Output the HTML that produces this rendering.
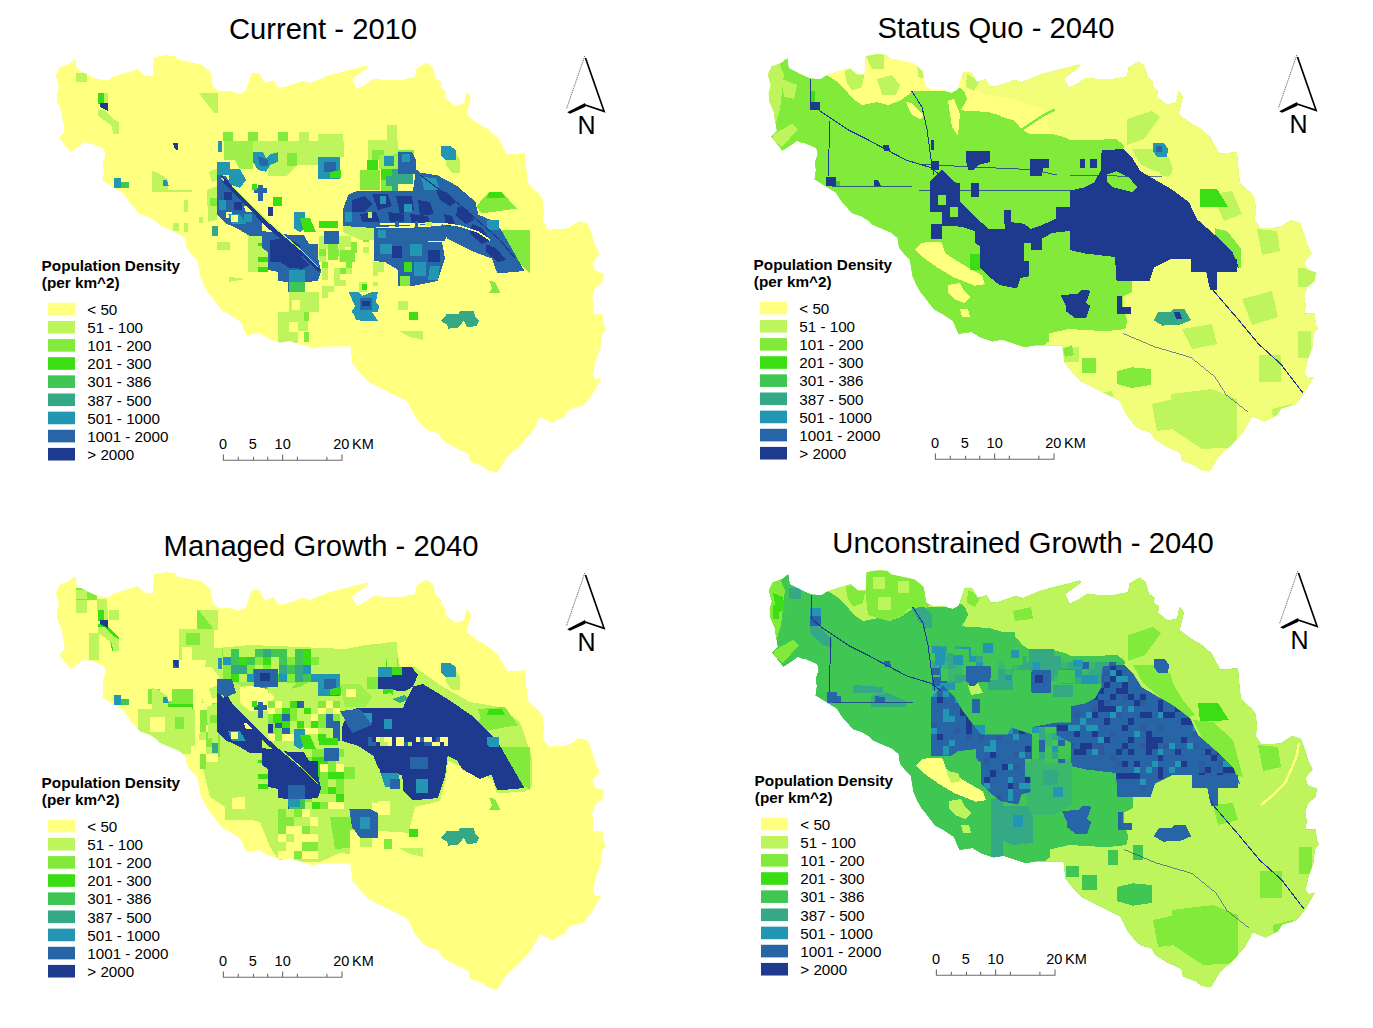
<!DOCTYPE html>
<html><head><meta charset="utf-8"><style>
html,body{margin:0;padding:0;background:#fff;}
body{width:1373px;height:1028px;overflow:hidden;}
svg{display:block;}
text{font-family:"Liberation Sans",sans-serif;fill:#000;}
.ti{font-size:29.2px;}
.lt{font-size:15.3px;font-weight:bold;}
.ll{font-size:15.2px;}
.sb{font-size:14.5px;}
.na{font-size:25px;}
</style></head><body>
<svg width="1373" height="1028" viewBox="0 0 1373 1028">
<defs>
<path id="outline" d="M55.8,75.5 L59.5,67.5 L69,63.9 L75.5,58.8 L77,69 L88,74.8 L98.1,79.2 L108.4,79.9 L114.2,76.3 L137.5,69 L144.8,75.5 L152.8,75.5 L153.6,57.3 L165.2,55.1 L174,55.8 L178.4,59.5 L201.7,64.6 L210.5,71.9 L213.4,87.9 L221.4,91.6 L229.4,90.8 L239.6,93.8 L245.8,90.2 L251.7,72.7 L259,72.7 L264.8,82.9 L273.6,80 L277.9,87.3 L283.8,87.3 L302.7,80.7 L310,82.9 L327.5,75.6 L349.4,69.8 L366.9,65.4 L368.4,67.6 L352.3,79.3 L356.7,88.8 L365.5,84.4 L374.2,78.6 L385.9,80 L400.5,80 L415,77.1 L416.5,68.3 L426.7,62.5 L432.6,66.9 L436,78.6 L441.9,82.9 L440.4,87.3 L446.3,91.7 L444.8,97.5 L455,105.5 L463.8,103.4 L466.7,91.7 L471,97.5 L466.7,115 L478.4,123.8 L488.6,129.6 L498.8,138.4 L503.2,147.1 L507.5,154.4 L525,153 L526.5,169 L528,183.6 L533.8,189.4 L538.4,193.1 L542.8,199 L544.2,212.1 L542.8,220.9 L548.6,229.6 L567.6,228.2 L579.3,220.9 L588,223.8 L592.4,235.5 L595.3,245.7 L599.7,254.5 L592.4,263.2 L595.3,270.5 L604.1,273.4 L602.6,282.2 L595.3,288 L592.4,296.8 L593.9,307 L592.4,314.3 L602.6,314.3 L604.1,325 L606,329.3 L602.1,334 L600.5,348 L595.9,360.5 L592.8,374.5 L595.9,379.1 L602.1,377.6 L591.2,396.3 L583.4,405.6 L569.4,409.5 L564.7,416.5 L552.3,422.7 L539.8,417.3 L532.1,432.1 L519.6,446.1 L507.2,457 L497.8,472.5 L488.5,471 L482.3,466.3 L469.8,461.6 L468.2,453.9 L454.2,447.6 L441.8,439.8 L438.7,433.6 L427.8,430.5 L422.4,426.1 L414.8,416.6 L407.2,401.5 L388.3,392 L369.4,382.5 L359.9,373.1 L352.3,363.6 L350.4,346.6 L323.9,346.6 L312.5,348.5 L289.8,340.9 L280.4,342.8 L269,339 L259.5,333.3 L246.3,335.2 L240.6,322 L229.2,314.4 L221.7,310.6 L210.3,295.4 L208.5,293.5 L204.4,286.6 L200.3,277.1 L198.9,269 L197.6,260.8 L192.1,255.3 L186.7,248.5 L185.3,239 L178.5,233.5 L171.7,230.8 L159.5,225.4 L155.4,221.3 L148.6,217.2 L140.4,214.5 L136.3,210.4 L128.1,200.9 L124,194 L113.2,187.2 L102.3,180.4 L103.6,170.9 L102.5,163.8 L105.4,155 L104,149.2 L93.8,144.8 L87.9,143.4 L85,141.9 L79.2,146.3 L70.4,152.1 L58.8,137.5 L64.6,131.7 L63.1,122.9 L61.7,112.7 L57.3,102.5 L56.6,93.8 L58.8,86.5 Z"/>
<clipPath id="clipO"><use href="#outline"/></clipPath>
</defs>
<g transform="translate(0,0)">
<g clip-path="url(#clipO)" shape-rendering="crispEdges">
<use href="#outline" fill="#FFFF80"/>
<polygon points="75.5,72.6 86.5,72.6 86.5,82.1 75.5,82.1" fill="#BEF55C"/>
<polygon points="98,93 104,93 104,104 98,104" fill="#3ADE12"/>
<polygon points="104,93 108.4,93 108.4,106 104,106" fill="#BEF55C"/>
<polygon points="100,103 108.4,103 108.4,111 100,107" fill="#1E3A8E"/>
<polygon points="98,110 104,110 112,118 118.6,122 118.6,134 113,134 112,126 104,120 98,116" fill="#BEF55C"/>
<polygon points="198.8,93 217.8,93 217.8,112.7 214,112.7" fill="#BEF55C"/>
<polygon points="173,143 178,142.6 178,150.7 175,149" fill="#1E3A8E"/>
<polygon points="114,178.4 121,178.4 121,182 124,182 124,187.9 114,187.9" fill="#2296B2"/>
<polygon points="121,182 128.8,182 128.8,187.9 121,187.9" fill="#40C652"/>
<polygon points="152,171 156,172 168,179 168,190 192,190 192,192 152,192 152,184" fill="#BEF55C"/>
<polygon points="163,180 167,180 169,186 163,186" fill="#2296B2"/>
<polygon points="222.8,132 232.9,132 232.9,141.4 222.8,141.4" fill="#82EA3A"/>
<polygon points="248,132 257.6,132 257.6,141.4 248,141.4" fill="#82EA3A"/>
<polygon points="278.4,132 287.9,132 287.9,141.4 278.4,141.4" fill="#82EA3A"/>
<polygon points="298.7,132 308.8,132 308.8,141.4 298.7,141.4" fill="#BEF55C"/>
<polygon points="318,134 343,134 343,141.4 318,141.4" fill="#BEF55C"/>
<polygon points="224,141.4 253,141.4 253,169.3 240,169.3 235,160 224,160" fill="#9FF04B"/>
<polygon points="253,141.4 344.2,141.4 344.2,156.6 318,156.6 318,165 297,165 287.3,175.6 268.3,175.6 268.3,156.6 253,156.6" fill="#BEF55C"/>
<polygon points="287.3,152.8 297.4,152.8 297.4,165.5 287.3,165.5" fill="#82EA3A"/>
<polygon points="386.6,125 396.7,125 396.7,151.6 386.6,151.6" fill="#BEF55C"/>
<polygon points="367.6,141.4 386,141.4 386,150 377.7,155 377.7,171.8 367.6,171.8" fill="#BEF55C"/>
<polygon points="382.8,150.3 414.4,150.3 414.4,166.7 382.8,166.7" fill="#82EA3A"/>
<polygon points="446,152.8 456,152.8 460,160 460,173 452,173 446,165" fill="#BEF55C"/>
<polygon points="441,145.9 450,145.9 456,150 456,160.4 446,160.4 441,155" fill="#2296B2"/>
<polygon points="209,172 218,168 218,180 212,182" fill="#BEF55C"/>
<polygon points="217,242 230,242 230,250 217,250" fill="#BEF55C"/>
<polygon points="184,200 188,200 188,212 184,212" fill="#BEF55C"/>
<polygon points="173,222.6 178.5,222.6 178.5,230.8 173,230.8" fill="#BEF55C"/>
<polygon points="184,222.6 188,222.6 188,232 184,232" fill="#BEF55C"/>
<polygon points="199,217 203,217 203,222.6 199,222.6" fill="#BEF55C"/>
<polygon points="248,236.3 268.3,236.3 268.3,271.7 248,271.7" fill="#BEF55C"/>
<polygon points="258.2,242.6 268.3,242.6 268.3,246.4 258.2,246.4" fill="#3ADE12"/>
<polygon points="258.2,256.6 268.3,256.6 268.3,261.6 258.2,261.6" fill="#3ADE12"/>
<polygon points="258.2,266.7 268.3,266.7 268.3,271.7 258.2,271.7" fill="#3ADE12"/>
<polygon points="288.5,292 319,292 319,312 308,312 308,331 298,331 298,342.6 278.4,342.6 278.4,312.2 288.5,312.2" fill="#BEF55C"/>
<polygon points="292,300 300,300 300,310 292,310" fill="#FFFF80"/>
<polygon points="288.5,322 298,322 298,332 288.5,332" fill="#FFFF80"/>
<polygon points="304,312 309,312 309,321 304,321" fill="#82EA3A"/>
<polygon points="304,332 309,332 309,342 304,342" fill="#82EA3A"/>
<rect x="319.0" y="236.0" width="6.8" height="6.8" fill="#BEF55C"/><rect x="325.5" y="236.0" width="6.8" height="6.8" fill="#FFFF80"/><rect x="332.0" y="236.0" width="6.8" height="6.8" fill="#FFFF80"/><rect x="338.5" y="236.0" width="6.8" height="6.8" fill="#BEF55C"/><rect x="319.0" y="242.5" width="6.8" height="6.8" fill="#BEF55C"/><rect x="325.5" y="242.5" width="6.8" height="6.8" fill="#BEF55C"/><rect x="332.0" y="242.5" width="6.8" height="6.8" fill="#FFFF80"/><rect x="338.5" y="242.5" width="6.8" height="6.8" fill="#BEF55C"/><rect x="319.0" y="249.0" width="6.8" height="6.8" fill="#82EA3A"/><rect x="325.5" y="249.0" width="6.8" height="6.8" fill="#FFFF80"/><rect x="332.0" y="249.0" width="6.8" height="6.8" fill="#82EA3A"/><rect x="338.5" y="249.0" width="6.8" height="6.8" fill="#BEF55C"/><rect x="319.0" y="255.5" width="6.8" height="6.8" fill="#BEF55C"/><rect x="325.5" y="255.5" width="6.8" height="6.8" fill="#FFFF80"/><rect x="332.0" y="255.5" width="6.8" height="6.8" fill="#FFFF80"/><rect x="338.5" y="255.5" width="6.8" height="6.8" fill="#BEF55C"/>
<rect x="345.0" y="236.0" width="6.3" height="5.8" fill="#BEF55C"/><rect x="351.0" y="236.0" width="6.3" height="5.8" fill="#FFFF80"/><rect x="357.0" y="236.0" width="6.3" height="5.8" fill="#FFFF80"/><rect x="363.0" y="236.0" width="6.3" height="5.8" fill="#82EA3A"/><rect x="345.0" y="241.5" width="6.3" height="5.8" fill="#BEF55C"/><rect x="351.0" y="241.5" width="6.3" height="5.8" fill="#82EA3A"/><rect x="357.0" y="241.5" width="6.3" height="5.8" fill="#FFFF80"/><rect x="363.0" y="241.5" width="6.3" height="5.8" fill="#FFFF80"/><rect x="345.0" y="247.0" width="6.3" height="5.8" fill="#FFFF80"/><rect x="351.0" y="247.0" width="6.3" height="5.8" fill="#82EA3A"/><rect x="357.0" y="247.0" width="6.3" height="5.8" fill="#FFFF80"/><rect x="363.0" y="247.0" width="6.3" height="5.8" fill="#BEF55C"/><rect x="345.0" y="252.5" width="6.3" height="5.8" fill="#82EA3A"/><rect x="351.0" y="252.5" width="6.3" height="5.8" fill="#FFFF80"/><rect x="357.0" y="252.5" width="6.3" height="5.8" fill="#FFFF80"/><rect x="363.0" y="252.5" width="6.3" height="5.8" fill="#FFFF80"/>
<rect x="322.0" y="262.0" width="6.3" height="6.3" fill="#82EA3A"/><rect x="328.0" y="262.0" width="6.3" height="6.3" fill="#FFFF80"/><rect x="334.0" y="262.0" width="6.3" height="6.3" fill="#FFFF80"/><rect x="340.0" y="262.0" width="6.3" height="6.3" fill="#FFFF80"/><rect x="346.0" y="262.0" width="6.3" height="6.3" fill="#82EA3A"/><rect x="322.0" y="268.0" width="6.3" height="6.3" fill="#BEF55C"/><rect x="328.0" y="268.0" width="6.3" height="6.3" fill="#FFFF80"/><rect x="334.0" y="268.0" width="6.3" height="6.3" fill="#BEF55C"/><rect x="340.0" y="268.0" width="6.3" height="6.3" fill="#82EA3A"/><rect x="346.0" y="268.0" width="6.3" height="6.3" fill="#BEF55C"/><rect x="322.0" y="274.0" width="6.3" height="6.3" fill="#BEF55C"/><rect x="328.0" y="274.0" width="6.3" height="6.3" fill="#FFFF80"/><rect x="334.0" y="274.0" width="6.3" height="6.3" fill="#BEF55C"/><rect x="340.0" y="274.0" width="6.3" height="6.3" fill="#FFFF80"/><rect x="346.0" y="274.0" width="6.3" height="6.3" fill="#FFFF80"/><rect x="322.0" y="280.0" width="6.3" height="6.3" fill="#FFFF80"/><rect x="328.0" y="280.0" width="6.3" height="6.3" fill="#FFFF80"/><rect x="334.0" y="280.0" width="6.3" height="6.3" fill="#BEF55C"/><rect x="340.0" y="280.0" width="6.3" height="6.3" fill="#BEF55C"/><rect x="346.0" y="280.0" width="6.3" height="6.3" fill="#FFFF80"/><rect x="322.0" y="286.0" width="6.3" height="6.3" fill="#BEF55C"/><rect x="328.0" y="286.0" width="6.3" height="6.3" fill="#BEF55C"/><rect x="334.0" y="286.0" width="6.3" height="6.3" fill="#FFFF80"/><rect x="340.0" y="286.0" width="6.3" height="6.3" fill="#FFFF80"/><rect x="346.0" y="286.0" width="6.3" height="6.3" fill="#FFFF80"/><rect x="322.0" y="292.0" width="6.3" height="6.3" fill="#BEF55C"/><rect x="328.0" y="292.0" width="6.3" height="6.3" fill="#FFFF80"/><rect x="334.0" y="292.0" width="6.3" height="6.3" fill="#FFFF80"/><rect x="340.0" y="292.0" width="6.3" height="6.3" fill="#FFFF80"/><rect x="346.0" y="292.0" width="6.3" height="6.3" fill="#FFFF80"/>
<polygon points="358.7,281.7 367.4,281.7 367.4,291.8 358.7,291.8" fill="#BEF55C"/>
<polygon points="362,284 367,284 367,290 362,290" fill="#3ADE12"/>
<polygon points="327.7,242.6 337.9,242.6 337.9,260.4 327.7,260.4" fill="#82EA3A"/>
<polygon points="340,250 355,250 355,262 340,262" fill="#82EA3A"/>
<polygon points="229,276.8 245.5,279 229,281.9" fill="#BEF55C"/>
<polygon points="398,300.8 408,300.8 408,309.7 398,309.7" fill="#BEF55C"/>
<polygon points="399.2,331.2 423.2,331.2 423.2,340 410,337" fill="#BEF55C"/>
<polygon points="489,280.6 495,282 500.4,293.2 489,293.2 492,288" fill="#82EA3A"/>
<polygon points="373,271 378,271 378,276 373,276" fill="#BEF55C"/>
<polygon points="373,282 378,282 378,286 373,286" fill="#BEF55C"/>
<polygon points="476.4,206 489,192 501.7,192 516.8,208.5 481.4,213.5" fill="#82EA3A"/>
<polygon points="489,192 501.7,192 505,198 487,198" fill="#3ADE12"/>
<polygon points="492.8,230 530,230 530,273 524.4,268 511.8,255.3 499.1,242.6" fill="#82EA3A"/>
<polygon points="207,190 217,186 217,220 208,222" fill="#BEF55C"/>
<polygon points="210,198 217,198 217,206 210,206" fill="#82EA3A"/>
<polygon points="212,226 218,226 218,236 212,236" fill="#35A985"/>
<polygon points="217,162 230,162 230,174.5 217,174.5" fill="#2296B2"/>
<polygon points="217,174.5 226,176 232,186 240,196 250,206 262,216 262,236 250,236 240,230 232,226 226,224 217,214" fill="#2865A6"/>
<polygon points="224,192 232,192 232,200 224,200" fill="#1E3A8E"/>
<polygon points="234,202 242,202 242,210 234,210" fill="#1E3A8E"/>
<polygon points="219,200 226,200 226,210 219,210" fill="#2296B2"/>
<polygon points="244,214 252,214 252,222 244,222" fill="#2296B2"/>
<polygon points="226,212 232,212 232,218 226,218" fill="#FFFF80"/>
<polygon points="229,169 240,169 246,180 240,188 229,184" fill="#2296B2"/>
<polygon points="228,214 240,214 246,224 232,224" fill="#2296B2"/>
<polygon points="231,215 238,215 238,222 231,222" fill="#FFFF80"/>
<polygon points="244,206 250,206 252,212 246,212" fill="#FFFF80"/>
<polygon points="262,231 276,233 290,235 304,235 309,244 318,244 318,258 321,271 318,281 305,282 305,292 288,292 288,282 278,281 278,272 268,270 268,252 262,248" fill="#2865A6"/>
<polygon points="270,240 288,238 300,245 302,268 290,268 280,262 270,262" fill="#1E3A8E"/>
<polygon points="286,252 300,256 310,265 300,270" fill="#1E3A8E"/>
<polygon points="288.5,270 305,270 305,281.9 288.5,281.9" fill="#2296B2"/>
<polygon points="288.5,281.9 305,281.9 305,292 288.5,292" fill="#40C652"/>
<polygon points="217.7,141.4 222.1,141.4 222.1,151.6 217.7,151.6" fill="#2296B2"/>
<polyline points="222,178 245,200 270,224 300,250 318,268" fill="none" stroke="#BEF55C" stroke-width="2.2"/>
<polyline points="224,181 248,205 272,228 300,252 320,271" fill="none" stroke="#1E3A8E" stroke-width="3"/>
<polygon points="253,152.2 263,152.2 266,158 271,154 277.8,152.2 277.8,162 270,165 266,171.8 258,170 253,162" fill="#2296B2"/>
<polygon points="258,156 268,160 268,166 260,166" fill="#2865A6"/>
<polygon points="318.3,156.6 340.4,156.6 340.4,179.4 318.3,179.4" fill="#2296B2"/>
<polygon points="324,162 336,162 336,172 324,172" fill="#2865A6"/>
<polygon points="330,172 341,170 341,178 330,178" fill="#3ADE12"/>
<polygon points="258,184.5 263,184.5 263,188 267,188 267,193 263,193 263,200.9 258,200.9 258,193 254,193 254,188 258,188" fill="#2865A6"/>
<polygon points="252,184 257,184 257,190 252,190" fill="#3ADE12"/>
<polygon points="273.4,197 282.2,197 282.2,206 273.4,206" fill="#3ADE12"/>
<polygon points="268.3,207.2 272.7,207.2 272.7,216 268.3,216" fill="#1E3A8E"/>
<polygon points="293.6,212.3 305,212.3 305,228 300,232.5 293.6,228" fill="#2296B2"/>
<polygon points="300,218 310,218 316,232 304,232" fill="#3ADE12"/>
<polygon points="318.9,221 337.9,221 337.9,227.5 318.9,227.5" fill="#3ADE12"/>
<polygon points="323.8,231.4 338.7,231.4 338.7,243.8 323.8,243.8" fill="#2865A6"/>
<polygon points="367.7,140 398.4,140 398.4,154 380,156 367.7,159" fill="#BEF55C"/>
<polygon points="372,150 384,150 384,160 372,160" fill="#82EA3A"/>
<polygon points="379.4,154.6 398.4,154.6 398.4,169.2 379.4,169.2" fill="#9FF04B"/>
<polygon points="384,156 394,156 394,166 384,166" fill="#2296B2"/>
<polygon points="380.8,169.2 392,169.2 392,180 380.8,180" fill="#3ADE12"/>
<polygon points="380.8,180 392,180 392,191 380.8,191" fill="#82EA3A"/>
<polygon points="392,169.2 398.4,169.2 398.4,191 392,191" fill="#35A985"/>
<polygon points="386,176 398,176 398,186 386,186" fill="#35A985"/>
<polygon points="398.4,151.7 412,151.7 416,160 416,173.6 398.4,173.6" fill="#2865A6"/>
<polygon points="402,154 410,154 410,162 402,162" fill="#2296B2"/>
<polygon points="398.4,173.6 413,173.6 413,183.8 398.4,183.8" fill="#35A985"/>
<polygon points="367,160 378,160 378,170 367,170" fill="#3ADE12"/>
<polygon points="360,170 380,170 380,190 360,190" fill="#82EA3A"/>
<polygon points="415.9,169.2 420,172.5 437.5,175.4 456.5,185.6 475.4,201.7 478.4,214.8 495.9,222 501.7,231 507.5,241 524.4,271 497.2,273.5 492.2,258.7 472.4,251.3 447.6,238.9 440,228 442,224 432,205 420,192 413,191" fill="#2865A6"/>
<polygon points="420,176 430,178 436,188 426,190" fill="#2296B2"/>
<polygon points="436,190 446,192 456,202 450,206 440,200" fill="#1E3A8E"/>
<polygon points="458,206 468,210 474,220 466,224 456,216" fill="#1E3A8E"/>
<polygon points="472,224 482,228 490,240 482,244 470,234" fill="#1E3A8E"/>
<polygon points="486,244 496,248 506,260 498,262 486,252" fill="#1E3A8E"/>
<polygon points="444,214 452,216 456,226 446,226" fill="#1E3A8E"/>
<polygon points="343,209 348.6,194.3 358.5,190.6 403,190.6 413,191 420,192 432,205 442,224 378,227 373.4,228 358.5,229 343,226" fill="#2865A6"/>
<polygon points="352,200 364,196 372,204 364,212 352,212" fill="#1E3A8E"/>
<polygon points="372,194 388,194 392,206 378,210" fill="#1E3A8E"/>
<polygon points="396,196 412,196 414,210 400,214" fill="#1E3A8E"/>
<polygon points="418,200 430,202 434,214 420,216" fill="#1E3A8E"/>
<polygon points="360,214 376,212 380,222 362,222" fill="#1E3A8E"/>
<polygon points="388,212 404,214 404,222 390,222" fill="#1E3A8E"/>
<polygon points="410,214 428,216 430,224 412,224" fill="#1E3A8E"/>
<polygon points="345,212 352,212 352,222 345,222" fill="#2296B2"/>
<polygon points="380,196 386,196 386,204 380,204" fill="#2296B2"/>
<polygon points="404,204 412,204 412,212 404,212" fill="#2296B2"/>
<polygon points="368,212 372,212 372,218 368,218" fill="#BEF55C"/>
<polygon points="380,222.5 400,223 420,223 442,222.5 444,224 420,224.5 400,225 380,225" fill="#FFFF80"/>
<polygon points="395,221 399,221 399,227 395,227" fill="#2865A6"/>
<polyline points="442,223.5 460,226 478,232 490,240" fill="none" stroke="#FFFF80" stroke-width="1.6"/>
<polygon points="422,178 436,178 440,190 424,190" fill="#2296B2"/>
<polygon points="415,221 418,221 418,227 415,227" fill="#2865A6"/>
<polygon points="425,222 432,222 432,226 425,226" fill="#BEF55C"/>
<polygon points="373.6,228 405.6,228 405.6,240.7 373.6,240.7" fill="#2865A6"/>
<polygon points="343,226 373.6,228 373.6,240 360,240 343,232" fill="#BEF55C"/>
<polygon points="378,230 386,230 386,238 378,238" fill="#2296B2"/>
<polygon points="405.6,228 440,226 448,232 445,240.7 405.6,240.7" fill="#2865A6"/>
<polygon points="373.6,240.7 405.6,240.7 442,242 445,258.7 437.7,281 413,286 398,286 398,270 385,262 373.6,261" fill="#2865A6"/>
<polygon points="380,244 392,244 392,254 380,254" fill="#2296B2"/>
<polygon points="392,246 402,246 402,258 392,258" fill="#1E3A8E"/>
<polygon points="410,244 422,244 422,256 410,256" fill="#2296B2"/>
<polygon points="404,262 412,262 412,272 404,272" fill="#3ADE12"/>
<polygon points="414,262 426,262 426,276 414,276" fill="#2296B2"/>
<polygon points="400,276 410,276 410,286 400,286" fill="#82EA3A"/>
<polygon points="428,250 440,250 440,262 428,262" fill="#1E3A8E"/>
<polygon points="430,266 440,266 438,280 428,280" fill="#2296B2"/>
<polygon points="373,262 384,262 384,272 373,272" fill="#BEF55C"/>
<polygon points="486.5,220 499,220 499,230 486.5,230" fill="#2296B2"/>
<polygon points="348.5,292 358,292 362,296 372,292 378,292 376,302 379,306 378,312 372,312 378,321 360,321 352,312 355,306" fill="#2296B2"/>
<polygon points="360,298 372,298 372,310 360,310" fill="#2865A6"/>
<polygon points="362,301 370,301 370,306 362,306" fill="#1E3A8E"/>
<polygon points="352,310 366,310 368,320 356,320" fill="#2296B2"/>
<polygon points="408.7,311.6 418.2,311.6 418.2,320.4 408.7,320.4" fill="#3ADE12"/>
<polygon points="441,321 447.3,313.5 458.7,313.5 460,311 473.8,311 475.1,316 478.9,321 476.4,326 467.5,327.4 463.7,321 458.7,327.4 448.5,328.7 447.3,324.9" fill="#35A985"/>
<polyline points="222,176 240,196 262,222 300,255" fill="none" stroke="#1E3A8E" stroke-width="1.5"/>
<polyline points="420,175 460,205 500,240 515,258" fill="none" stroke="#1E3A8E" stroke-width="1.2"/>
</g>
<text x="41.6" y="271.3" class="lt">Population Density</text>
<text x="41.8" y="287.8" class="lt">(per km^2)</text>
<rect x="48" y="302.80" width="27" height="12.6" fill="#FFFF80"/>
<text x="87.3" y="314.90" class="ll">< 50</text>
<rect x="48" y="320.94" width="27" height="12.6" fill="#BEF55C"/>
<text x="87.3" y="333.04" class="ll">51 - 100</text>
<rect x="48" y="339.08" width="27" height="12.6" fill="#82EA3A"/>
<text x="87.3" y="351.18" class="ll">101 - 200</text>
<rect x="48" y="357.22" width="27" height="12.6" fill="#3ADE12"/>
<text x="87.3" y="369.32" class="ll">201 - 300</text>
<rect x="48" y="375.36" width="27" height="12.6" fill="#40C652"/>
<text x="87.3" y="387.46" class="ll">301 - 386</text>
<rect x="48" y="393.50" width="27" height="12.6" fill="#35A985"/>
<text x="87.3" y="405.60" class="ll">387 - 500</text>
<rect x="48" y="411.64" width="27" height="12.6" fill="#2296B2"/>
<text x="87.3" y="423.74" class="ll">501 - 1000</text>
<rect x="48" y="429.78" width="27" height="12.6" fill="#2865A6"/>
<text x="87.3" y="441.88" class="ll">1001 - 2000</text>
<rect x="48" y="447.92" width="27" height="12.6" fill="#1E3A8E"/>
<text x="87.3" y="460.02" class="ll">> 2000</text>
<path d="M223.4 454.5 V460.2 H342 V454.5 M238.3 456.8 V460.2 M253.5 456.8 V460.2 M267.7 456.8 V460.2 M282.6 454.5 V460.2 M297.4 456.8 V460.2 M326.9 456.8 V460.2" fill="none" stroke="#6b6b6b" stroke-width="1.1"/>
<text x="219.0" y="449.4" class="sb">0</text>
<text x="248.7" y="449.4" class="sb">5</text>
<text x="274.6" y="449.4" class="sb">10</text>
<text x="333.3" y="449.4" class="sb">20</text>
<text x="352.0" y="449.4" class="sb">KM</text>
<path d="M584.8 56 L566.4 109.1" stroke="#444" stroke-width="0.8" stroke-dasharray="1.2 0.8" fill="none"/>
<path d="M585.5 58 L604.1 111.3 L584.4 104.8" stroke="#000" stroke-width="1.7" fill="none" stroke-linejoin="miter"/>
<path d="M569 112.3 L584.4 104.3 L584.6 106.2 L570 112.8 Z" fill="#000" stroke="#000" stroke-width="1.6"/>
<text x="577.6" y="133.5" class="na">N</text>
</g>
<text x="323" y="38.6" class="ti" text-anchor="middle">Current - 2010</text>
<g transform="translate(712,-1)">
<g clip-path="url(#clipO)" shape-rendering="crispEdges">
<use href="#outline" fill="#82EA3A"/>
<polygon points="55,70 66,62 72,75 68,110 62,130 56,120" fill="#BEF55C"/>
<polygon points="62,135 80,125 86,130 70,148 60,140" fill="#BEF55C"/>
<polygon points="70,80 85,86 82,100 72,98" fill="#BEF55C"/>
<polygon points="100,50 113.6,75.4 125.3,82.7 132.6,90 141.4,100.2 150.1,106 164.7,103.1 176.4,106 188,101.7 198.3,94.4 199.7,91.5 236.2,91.5 248,88.6 252,92 255.3,100 248.9,111.3 276.1,113 287.4,116.2 288,117.3 302.6,121.6 309.9,130.4 317,134.8 339,134.8 350.7,137.7 357.3,140.6 368,141.3 388,140.6 404.5,140.2 412.5,146.6 411,150 440,200 470,240 450.5,260 439.6,268.8 437.4,281.9 420,281.9 420,292.8 411.2,297.2 411.2,310.3 415.5,321.3 413.3,330 393.6,332.2 356.4,330 336.8,334.4 337.2,342 330,348 330,490 630,490 630,50" fill="#F2FD79"/>
<polygon points="113.6,75.4 125.3,82.7 132.6,90 141.4,100.2 150.1,106 164.7,103.1 176.4,106 188,101.7 198.3,94.4 199.7,91.5 236.2,91.5 248,88.6 252,92 255.3,100 248.9,111.3 276.1,113 287.4,116.2 288,117.3 302.6,121.6 309.9,130.4 317,134.8 339,134.8 335,120 330,110 300,100 270,95 250,80 240,60 110,60" fill="#FFFF80"/>
<polygon points="193.9,103.1 200,104 211.4,116 209,120.6 200,116" fill="#FFFF80"/>
<polygon points="236,101.7 242,100 248,115 246,136.7 240,128" fill="#FFFF80"/>
<polygon points="132.6,72 145,68 153,72 150,88 140,91.5 135,84" fill="#BEF55C"/>
<polygon points="153,55 172,55 172,69.6 160,70" fill="#BEF55C"/>
<polygon points="165,80 180,76 188,86 184,96 170,96" fill="#BEF55C"/>
<polygon points="205,62 215,66 214,80 206,78" fill="#BEF55C"/>
<polygon points="255,75 268,82 262,92 254,88" fill="#BEF55C"/>
<polygon points="415,120 440,112 448,118 432,140 415,146" fill="#BEF55C"/>
<polygon points="420,150 448,150 460,175 442,172 428,165" fill="#BEF55C"/>
<polygon points="350,347.5 367,347.5 367,363 350,363" fill="#BEF55C"/>
<polygon points="459,395 500,390 525,400 525,448 490,450 460,430" fill="#BEF55C"/>
<polygon points="547,356 569,356 569,382.5 547,382.5" fill="#BEF55C"/>
<polygon points="586,268.8 604,268.8 604,288.4 586,288.4" fill="#BEF55C"/>
<polygon points="586,332 599,332 599,358.5 586,358.5" fill="#BEF55C"/>
<polygon points="470,330 500,325 505,345 480,350" fill="#BEF55C"/>
<polygon points="530,300 560,292 566,318 540,326" fill="#BEF55C"/>
<polygon points="500,195 520,192 530,215 512,222" fill="#BEF55C"/>
<polygon points="545,230 565,232 568,252 550,256" fill="#BEF55C"/>
<polygon points="440,405 462,400 462,430 445,432" fill="#BEF55C"/>
<polygon points="380,395 400,392 405,412 385,415" fill="#BEF55C"/>
<polygon points="560,410 580,405 582,430 562,432" fill="#BEF55C"/>
<polyline points="309.9,130.4 320,124 332,116 342.7,110.7" fill="none" stroke="#82EA3A" stroke-width="2.5"/>
<polygon points="203,250.2 210.3,243.6 229.3,243 233.6,254.6 249.7,264.8 270.1,276.5 273,285.2 262.8,286.7 241,278 226.4,269.2 211.8,259" fill="#FFFF80"/>
<polygon points="236,286 248,284 252,292 258,298 252,304 242,300 236,294" fill="#FFFF80"/>
<polygon points="248,310 256,310 258,318 250,318" fill="#FFFF80"/>
<polygon points="258.4,254.6 268.7,254.6 268.7,270.6 258.4,270.6" fill="#3ADE12"/>
<polygon points="98.3,92.2 103.4,92.2 103.4,103.1 98.3,103.1" fill="#3ADE12"/>
<polygon points="487.7,190 505,190 516,207.5 487.7,207.5" fill="#3ADE12"/>
<polygon points="503,229.4 515,232 529.3,250 529.3,268.8 503,262" fill="#82EA3A"/>
<polygon points="119.5,182 128.2,182 128.2,187 119.5,187" fill="#40C652"/>
<polygon points="217.5,182.8 229.8,170.5 242,182.8 248,184.5 248,202 257.8,212.5 264.8,219.5 277,230 292.8,230 292.8,212.5 298,212.5 298,223 312,224.8 319,230 330,226 343.5,220 343.5,207.6 358,207.6 358,191.6 372.4,188.4 382,183.6 388.5,172.3 388.5,159.5 390,151.5 411,149.9 420.6,159.5 428.6,172.3 441.8,180 459.3,190 476.8,203 485.5,220.7 503,236 520.6,253.5 527,268.8 516.2,264.4 492,260 459.3,260 441.8,268.8 437.4,281.9 404.6,281.9 403,258 373.3,254.5 357.5,251 357.5,232 340,234 329.5,240 329.5,251 319,251 319,244 312,244 312,261.5 317.3,261.5 317.3,277.3 308.5,279 305,289.6 287.5,286 278.8,279 268.3,268.5 268.3,247.5 263,244 263,232 250,228 238.5,226.5 229.8,226.5 229.8,212.5 217.5,212.5" fill="#1E3A8E"/>
<polygon points="226,196 234,196 234,206 226,206" fill="#82EA3A"/>
<polygon points="238,208 246,208 246,218 238,218" fill="#82EA3A"/>
<polygon points="394.9,175.5 404.5,172.3 417.3,178.7 425.4,188.4 420.6,193.2 401.3,188.4 394.9,182" fill="#82EA3A"/>
<polygon points="218.7,161.6 227.4,161.6 227.4,170.5 218.7,170.5" fill="#1E3A8E"/>
<polygon points="218.7,141 221.6,141 221.6,151.3 218.7,151.3" fill="#1E3A8E"/>
<polygon points="218.7,225 229.6,225 229.6,240.4 218.7,240.4" fill="#1E3A8E"/>
<polygon points="253.7,151.5 277.7,151.5 277.7,163 266,166 262,170.7 256,170.7 253.7,160" fill="#1E3A8E"/>
<polygon points="317.9,159.5 337.1,159.5 337.1,169 331,169 330,177.1 317.9,177.1" fill="#1E3A8E"/>
<polygon points="367.6,159.5 373,159.5 373,169.1 367.6,169.1" fill="#1E3A8E"/>
<polygon points="378,160 385.3,160 385.3,169.1 378,169.1" fill="#1E3A8E"/>
<polygon points="258.5,183.6 267.3,183.6 267.3,198 258.5,198" fill="#1E3A8E"/>
<polygon points="292,210.8 298.6,210.8 298.6,225 292,225" fill="#1E3A8E"/>
<polygon points="113.6,177.5 123.9,177.5 123.9,187 113.6,187" fill="#1E3A8E"/>
<polygon points="98.3,103.1 107.8,103.1 107.8,111.2 98.3,111.2" fill="#1E3A8E"/>
<polygon points="348.8,296 365.2,295 369.6,290.6 378.3,291.7 374,303.8 378.3,307 374,319 363,319 354.3,312.5 354.3,308" fill="#1E3A8E"/>
<polygon points="404.6,297.2 410,297.2 410,308 418.8,308 418.8,314.7 404.6,314.7" fill="#1E3A8E"/>
<polygon points="494.3,273 505.2,273 505.2,290.6 498,290.6" fill="#1E3A8E"/>
<polygon points="171,146 177,146 178,152 172,152" fill="#1E3A8E"/>
<polygon points="161.8,180.5 166,180.5 169,187 161.8,187" fill="#1E3A8E"/>
<polygon points="479,260 525,260 525,273 479,273" fill="#1E3A8E"/>
<polygon points="441.8,321.3 446.2,312.5 459.3,312.5 461.5,310.3 472.4,310.3 479,321.3 468,325.6 457,325.6 450.5,326.7" fill="#35A985"/>
<polygon points="462,313 468,313 470,320 464,320" fill="#1E3A8E"/>
<polygon points="441,144 452,144 456,150 455,159 446,159 441,152" fill="#2296B2"/>
<polygon points="444,147 450,147 450,153 444,153" fill="#2865A6"/>
<polygon points="446,158 457,158 461,170 457,178 448,176" fill="#BEF55C"/>
<polygon points="369.6,358.5 383.8,358.5 383.8,373.8 369.6,373.8" fill="#82EA3A"/>
<polygon points="404.6,372 420,368.3 438.5,370 438.5,386 420,389 404.6,385" fill="#82EA3A"/>
<polygon points="351,350 360,346 362,356 353,358" fill="#82EA3A"/>
<polyline points="98.3,80 99,104 108,112 118,118.7 135.5,130.4 150.1,137.7 172,149.4 193.9,161 218,168.3 228,176" fill="none" stroke="#1E3A8E" stroke-width="1.1"/>
<polyline points="118,122 116,178" fill="none" stroke="#1E3A8E" stroke-width="1.0"/>
<polyline points="199.7,92 210,108 215,130 219,160 222,176" fill="none" stroke="#1E3A8E" stroke-width="1.0"/>
<polyline points="120,187 200,187" fill="none" stroke="#1E3A8E" stroke-width="0.8"/>
<polyline points="207,165 260,168 319,170.5 345,176" fill="none" stroke="#1E3A8E" stroke-width="0.8"/>
<polyline points="207,191.5 357.5,191.5" fill="none" stroke="#1E3A8E" stroke-width="0.8"/>
<polyline points="357.5,176 450,178" fill="none" stroke="#1E3A8E" stroke-width="0.7"/>
<polyline points="496,282 500,290 512,304 525,319 546.8,345.3 568.7,365 590.6,393.5" fill="none" stroke="#1E3A8E" stroke-width="1.1"/>
<polyline points="411,334.4 441.8,347.5 479,358.5 503,378 514,395.7 536,413" fill="none" stroke="#1E3A8E" stroke-width="0.6"/>
</g>
<text x="41.6" y="271.3" class="lt">Population Density</text>
<text x="41.8" y="287.8" class="lt">(per km^2)</text>
<rect x="48" y="302.80" width="27" height="12.6" fill="#FFFF80"/>
<text x="87.3" y="314.90" class="ll">< 50</text>
<rect x="48" y="320.94" width="27" height="12.6" fill="#BEF55C"/>
<text x="87.3" y="333.04" class="ll">51 - 100</text>
<rect x="48" y="339.08" width="27" height="12.6" fill="#82EA3A"/>
<text x="87.3" y="351.18" class="ll">101 - 200</text>
<rect x="48" y="357.22" width="27" height="12.6" fill="#3ADE12"/>
<text x="87.3" y="369.32" class="ll">201 - 300</text>
<rect x="48" y="375.36" width="27" height="12.6" fill="#40C652"/>
<text x="87.3" y="387.46" class="ll">301 - 386</text>
<rect x="48" y="393.50" width="27" height="12.6" fill="#35A985"/>
<text x="87.3" y="405.60" class="ll">387 - 500</text>
<rect x="48" y="411.64" width="27" height="12.6" fill="#2296B2"/>
<text x="87.3" y="423.74" class="ll">501 - 1000</text>
<rect x="48" y="429.78" width="27" height="12.6" fill="#2865A6"/>
<text x="87.3" y="441.88" class="ll">1001 - 2000</text>
<rect x="48" y="447.92" width="27" height="12.6" fill="#1E3A8E"/>
<text x="87.3" y="460.02" class="ll">> 2000</text>
<path d="M223.4 454.5 V460.2 H342 V454.5 M238.3 456.8 V460.2 M253.5 456.8 V460.2 M267.7 456.8 V460.2 M282.6 454.5 V460.2 M297.4 456.8 V460.2 M326.9 456.8 V460.2" fill="none" stroke="#6b6b6b" stroke-width="1.1"/>
<text x="219.0" y="449.4" class="sb">0</text>
<text x="248.7" y="449.4" class="sb">5</text>
<text x="274.6" y="449.4" class="sb">10</text>
<text x="333.3" y="449.4" class="sb">20</text>
<text x="352.0" y="449.4" class="sb">KM</text>
<path d="M584.8 56 L566.4 109.1" stroke="#444" stroke-width="0.8" stroke-dasharray="1.2 0.8" fill="none"/>
<path d="M585.5 58 L604.1 111.3 L584.4 104.8" stroke="#000" stroke-width="1.7" fill="none" stroke-linejoin="miter"/>
<path d="M569 112.3 L584.4 104.3 L584.6 106.2 L570 112.8 Z" fill="#000" stroke="#000" stroke-width="1.6"/>
<text x="577.6" y="133.5" class="na">N</text>
</g>
<text x="996" y="38.4" class="ti" text-anchor="middle">Status Quo - 2040</text>
<g transform="translate(0,517)">
<g clip-path="url(#clipO)" shape-rendering="crispEdges">
<use href="#outline" fill="#FFFF80"/>
<polygon points="75.7,71.4 97.2,71.4 97.2,82.6 75.7,82.6" fill="#82EA3A"/>
<polygon points="75.7,82.6 87,82.6 87,96 75.7,96" fill="#BEF55C"/>
<polygon points="97.2,81.6 107.4,81.6 107.4,93.8 97.2,93.8" fill="#BEF55C"/>
<polygon points="98.2,92.8 108.4,92.8 108.4,104 98.2,104" fill="#2296B2"/>
<polygon points="102,104 108.4,104 108.4,111.2 102,111.2" fill="#2865A6"/>
<polygon points="98.2,107 106,107 118.6,120 118.6,133.7 112,133.7 110,124 98.2,114" fill="#3ADE12"/>
<polygon points="89,116.3 99.2,116.3 99.2,143 89,143" fill="#BEF55C"/>
<polygon points="109.4,92.8 118.6,92.8 118.6,103 109.4,103" fill="#BEF55C"/>
<polygon points="197.3,92.8 217.7,92.8 217.7,112.2 197.3,112.2" fill="#82EA3A"/>
<polygon points="179,112.2 213.6,112.2 213.6,143 179,143" fill="#BEF55C"/>
<polygon points="186,116 200,116 200,128 186,128" fill="#82EA3A"/>
<polygon points="182,130 192,130 192,143 182,143" fill="#FFFF80"/>
<polygon points="148,171.5 193,171.5 193,186.8 148,186.8" fill="#82EA3A"/>
<polygon points="160,172 172,172 172,184 160,184" fill="#FFFF80"/>
<polygon points="158.5,186.8 193,186.8 193,191.9 158.5,191.9" fill="#3ADE12"/>
<polygon points="138,191.9 195,191.9 195,228.6 138,228.6" fill="#BEF55C"/>
<polygon points="150,200 165,200 165,215 150,215" fill="#FFFF80"/>
<polygon points="175,200 185,200 185,212 175,212" fill="#82EA3A"/>
<polygon points="160.5,222.5 191,222.5 191,236.8 160.5,236.8" fill="#BEF55C"/>
<polygon points="172.8,142.9 178.9,142.9 178.9,151 172.8,151" fill="#2865A6"/>
<polygon points="207,132 250,128 300,130 345,132 366,128 396,125 400,150 415,150 440,168 470,185 500,190 520,205 532,240 532,270 524,275 497,276 492,262 472,254 448,244 446,262 440,284 415,290 410,310 420,342 380,340 340,336 320,345 300,345 280,345 270,330 260,305 240,300 225,290 210,280 205,260 200,240 200,200" fill="#BEF55C"/>
<polygon points="222,132 260,132 260,141 340,141 340,160 318,160 300,170 268,176 250,170 224,162" fill="#82EA3A"/>
<polygon points="240,136 256,136 256,150 240,150" fill="#3ADE12"/>
<polygon points="268,132 282,132 282,140 268,140" fill="#3ADE12"/>
<polygon points="300,140 316,140 316,152 300,152" fill="#3ADE12"/>
<polygon points="200,200 220,200 220,240 205,240" fill="#82EA3A"/>
<polygon points="300,232 340,232 345,270 330,290 305,292 300,270" fill="#82EA3A"/>
<polygon points="318,245 330,245 330,262 318,262" fill="#3ADE12"/>
<polygon points="336,268 346,268 346,285 336,285" fill="#3ADE12"/>
<polygon points="330,300 360,300 362,330 335,332" fill="#82EA3A"/>
<polygon points="300,315 312,315 312,330 300,330" fill="#3ADE12"/>
<polygon points="368,141 398,141 398,170 368,170" fill="#82EA3A"/>
<polygon points="376,145 392,145 392,160 376,160" fill="#3ADE12"/>
<polygon points="478,192 505,190 518,208 485,214" fill="#82EA3A"/>
<polygon points="489,192 502,192 505,200 487,200" fill="#3ADE12"/>
<polygon points="492,230 530,230 530,273 505,255" fill="#82EA3A"/>
<polygon points="225,273 259,273 259,303 225,303" fill="#BEF55C"/>
<polygon points="232,280 245,280 245,292 232,292" fill="#FFFF80"/>
<polygon points="372,284 390,284 390,298 372,298" fill="#FFFF80"/>
<polygon points="240,170 262,168 274,180 270,194 250,194 240,186" fill="#FFFF80"/>
<polygon points="340,167 360,167 372,180 366,190 345,190" fill="#9FF04B"/>
<polygon points="346,172 356,172 356,180 346,180" fill="#FFFF80"/>
<polygon points="200,150 212,150 219,160 219,189 205,189 200,175" fill="#FFFF80"/>
<polygon points="350,313 400,315 440,320 440,350 350,350" fill="#FFFF80"/>
<polygon points="360,318 372,318 372,330 360,330" fill="#BEF55C"/>
<polygon points="384,322 392,322 392,332 384,332" fill="#82EA3A"/>
<polygon points="75.5,72.6 86.5,72.6 86.5,82.1 75.5,82.1" fill="#BEF55C"/>
<polygon points="98,93 104,93 104,104 98,104" fill="#3ADE12"/>
<polygon points="104,93 108.4,93 108.4,106 104,106" fill="#BEF55C"/>
<polygon points="100,103 108.4,103 108.4,111 100,107" fill="#1E3A8E"/>
<polygon points="98,110 104,110 112,118 118.6,122 118.6,134 113,134 112,126 104,120 98,116" fill="#BEF55C"/>
<polygon points="198.8,93 217.8,93 217.8,112.7 214,112.7" fill="#BEF55C"/>
<polygon points="173,143 178,142.6 178,150.7 175,149" fill="#1E3A8E"/>
<polygon points="114,178.4 121,178.4 121,182 124,182 124,187.9 114,187.9" fill="#2296B2"/>
<polygon points="121,182 128.8,182 128.8,187.9 121,187.9" fill="#40C652"/>
<polygon points="152,171 156,172 168,179 168,190 192,190 192,192 152,192 152,184" fill="#BEF55C"/>
<polygon points="163,180 167,180 169,186 163,186" fill="#2296B2"/>
<polygon points="222.8,132 232.9,132 232.9,141.4 222.8,141.4" fill="#82EA3A"/>
<polygon points="248,132 257.6,132 257.6,141.4 248,141.4" fill="#82EA3A"/>
<polygon points="278.4,132 287.9,132 287.9,141.4 278.4,141.4" fill="#82EA3A"/>
<polygon points="298.7,132 308.8,132 308.8,141.4 298.7,141.4" fill="#BEF55C"/>
<polygon points="318,134 343,134 343,141.4 318,141.4" fill="#BEF55C"/>
<polygon points="224,141.4 253,141.4 253,169.3 240,169.3 235,160 224,160" fill="#9FF04B"/>
<polygon points="253,141.4 344.2,141.4 344.2,156.6 318,156.6 318,165 297,165 287.3,175.6 268.3,175.6 268.3,156.6 253,156.6" fill="#BEF55C"/>
<polygon points="287.3,152.8 297.4,152.8 297.4,165.5 287.3,165.5" fill="#82EA3A"/>
<polygon points="386.6,125 396.7,125 396.7,151.6 386.6,151.6" fill="#BEF55C"/>
<polygon points="367.6,141.4 386,141.4 386,150 377.7,155 377.7,171.8 367.6,171.8" fill="#BEF55C"/>
<polygon points="382.8,150.3 414.4,150.3 414.4,166.7 382.8,166.7" fill="#82EA3A"/>
<polygon points="446,152.8 456,152.8 460,160 460,173 452,173 446,165" fill="#BEF55C"/>
<polygon points="441,145.9 450,145.9 456,150 456,160.4 446,160.4 441,155" fill="#2296B2"/>
<polygon points="209,172 218,168 218,180 212,182" fill="#BEF55C"/>
<polygon points="217,242 230,242 230,250 217,250" fill="#BEF55C"/>
<polygon points="184,200 188,200 188,212 184,212" fill="#BEF55C"/>
<polygon points="173,222.6 178.5,222.6 178.5,230.8 173,230.8" fill="#BEF55C"/>
<polygon points="184,222.6 188,222.6 188,232 184,232" fill="#BEF55C"/>
<polygon points="199,217 203,217 203,222.6 199,222.6" fill="#BEF55C"/>
<polygon points="248,236.3 268.3,236.3 268.3,271.7 248,271.7" fill="#BEF55C"/>
<polygon points="258.2,242.6 268.3,242.6 268.3,246.4 258.2,246.4" fill="#3ADE12"/>
<polygon points="258.2,256.6 268.3,256.6 268.3,261.6 258.2,261.6" fill="#3ADE12"/>
<polygon points="258.2,266.7 268.3,266.7 268.3,271.7 258.2,271.7" fill="#3ADE12"/>
<polygon points="288.5,292 319,292 319,312 308,312 308,331 298,331 298,342.6 278.4,342.6 278.4,312.2 288.5,312.2" fill="#BEF55C"/>
<polygon points="292,300 300,300 300,310 292,310" fill="#FFFF80"/>
<polygon points="288.5,322 298,322 298,332 288.5,332" fill="#FFFF80"/>
<polygon points="304,312 309,312 309,321 304,321" fill="#82EA3A"/>
<polygon points="304,332 309,332 309,342 304,342" fill="#82EA3A"/>
<polygon points="319,235 370,235 370,262 360,275 352,290 340,300 330,300 325,280 319,262" fill="#BEF55C"/>
<polygon points="327.7,242.6 337.9,242.6 337.9,260.4 327.7,260.4" fill="#82EA3A"/>
<polygon points="340,250 355,250 355,262 340,262" fill="#82EA3A"/>
<polygon points="229,276.8 245.5,279 229,281.9" fill="#BEF55C"/>
<polygon points="398,300.8 408,300.8 408,309.7 398,309.7" fill="#BEF55C"/>
<polygon points="399.2,331.2 423.2,331.2 423.2,340 410,337" fill="#BEF55C"/>
<polygon points="489,280.6 495,282 500.4,293.2 489,293.2 492,288" fill="#82EA3A"/>
<polygon points="373,271 378,271 378,276 373,276" fill="#BEF55C"/>
<polygon points="373,282 378,282 378,286 373,286" fill="#BEF55C"/>
<polygon points="476.4,206 489,192 501.7,192 516.8,208.5 481.4,213.5" fill="#82EA3A"/>
<polygon points="489,192 501.7,192 505,198 487,198" fill="#3ADE12"/>
<polygon points="492.8,230 530,230 530,273 524.4,268 511.8,255.3 499.1,242.6" fill="#82EA3A"/>
<rect x="222.8" y="131.9" width="8.3" height="8.6" fill="#BEF55C"/><rect x="230.8" y="131.9" width="8.3" height="8.6" fill="#40C652"/><rect x="238.8" y="131.9" width="8.3" height="8.6" fill="#BEF55C"/><rect x="246.8" y="131.9" width="8.3" height="8.6" fill="#BEF55C"/><rect x="254.8" y="131.9" width="8.3" height="8.6" fill="#40C652"/><rect x="262.8" y="131.9" width="8.3" height="8.6" fill="#35A985"/><rect x="270.8" y="131.9" width="8.3" height="8.6" fill="#40C652"/><rect x="278.8" y="131.9" width="8.3" height="8.6" fill="#40C652"/><rect x="286.8" y="131.9" width="8.3" height="8.6" fill="#BEF55C"/><rect x="294.8" y="131.9" width="8.3" height="8.6" fill="#40C652"/><rect x="302.8" y="131.9" width="8.3" height="8.6" fill="#3ADE12"/><rect x="310.8" y="131.9" width="8.3" height="8.6" fill="#BEF55C"/><rect x="222.8" y="140.2" width="8.3" height="8.6" fill="#2296B2"/><rect x="230.8" y="140.2" width="8.3" height="8.6" fill="#40C652"/><rect x="238.8" y="140.2" width="8.3" height="8.6" fill="#3ADE12"/><rect x="246.8" y="140.2" width="8.3" height="8.6" fill="#40C652"/><rect x="254.8" y="140.2" width="8.3" height="8.6" fill="#82EA3A"/><rect x="262.8" y="140.2" width="8.3" height="8.6" fill="#3ADE12"/><rect x="270.8" y="140.2" width="8.3" height="8.6" fill="#BEF55C"/><rect x="278.8" y="140.2" width="8.3" height="8.6" fill="#40C652"/><rect x="286.8" y="140.2" width="8.3" height="8.6" fill="#82EA3A"/><rect x="294.8" y="140.2" width="8.3" height="8.6" fill="#40C652"/><rect x="302.8" y="140.2" width="8.3" height="8.6" fill="#3ADE12"/><rect x="310.8" y="140.2" width="8.3" height="8.6" fill="#82EA3A"/><rect x="222.8" y="148.4" width="8.3" height="8.6" fill="#82EA3A"/><rect x="230.8" y="148.4" width="8.3" height="8.6" fill="#35A985"/><rect x="238.8" y="148.4" width="8.3" height="8.6" fill="#35A985"/><rect x="246.8" y="148.4" width="8.3" height="8.6" fill="#82EA3A"/><rect x="254.8" y="148.4" width="8.3" height="8.6" fill="#BEF55C"/><rect x="262.8" y="148.4" width="8.3" height="8.6" fill="#82EA3A"/><rect x="270.8" y="148.4" width="8.3" height="8.6" fill="#BEF55C"/><rect x="278.8" y="148.4" width="8.3" height="8.6" fill="#35A985"/><rect x="286.8" y="148.4" width="8.3" height="8.6" fill="#40C652"/><rect x="294.8" y="148.4" width="8.3" height="8.6" fill="#35A985"/><rect x="302.8" y="148.4" width="8.3" height="8.6" fill="#2296B2"/><rect x="310.8" y="148.4" width="8.3" height="8.6" fill="#BEF55C"/><rect x="222.8" y="156.7" width="8.3" height="8.6" fill="#82EA3A"/><rect x="230.8" y="156.7" width="8.3" height="8.6" fill="#3ADE12"/><rect x="238.8" y="156.7" width="8.3" height="8.6" fill="#BEF55C"/><rect x="246.8" y="156.7" width="8.3" height="8.6" fill="#2296B2"/><rect x="254.8" y="156.7" width="8.3" height="8.6" fill="#3ADE12"/><rect x="262.8" y="156.7" width="8.3" height="8.6" fill="#40C652"/><rect x="270.8" y="156.7" width="8.3" height="8.6" fill="#3ADE12"/><rect x="278.8" y="156.7" width="8.3" height="8.6" fill="#2296B2"/><rect x="286.8" y="156.7" width="8.3" height="8.6" fill="#82EA3A"/><rect x="294.8" y="156.7" width="8.3" height="8.6" fill="#35A985"/><rect x="302.8" y="156.7" width="8.3" height="8.6" fill="#40C652"/><rect x="310.8" y="156.7" width="8.3" height="8.6" fill="#2296B2"/>
<rect x="268.0" y="184.0" width="7.5" height="7.0" fill="#82EA3A"/><rect x="275.2" y="184.0" width="7.5" height="7.0" fill="#FFFF80"/><rect x="282.4" y="184.0" width="7.5" height="7.0" fill="#BEF55C"/><rect x="289.6" y="184.0" width="7.5" height="7.0" fill="#3ADE12"/><rect x="296.8" y="184.0" width="7.5" height="7.0" fill="#2865A6"/><rect x="304.0" y="184.0" width="7.5" height="7.0" fill="#BEF55C"/><rect x="311.2" y="184.0" width="7.5" height="7.0" fill="#BEF55C"/><rect x="318.4" y="184.0" width="7.5" height="7.0" fill="#82EA3A"/><rect x="325.6" y="184.0" width="7.5" height="7.0" fill="#FFFF80"/><rect x="332.8" y="184.0" width="7.5" height="7.0" fill="#82EA3A"/><rect x="268.0" y="190.7" width="7.5" height="7.0" fill="#FFFF80"/><rect x="275.2" y="190.7" width="7.5" height="7.0" fill="#BEF55C"/><rect x="282.4" y="190.7" width="7.5" height="7.0" fill="#3ADE12"/><rect x="289.6" y="190.7" width="7.5" height="7.0" fill="#82EA3A"/><rect x="296.8" y="190.7" width="7.5" height="7.0" fill="#BEF55C"/><rect x="304.0" y="190.7" width="7.5" height="7.0" fill="#3ADE12"/><rect x="311.2" y="190.7" width="7.5" height="7.0" fill="#BEF55C"/><rect x="318.4" y="190.7" width="7.5" height="7.0" fill="#FFFF80"/><rect x="325.6" y="190.7" width="7.5" height="7.0" fill="#BEF55C"/><rect x="332.8" y="190.7" width="7.5" height="7.0" fill="#FFFF80"/><rect x="268.0" y="197.3" width="7.5" height="7.0" fill="#82EA3A"/><rect x="275.2" y="197.3" width="7.5" height="7.0" fill="#BEF55C"/><rect x="282.4" y="197.3" width="7.5" height="7.0" fill="#2865A6"/><rect x="289.6" y="197.3" width="7.5" height="7.0" fill="#82EA3A"/><rect x="296.8" y="197.3" width="7.5" height="7.0" fill="#BEF55C"/><rect x="304.0" y="197.3" width="7.5" height="7.0" fill="#BEF55C"/><rect x="311.2" y="197.3" width="7.5" height="7.0" fill="#FFFF80"/><rect x="318.4" y="197.3" width="7.5" height="7.0" fill="#82EA3A"/><rect x="325.6" y="197.3" width="7.5" height="7.0" fill="#2865A6"/><rect x="332.8" y="197.3" width="7.5" height="7.0" fill="#82EA3A"/><rect x="268.0" y="204.0" width="7.5" height="7.0" fill="#82EA3A"/><rect x="275.2" y="204.0" width="7.5" height="7.0" fill="#2865A6"/><rect x="282.4" y="204.0" width="7.5" height="7.0" fill="#3ADE12"/><rect x="289.6" y="204.0" width="7.5" height="7.0" fill="#BEF55C"/><rect x="296.8" y="204.0" width="7.5" height="7.0" fill="#3ADE12"/><rect x="304.0" y="204.0" width="7.5" height="7.0" fill="#BEF55C"/><rect x="311.2" y="204.0" width="7.5" height="7.0" fill="#3ADE12"/><rect x="318.4" y="204.0" width="7.5" height="7.0" fill="#82EA3A"/><rect x="325.6" y="204.0" width="7.5" height="7.0" fill="#2865A6"/><rect x="332.8" y="204.0" width="7.5" height="7.0" fill="#2865A6"/><rect x="268.0" y="210.7" width="7.5" height="7.0" fill="#82EA3A"/><rect x="275.2" y="210.7" width="7.5" height="7.0" fill="#82EA3A"/><rect x="282.4" y="210.7" width="7.5" height="7.0" fill="#2865A6"/><rect x="289.6" y="210.7" width="7.5" height="7.0" fill="#BEF55C"/><rect x="296.8" y="210.7" width="7.5" height="7.0" fill="#82EA3A"/><rect x="304.0" y="210.7" width="7.5" height="7.0" fill="#FFFF80"/><rect x="311.2" y="210.7" width="7.5" height="7.0" fill="#FFFF80"/><rect x="318.4" y="210.7" width="7.5" height="7.0" fill="#BEF55C"/><rect x="325.6" y="210.7" width="7.5" height="7.0" fill="#BEF55C"/><rect x="332.8" y="210.7" width="7.5" height="7.0" fill="#2865A6"/><rect x="268.0" y="217.3" width="7.5" height="7.0" fill="#FFFF80"/><rect x="275.2" y="217.3" width="7.5" height="7.0" fill="#82EA3A"/><rect x="282.4" y="217.3" width="7.5" height="7.0" fill="#FFFF80"/><rect x="289.6" y="217.3" width="7.5" height="7.0" fill="#FFFF80"/><rect x="296.8" y="217.3" width="7.5" height="7.0" fill="#BEF55C"/><rect x="304.0" y="217.3" width="7.5" height="7.0" fill="#BEF55C"/><rect x="311.2" y="217.3" width="7.5" height="7.0" fill="#BEF55C"/><rect x="318.4" y="217.3" width="7.5" height="7.0" fill="#3ADE12"/><rect x="325.6" y="217.3" width="7.5" height="7.0" fill="#BEF55C"/><rect x="332.8" y="217.3" width="7.5" height="7.0" fill="#2865A6"/>
<rect x="200.0" y="186.0" width="6.3" height="7.6" fill="#FFFF80"/><rect x="206.0" y="186.0" width="6.3" height="7.6" fill="#FFFF80"/><rect x="212.0" y="186.0" width="6.3" height="7.6" fill="#82EA3A"/><rect x="200.0" y="193.3" width="6.3" height="7.6" fill="#82EA3A"/><rect x="206.0" y="193.3" width="6.3" height="7.6" fill="#82EA3A"/><rect x="212.0" y="193.3" width="6.3" height="7.6" fill="#82EA3A"/><rect x="200.0" y="200.7" width="6.3" height="7.6" fill="#82EA3A"/><rect x="206.0" y="200.7" width="6.3" height="7.6" fill="#82EA3A"/><rect x="212.0" y="200.7" width="6.3" height="7.6" fill="#BEF55C"/><rect x="200.0" y="208.0" width="6.3" height="7.6" fill="#82EA3A"/><rect x="206.0" y="208.0" width="6.3" height="7.6" fill="#FFFF80"/><rect x="212.0" y="208.0" width="6.3" height="7.6" fill="#BEF55C"/><rect x="200.0" y="215.3" width="6.3" height="7.6" fill="#BEF55C"/><rect x="206.0" y="215.3" width="6.3" height="7.6" fill="#82EA3A"/><rect x="212.0" y="215.3" width="6.3" height="7.6" fill="#BEF55C"/><rect x="200.0" y="222.7" width="6.3" height="7.6" fill="#FFFF80"/><rect x="206.0" y="222.7" width="6.3" height="7.6" fill="#82EA3A"/><rect x="212.0" y="222.7" width="6.3" height="7.6" fill="#BEF55C"/><rect x="200.0" y="230.0" width="6.3" height="7.6" fill="#FFFF80"/><rect x="206.0" y="230.0" width="6.3" height="7.6" fill="#BEF55C"/><rect x="212.0" y="230.0" width="6.3" height="7.6" fill="#BEF55C"/><rect x="200.0" y="237.3" width="6.3" height="7.6" fill="#82EA3A"/><rect x="206.0" y="237.3" width="6.3" height="7.6" fill="#FFFF80"/><rect x="212.0" y="237.3" width="6.3" height="7.6" fill="#FFFF80"/><rect x="200.0" y="244.7" width="6.3" height="7.6" fill="#82EA3A"/><rect x="206.0" y="244.7" width="6.3" height="7.6" fill="#BEF55C"/><rect x="212.0" y="244.7" width="6.3" height="7.6" fill="#BEF55C"/>
<rect x="296.0" y="232.0" width="8.3" height="7.8" fill="#BEF55C"/><rect x="304.0" y="232.0" width="8.3" height="7.8" fill="#BEF55C"/><rect x="312.0" y="232.0" width="8.3" height="7.8" fill="#82EA3A"/><rect x="320.0" y="232.0" width="8.3" height="7.8" fill="#82EA3A"/><rect x="328.0" y="232.0" width="8.3" height="7.8" fill="#BEF55C"/><rect x="336.0" y="232.0" width="8.3" height="7.8" fill="#82EA3A"/><rect x="296.0" y="239.5" width="8.3" height="7.8" fill="#3ADE12"/><rect x="304.0" y="239.5" width="8.3" height="7.8" fill="#82EA3A"/><rect x="312.0" y="239.5" width="8.3" height="7.8" fill="#3ADE12"/><rect x="320.0" y="239.5" width="8.3" height="7.8" fill="#3ADE12"/><rect x="328.0" y="239.5" width="8.3" height="7.8" fill="#82EA3A"/><rect x="336.0" y="239.5" width="8.3" height="7.8" fill="#BEF55C"/><rect x="296.0" y="247.0" width="8.3" height="7.8" fill="#82EA3A"/><rect x="304.0" y="247.0" width="8.3" height="7.8" fill="#FFFF80"/><rect x="312.0" y="247.0" width="8.3" height="7.8" fill="#3ADE12"/><rect x="320.0" y="247.0" width="8.3" height="7.8" fill="#FFFF80"/><rect x="328.0" y="247.0" width="8.3" height="7.8" fill="#82EA3A"/><rect x="336.0" y="247.0" width="8.3" height="7.8" fill="#FFFF80"/><rect x="296.0" y="254.5" width="8.3" height="7.8" fill="#FFFF80"/><rect x="304.0" y="254.5" width="8.3" height="7.8" fill="#BEF55C"/><rect x="312.0" y="254.5" width="8.3" height="7.8" fill="#3ADE12"/><rect x="320.0" y="254.5" width="8.3" height="7.8" fill="#82EA3A"/><rect x="328.0" y="254.5" width="8.3" height="7.8" fill="#3ADE12"/><rect x="336.0" y="254.5" width="8.3" height="7.8" fill="#3ADE12"/><rect x="296.0" y="262.0" width="8.3" height="7.8" fill="#3ADE12"/><rect x="304.0" y="262.0" width="8.3" height="7.8" fill="#3ADE12"/><rect x="312.0" y="262.0" width="8.3" height="7.8" fill="#82EA3A"/><rect x="320.0" y="262.0" width="8.3" height="7.8" fill="#82EA3A"/><rect x="328.0" y="262.0" width="8.3" height="7.8" fill="#BEF55C"/><rect x="336.0" y="262.0" width="8.3" height="7.8" fill="#82EA3A"/><rect x="296.0" y="269.5" width="8.3" height="7.8" fill="#82EA3A"/><rect x="304.0" y="269.5" width="8.3" height="7.8" fill="#BEF55C"/><rect x="312.0" y="269.5" width="8.3" height="7.8" fill="#82EA3A"/><rect x="320.0" y="269.5" width="8.3" height="7.8" fill="#82EA3A"/><rect x="328.0" y="269.5" width="8.3" height="7.8" fill="#3ADE12"/><rect x="336.0" y="269.5" width="8.3" height="7.8" fill="#82EA3A"/><rect x="296.0" y="277.0" width="8.3" height="7.8" fill="#BEF55C"/><rect x="304.0" y="277.0" width="8.3" height="7.8" fill="#82EA3A"/><rect x="312.0" y="277.0" width="8.3" height="7.8" fill="#BEF55C"/><rect x="320.0" y="277.0" width="8.3" height="7.8" fill="#BEF55C"/><rect x="328.0" y="277.0" width="8.3" height="7.8" fill="#BEF55C"/><rect x="336.0" y="277.0" width="8.3" height="7.8" fill="#3ADE12"/><rect x="296.0" y="284.5" width="8.3" height="7.8" fill="#BEF55C"/><rect x="304.0" y="284.5" width="8.3" height="7.8" fill="#BEF55C"/><rect x="312.0" y="284.5" width="8.3" height="7.8" fill="#3ADE12"/><rect x="320.0" y="284.5" width="8.3" height="7.8" fill="#82EA3A"/><rect x="328.0" y="284.5" width="8.3" height="7.8" fill="#FFFF80"/><rect x="336.0" y="284.5" width="8.3" height="7.8" fill="#FFFF80"/>
<rect x="278.0" y="292.0" width="8.3" height="8.6" fill="#82EA3A"/><rect x="286.0" y="292.0" width="8.3" height="8.6" fill="#BEF55C"/><rect x="294.0" y="292.0" width="8.3" height="8.6" fill="#82EA3A"/><rect x="302.0" y="292.0" width="8.3" height="8.6" fill="#FFFF80"/><rect x="310.0" y="292.0" width="8.3" height="8.6" fill="#BEF55C"/><rect x="278.0" y="300.3" width="8.3" height="8.6" fill="#82EA3A"/><rect x="286.0" y="300.3" width="8.3" height="8.6" fill="#82EA3A"/><rect x="294.0" y="300.3" width="8.3" height="8.6" fill="#BEF55C"/><rect x="302.0" y="300.3" width="8.3" height="8.6" fill="#BEF55C"/><rect x="310.0" y="300.3" width="8.3" height="8.6" fill="#FFFF80"/><rect x="278.0" y="308.7" width="8.3" height="8.6" fill="#82EA3A"/><rect x="286.0" y="308.7" width="8.3" height="8.6" fill="#FFFF80"/><rect x="294.0" y="308.7" width="8.3" height="8.6" fill="#FFFF80"/><rect x="302.0" y="308.7" width="8.3" height="8.6" fill="#82EA3A"/><rect x="310.0" y="308.7" width="8.3" height="8.6" fill="#BEF55C"/><rect x="278.0" y="317.0" width="8.3" height="8.6" fill="#FFFF80"/><rect x="286.0" y="317.0" width="8.3" height="8.6" fill="#BEF55C"/><rect x="294.0" y="317.0" width="8.3" height="8.6" fill="#FFFF80"/><rect x="302.0" y="317.0" width="8.3" height="8.6" fill="#FFFF80"/><rect x="310.0" y="317.0" width="8.3" height="8.6" fill="#FFFF80"/><rect x="278.0" y="325.3" width="8.3" height="8.6" fill="#BEF55C"/><rect x="286.0" y="325.3" width="8.3" height="8.6" fill="#FFFF80"/><rect x="294.0" y="325.3" width="8.3" height="8.6" fill="#FFFF80"/><rect x="302.0" y="325.3" width="8.3" height="8.6" fill="#82EA3A"/><rect x="310.0" y="325.3" width="8.3" height="8.6" fill="#82EA3A"/><rect x="278.0" y="333.7" width="8.3" height="8.6" fill="#FFFF80"/><rect x="286.0" y="333.7" width="8.3" height="8.6" fill="#FFFF80"/><rect x="294.0" y="333.7" width="8.3" height="8.6" fill="#82EA3A"/><rect x="302.0" y="333.7" width="8.3" height="8.6" fill="#FFFF80"/><rect x="310.0" y="333.7" width="8.3" height="8.6" fill="#FFFF80"/>
<polygon points="207,190 217,186 217,220 208,222" fill="#BEF55C"/>
<polygon points="210,198 217,198 217,206 210,206" fill="#82EA3A"/>
<polygon points="212,226 218,226 218,236 212,236" fill="#35A985"/>
<polygon points="217,162 230,162 230,174.5 217,174.5" fill="#2296B2"/>
<polygon points="217,174.5 226,176 232,186 240,196 250,206 262,216 262,236 250,236 240,230 232,226 226,224 217,214" fill="#1E3A8E"/>
<polygon points="222,190 236,190 244,200 248,214 236,214 226,206" fill="#1E3A8E"/>
<polygon points="228,214 240,214 246,224 232,224" fill="#2296B2"/>
<polygon points="231,215 238,215 238,222 231,222" fill="#FFFF80"/>
<polygon points="244,206 250,206 252,212 246,212" fill="#FFFF80"/>
<polygon points="262,231 276,233 290,235 304,235 309,244 318,244 318,258 321,271 318,281 305,282 305,292 288,292 288,282 278,281 278,272 268,270 268,252 262,248" fill="#1E3A8E"/>
<polygon points="270,240 288,238 300,245 302,268 290,268 280,262 270,262" fill="#1E3A8E"/>
<polygon points="286,252 300,256 310,265 300,270" fill="#1E3A8E"/>
<polygon points="288.5,270 305,270 305,281.9 288.5,281.9" fill="#2296B2"/>
<polygon points="288.5,281.9 305,281.9 305,292 288.5,292" fill="#40C652"/>
<polygon points="217.7,141.4 222.1,141.4 222.1,151.6 217.7,151.6" fill="#2296B2"/>
<polyline points="222,178 245,200 270,224 300,250 318,268" fill="none" stroke="#BEF55C" stroke-width="2.2"/>
<polyline points="224,181 248,205 272,228 300,252 320,271" fill="none" stroke="#1E3A8E" stroke-width="3"/>
<polygon points="253,152.2 263,152.2 266,158 271,154 277.8,152.2 277.8,162 270,165 266,171.8 258,170 253,162" fill="#2296B2"/>
<polygon points="258,156 268,160 268,166 260,166" fill="#2865A6"/>
<polygon points="318.3,156.6 340.4,156.6 340.4,179.4 318.3,179.4" fill="#2296B2"/>
<polygon points="324,162 336,162 336,172 324,172" fill="#2865A6"/>
<polygon points="330,172 341,170 341,178 330,178" fill="#3ADE12"/>
<polygon points="258,184.5 263,184.5 263,188 267,188 267,193 263,193 263,200.9 258,200.9 258,193 254,193 254,188 258,188" fill="#2865A6"/>
<polygon points="252,184 257,184 257,190 252,190" fill="#3ADE12"/>
<polygon points="273.4,197 282.2,197 282.2,206 273.4,206" fill="#3ADE12"/>
<polygon points="268.3,207.2 272.7,207.2 272.7,216 268.3,216" fill="#1E3A8E"/>
<polygon points="293.6,212.3 305,212.3 305,228 300,232.5 293.6,228" fill="#2296B2"/>
<polygon points="300,218 310,218 316,232 304,232" fill="#3ADE12"/>
<polygon points="318.9,221 337.9,221 337.9,227.5 318.9,227.5" fill="#3ADE12"/>
<polygon points="323.8,231.4 338.7,231.4 338.7,243.8 323.8,243.8" fill="#2865A6"/>
<polygon points="377.7,150.3 398,150.3 412,150.3 418,158 413,169.5 405,174.3 377.7,172" fill="#1E3A8E"/>
<polygon points="377.7,150.3 392,150.3 392,160 377.7,160" fill="#2296B2"/>
<polygon points="392,150 402,150 402,158 392,158" fill="#3ADE12"/>
<polygon points="367,160 378,160 378,172 367,172" fill="#82EA3A"/>
<polygon points="383,172 393,172 393,180 383,180" fill="#3ADE12"/>
<polygon points="381,178 390,176 398,183 392,186" fill="#BEF55C"/>
<polygon points="392,182 404,178 410,182 400,186" fill="#35A985"/>
<polygon points="342.4,209 348.6,194.3 358.5,190.6 403,190.6 413,169.5 423,167 447.6,182 472.4,199 497.2,224 524.4,271 497.2,273.5 492.2,258.7 472.4,251.3 447.6,238.9 445.2,258.7 437.7,281 413,283.4 403,273.5 403,258.7 378.3,251.3 373.4,238.9 358.5,229 342.4,224" fill="#1E3A8E"/>
<polygon points="352,198 370,194 400,194 420,200 440,205 446,222 420,222 400,220 380,222 360,220 350,214" fill="#1E3A8E"/>
<polygon points="420,172 440,184 458,196 472,210 486,226 496,242 508,258 500,262 486,250 470,240 456,232 440,220 432,206 424,192" fill="#1E3A8E"/>
<polygon points="455,240 475,246 490,258 480,262 462,252" fill="#1E3A8E"/>
<polygon points="362,196 372,196 372,206 362,206" fill="#2296B2"/>
<polygon points="384,202 392,202 392,212 384,212" fill="#2296B2"/>
<polygon points="408,240 430,238 440,250 430,262 410,258" fill="#2296B2"/>
<polygon points="380,254 398,254 400,270 385,270" fill="#2296B2"/>
<polygon points="404,262 412,262 412,272 404,272" fill="#3ADE12"/>
<polygon points="420,262 434,262 434,279 420,279" fill="#2296B2"/>
<polyline points="373,226.5 447.6,224.5" fill="none" stroke="#BEF55C" stroke-width="2.5"/>
<polygon points="486.5,220 499,220 499,230 486.5,230" fill="#2296B2"/>
<polygon points="349.3,292 370,292 377.7,296 377.7,321 360,321 352,310" fill="#2865A6"/>
<polygon points="360,300 370,300 370,312 360,312" fill="#2296B2"/>
<polygon points="408.7,311.6 418.2,311.6 418.2,320.4 408.7,320.4" fill="#3ADE12"/>
<polygon points="441,321 447.3,313.5 458.7,313.5 460,311 473.8,311 475.1,316 478.9,321 476.4,326 467.5,327.4 463.7,321 458.7,327.4 448.5,328.7 447.3,324.9" fill="#35A985"/>
<polyline points="222,176 240,196 262,222 300,255" fill="none" stroke="#1E3A8E" stroke-width="1.5"/>
<polyline points="420,175 460,205 500,240 515,258" fill="none" stroke="#1E3A8E" stroke-width="1.2"/>
<polygon points="217,162 232,162 236,176 226,180 217,176" fill="#2865A6"/>
<polygon points="254,152 278,152 278,170 254,170" fill="#2865A6"/>
<polygon points="260,156 270,156 270,164 260,164" fill="#1E3A8E"/>
<polygon points="340,194 360,192 372,208 352,216" fill="#2865A6"/>
<polygon points="376,232 440,232 446,240 444,262 438,280 414,282 404,272 402,258 380,250" fill="#1E3A8E"/>
<polygon points="410,240 428,240 428,252 410,252" fill="#2865A6"/>
<polygon points="416,262 428,262 428,276 416,276" fill="#2296B2"/>
<polygon points="390,262 400,262 400,272 390,272" fill="#2865A6"/>
<rect x="364.0" y="220.0" width="4.3" height="4.8" fill="#1E3A8E"/><rect x="368.0" y="220.0" width="4.3" height="4.8" fill="#2865A6"/><rect x="372.0" y="220.0" width="4.3" height="4.8" fill="#1E3A8E"/><rect x="376.0" y="220.0" width="4.3" height="4.8" fill="#FFFF80"/><rect x="380.0" y="220.0" width="4.3" height="4.8" fill="#BEF55C"/><rect x="384.0" y="220.0" width="4.3" height="4.8" fill="#FFFF80"/><rect x="388.0" y="220.0" width="4.3" height="4.8" fill="#FFFF80"/><rect x="392.0" y="220.0" width="4.3" height="4.8" fill="#1E3A8E"/><rect x="396.0" y="220.0" width="4.3" height="4.8" fill="#FFFF80"/><rect x="400.0" y="220.0" width="4.3" height="4.8" fill="#FFFF80"/><rect x="404.0" y="220.0" width="4.3" height="4.8" fill="#1E3A8E"/><rect x="408.0" y="220.0" width="4.3" height="4.8" fill="#1E3A8E"/><rect x="412.0" y="220.0" width="4.3" height="4.8" fill="#1E3A8E"/><rect x="416.0" y="220.0" width="4.3" height="4.8" fill="#FFFF80"/><rect x="420.0" y="220.0" width="4.3" height="4.8" fill="#2865A6"/><rect x="424.0" y="220.0" width="4.3" height="4.8" fill="#FFFF80"/><rect x="428.0" y="220.0" width="4.3" height="4.8" fill="#FFFF80"/><rect x="432.0" y="220.0" width="4.3" height="4.8" fill="#1E3A8E"/><rect x="436.0" y="220.0" width="4.3" height="4.8" fill="#2865A6"/><rect x="440.0" y="220.0" width="4.3" height="4.8" fill="#FFFF80"/><rect x="444.0" y="220.0" width="4.3" height="4.8" fill="#FFFF80"/><rect x="364.0" y="224.5" width="4.3" height="4.8" fill="#1E3A8E"/><rect x="368.0" y="224.5" width="4.3" height="4.8" fill="#2865A6"/><rect x="372.0" y="224.5" width="4.3" height="4.8" fill="#2865A6"/><rect x="376.0" y="224.5" width="4.3" height="4.8" fill="#1E3A8E"/><rect x="380.0" y="224.5" width="4.3" height="4.8" fill="#BEF55C"/><rect x="384.0" y="224.5" width="4.3" height="4.8" fill="#BEF55C"/><rect x="388.0" y="224.5" width="4.3" height="4.8" fill="#FFFF80"/><rect x="392.0" y="224.5" width="4.3" height="4.8" fill="#1E3A8E"/><rect x="396.0" y="224.5" width="4.3" height="4.8" fill="#FFFF80"/><rect x="400.0" y="224.5" width="4.3" height="4.8" fill="#FFFF80"/><rect x="404.0" y="224.5" width="4.3" height="4.8" fill="#2865A6"/><rect x="408.0" y="224.5" width="4.3" height="4.8" fill="#BEF55C"/><rect x="412.0" y="224.5" width="4.3" height="4.8" fill="#1E3A8E"/><rect x="416.0" y="224.5" width="4.3" height="4.8" fill="#1E3A8E"/><rect x="420.0" y="224.5" width="4.3" height="4.8" fill="#1E3A8E"/><rect x="424.0" y="224.5" width="4.3" height="4.8" fill="#2865A6"/><rect x="428.0" y="224.5" width="4.3" height="4.8" fill="#2865A6"/><rect x="432.0" y="224.5" width="4.3" height="4.8" fill="#FFFF80"/><rect x="436.0" y="224.5" width="4.3" height="4.8" fill="#FFFF80"/><rect x="440.0" y="224.5" width="4.3" height="4.8" fill="#1E3A8E"/><rect x="444.0" y="224.5" width="4.3" height="4.8" fill="#FFFF80"/>
<polygon points="380,240 400,240 400,256 380,256" fill="#1E3A8E"/>
<polygon points="288,268 305,268 305,282 288,282" fill="#2865A6"/>
<polygon points="288,282 300,282 300,290 288,290" fill="#2296B2"/>
</g>
<text x="41.6" y="271.3" class="lt">Population Density</text>
<text x="41.8" y="287.8" class="lt">(per km^2)</text>
<rect x="48" y="302.80" width="27" height="12.6" fill="#FFFF80"/>
<text x="87.3" y="314.90" class="ll">< 50</text>
<rect x="48" y="320.94" width="27" height="12.6" fill="#BEF55C"/>
<text x="87.3" y="333.04" class="ll">51 - 100</text>
<rect x="48" y="339.08" width="27" height="12.6" fill="#82EA3A"/>
<text x="87.3" y="351.18" class="ll">101 - 200</text>
<rect x="48" y="357.22" width="27" height="12.6" fill="#3ADE12"/>
<text x="87.3" y="369.32" class="ll">201 - 300</text>
<rect x="48" y="375.36" width="27" height="12.6" fill="#40C652"/>
<text x="87.3" y="387.46" class="ll">301 - 386</text>
<rect x="48" y="393.50" width="27" height="12.6" fill="#35A985"/>
<text x="87.3" y="405.60" class="ll">387 - 500</text>
<rect x="48" y="411.64" width="27" height="12.6" fill="#2296B2"/>
<text x="87.3" y="423.74" class="ll">501 - 1000</text>
<rect x="48" y="429.78" width="27" height="12.6" fill="#2865A6"/>
<text x="87.3" y="441.88" class="ll">1001 - 2000</text>
<rect x="48" y="447.92" width="27" height="12.6" fill="#1E3A8E"/>
<text x="87.3" y="460.02" class="ll">> 2000</text>
<path d="M223.4 454.5 V460.2 H342 V454.5 M238.3 456.8 V460.2 M253.5 456.8 V460.2 M267.7 456.8 V460.2 M282.6 454.5 V460.2 M297.4 456.8 V460.2 M326.9 456.8 V460.2" fill="none" stroke="#6b6b6b" stroke-width="1.1"/>
<text x="219.0" y="449.4" class="sb">0</text>
<text x="248.7" y="449.4" class="sb">5</text>
<text x="274.6" y="449.4" class="sb">10</text>
<text x="333.3" y="449.4" class="sb">20</text>
<text x="352.0" y="449.4" class="sb">KM</text>
<path d="M584.8 56 L566.4 109.1" stroke="#444" stroke-width="0.8" stroke-dasharray="1.2 0.8" fill="none"/>
<path d="M585.5 58 L604.1 111.3 L584.4 104.8" stroke="#000" stroke-width="1.7" fill="none" stroke-linejoin="miter"/>
<path d="M569 112.3 L584.4 104.3 L584.6 106.2 L570 112.8 Z" fill="#000" stroke="#000" stroke-width="1.6"/>
<text x="577.6" y="133.5" class="na">N</text>
</g>
<text x="321" y="556" class="ti" text-anchor="middle">Managed Growth - 2040</text>
<g transform="translate(713,515)">
<g clip-path="url(#clipO)" shape-rendering="crispEdges">
<use href="#outline" fill="#40C652"/>
<polygon points="55,70 66,62 72,75 68,110 62,130 56,120" fill="#82EA3A"/>
<polygon points="60,90 66,88 66,104 60,104" fill="#3ADE12"/>
<polygon points="62,135 80,125 86,130 70,148 60,140" fill="#82EA3A"/>
<polygon points="100,50 113.6,75.4 125.3,82.7 132.6,90 141.4,100.2 150.1,106 164.7,103.1 176.4,106 188,101.7 198.3,94.4 199.7,91.5 236.2,91.5 248,88.6 252,92 255.3,100 248.9,111.3 276.1,113 287.4,116.2 288,117.3 302.6,121.6 309.9,130.4 317,134.8 339,134.8 350.7,137.7 357.3,140.6 368,141.3 388,140.6 404.5,140.2 412.5,146.6 411,150 440,200 470,240 450.5,260 439.6,268.8 437.4,281.9 420,281.9 420,292.8 411.2,297.2 411.2,310.3 415.5,321.3 413.3,330 393.6,332.2 356.4,330 336.8,334.4 337.2,342 330,348 330,490 630,490 630,50" fill="#BEF55C"/>
<polygon points="132.6,72 145,68 153,72 150,88 140,91.5 135,84" fill="#82EA3A"/>
<polygon points="153,58 172,58 172,69.6 160,70" fill="#82EA3A"/>
<polygon points="160,76 180,72 190,86 184,96 170,98" fill="#82EA3A"/>
<polygon points="205,62 215,66 214,80 206,78" fill="#82EA3A"/>
<polygon points="255,75 268,82 262,92 254,88" fill="#82EA3A"/>
<polygon points="300,96 318,92 320,104 302,106" fill="#82EA3A"/>
<polygon points="415,120 440,112 448,118 432,140 415,146" fill="#82EA3A"/>
<polygon points="420,150 448,150 470,185 482,200 470,205 450,185 430,168" fill="#82EA3A"/>
<polygon points="485,188 505,188 516,205 487,207" fill="#3ADE12"/>
<polygon points="480,205 500,207 520,225 530,262 515,258 495,235" fill="#82EA3A"/>
<polygon points="459,395 500,390 525,400 525,448 490,450 460,430" fill="#82EA3A"/>
<polygon points="480,410 505,405 520,440 500,446" fill="#82EA3A"/>
<polygon points="547,356 569,356 569,382.5 547,382.5" fill="#82EA3A"/>
<polygon points="586,332 599,332 599,358.5 586,358.5" fill="#82EA3A"/>
<polygon points="440,405 462,400 462,430 445,432" fill="#82EA3A"/>
<polygon points="560,410 580,405 582,430 562,432" fill="#82EA3A"/>
<polygon points="500,290 520,288 525,305 505,310" fill="#82EA3A"/>
<polygon points="545,230 565,232 568,252 550,256" fill="#82EA3A"/>
<polygon points="150,55 214,58 216,90 210,98 196,94 188,101 176,106 164,103 155,100" fill="#82EA3A"/>
<polygon points="160,62 172,62 172,74 160,74" fill="#BEF55C"/>
<polygon points="185,66 196,66 196,78 185,78" fill="#BEF55C"/>
<polygon points="165,82 178,82 178,95 165,95" fill="#BEF55C"/>
<polygon points="198.7,93 212,92 219,100 219,113 212,113 204,104" fill="#35A985"/>
<polygon points="76,72.5 88,72.5 88,84 76,84" fill="#35A985"/>
<polygon points="60,78 70,82 72,95 64,98" fill="#3ADE12"/>
<polygon points="158,180 175,178 193,186 193,192 158,192" fill="#35A985"/>
<polygon points="166,182 172,182 172,188 166,188" fill="#2865A6"/>
<rect x="219.0" y="131.0" width="7.8" height="7.6" fill="#2296B2"/><rect x="226.5" y="131.0" width="7.8" height="7.6" fill="#35A985"/><rect x="234.0" y="131.0" width="7.8" height="7.6" fill="#40C652"/><rect x="241.5" y="131.0" width="7.8" height="7.6" fill="#35A985"/><rect x="219.0" y="138.3" width="7.8" height="7.6" fill="#40C652"/><rect x="226.5" y="138.3" width="7.8" height="7.6" fill="#40C652"/><rect x="234.0" y="138.3" width="7.8" height="7.6" fill="#35A985"/><rect x="241.5" y="138.3" width="7.8" height="7.6" fill="#2296B2"/><rect x="219.0" y="145.7" width="7.8" height="7.6" fill="#35A985"/><rect x="226.5" y="145.7" width="7.8" height="7.6" fill="#2865A6"/><rect x="234.0" y="145.7" width="7.8" height="7.6" fill="#2296B2"/><rect x="241.5" y="145.7" width="7.8" height="7.6" fill="#2865A6"/><rect x="219.0" y="153.0" width="7.8" height="7.6" fill="#2865A6"/><rect x="226.5" y="153.0" width="7.8" height="7.6" fill="#2296B2"/><rect x="234.0" y="153.0" width="7.8" height="7.6" fill="#35A985"/><rect x="241.5" y="153.0" width="7.8" height="7.6" fill="#35A985"/><rect x="219.0" y="160.3" width="7.8" height="7.6" fill="#40C652"/><rect x="226.5" y="160.3" width="7.8" height="7.6" fill="#2865A6"/><rect x="234.0" y="160.3" width="7.8" height="7.6" fill="#35A985"/><rect x="241.5" y="160.3" width="7.8" height="7.6" fill="#35A985"/><rect x="219.0" y="167.7" width="7.8" height="7.6" fill="#2296B2"/><rect x="226.5" y="167.7" width="7.8" height="7.6" fill="#2296B2"/><rect x="234.0" y="167.7" width="7.8" height="7.6" fill="#2296B2"/><rect x="241.5" y="167.7" width="7.8" height="7.6" fill="#40C652"/>
<rect x="228.0" y="141.0" width="7.4" height="6.5" fill="#35A985"/><rect x="235.1" y="141.0" width="7.4" height="6.5" fill="#35A985"/><rect x="242.1" y="141.0" width="7.4" height="6.5" fill="#40C652"/><rect x="249.2" y="141.0" width="7.4" height="6.5" fill="#3AB86C"/><rect x="256.2" y="141.0" width="7.4" height="6.5" fill="#2296B2"/><rect x="263.3" y="141.0" width="7.4" height="6.5" fill="#35A985"/><rect x="270.4" y="141.0" width="7.4" height="6.5" fill="#40C652"/><rect x="277.4" y="141.0" width="7.4" height="6.5" fill="#40C652"/><rect x="284.5" y="141.0" width="7.4" height="6.5" fill="#40C652"/><rect x="291.5" y="141.0" width="7.4" height="6.5" fill="#40C652"/><rect x="298.6" y="141.0" width="7.4" height="6.5" fill="#35A985"/><rect x="305.6" y="141.0" width="7.4" height="6.5" fill="#35A985"/><rect x="312.7" y="141.0" width="7.4" height="6.5" fill="#40C652"/><rect x="319.8" y="141.0" width="7.4" height="6.5" fill="#35A985"/><rect x="326.8" y="141.0" width="7.4" height="6.5" fill="#35A985"/><rect x="333.9" y="141.0" width="7.4" height="6.5" fill="#40C652"/><rect x="340.9" y="141.0" width="7.4" height="6.5" fill="#35A985"/><rect x="228.0" y="147.2" width="7.4" height="6.5" fill="#3AB86C"/><rect x="235.1" y="147.2" width="7.4" height="6.5" fill="#35A985"/><rect x="242.1" y="147.2" width="7.4" height="6.5" fill="#3AB86C"/><rect x="249.2" y="147.2" width="7.4" height="6.5" fill="#40C652"/><rect x="256.2" y="147.2" width="7.4" height="6.5" fill="#40C652"/><rect x="263.3" y="147.2" width="7.4" height="6.5" fill="#2296B2"/><rect x="270.4" y="147.2" width="7.4" height="6.5" fill="#40C652"/><rect x="277.4" y="147.2" width="7.4" height="6.5" fill="#40C652"/><rect x="284.5" y="147.2" width="7.4" height="6.5" fill="#3AB86C"/><rect x="291.5" y="147.2" width="7.4" height="6.5" fill="#40C652"/><rect x="298.6" y="147.2" width="7.4" height="6.5" fill="#3AB86C"/><rect x="305.6" y="147.2" width="7.4" height="6.5" fill="#35A985"/><rect x="312.7" y="147.2" width="7.4" height="6.5" fill="#35A985"/><rect x="319.8" y="147.2" width="7.4" height="6.5" fill="#2296B2"/><rect x="326.8" y="147.2" width="7.4" height="6.5" fill="#35A985"/><rect x="333.9" y="147.2" width="7.4" height="6.5" fill="#35A985"/><rect x="340.9" y="147.2" width="7.4" height="6.5" fill="#35A985"/><rect x="228.0" y="153.5" width="7.4" height="6.5" fill="#40C652"/><rect x="235.1" y="153.5" width="7.4" height="6.5" fill="#3AB86C"/><rect x="242.1" y="153.5" width="7.4" height="6.5" fill="#3AB86C"/><rect x="249.2" y="153.5" width="7.4" height="6.5" fill="#40C652"/><rect x="256.2" y="153.5" width="7.4" height="6.5" fill="#35A985"/><rect x="263.3" y="153.5" width="7.4" height="6.5" fill="#3AB86C"/><rect x="270.4" y="153.5" width="7.4" height="6.5" fill="#40C652"/><rect x="277.4" y="153.5" width="7.4" height="6.5" fill="#40C652"/><rect x="284.5" y="153.5" width="7.4" height="6.5" fill="#35A985"/><rect x="291.5" y="153.5" width="7.4" height="6.5" fill="#3AB86C"/><rect x="298.6" y="153.5" width="7.4" height="6.5" fill="#35A985"/><rect x="305.6" y="153.5" width="7.4" height="6.5" fill="#35A985"/><rect x="312.7" y="153.5" width="7.4" height="6.5" fill="#35A985"/><rect x="319.8" y="153.5" width="7.4" height="6.5" fill="#2296B2"/><rect x="326.8" y="153.5" width="7.4" height="6.5" fill="#35A985"/><rect x="333.9" y="153.5" width="7.4" height="6.5" fill="#35A985"/><rect x="340.9" y="153.5" width="7.4" height="6.5" fill="#35A985"/><rect x="228.0" y="159.8" width="7.4" height="6.5" fill="#40C652"/><rect x="235.1" y="159.8" width="7.4" height="6.5" fill="#3AB86C"/><rect x="242.1" y="159.8" width="7.4" height="6.5" fill="#35A985"/><rect x="249.2" y="159.8" width="7.4" height="6.5" fill="#35A985"/><rect x="256.2" y="159.8" width="7.4" height="6.5" fill="#35A985"/><rect x="263.3" y="159.8" width="7.4" height="6.5" fill="#35A985"/><rect x="270.4" y="159.8" width="7.4" height="6.5" fill="#40C652"/><rect x="277.4" y="159.8" width="7.4" height="6.5" fill="#40C652"/><rect x="284.5" y="159.8" width="7.4" height="6.5" fill="#35A985"/><rect x="291.5" y="159.8" width="7.4" height="6.5" fill="#2296B2"/><rect x="298.6" y="159.8" width="7.4" height="6.5" fill="#40C652"/><rect x="305.6" y="159.8" width="7.4" height="6.5" fill="#35A985"/><rect x="312.7" y="159.8" width="7.4" height="6.5" fill="#3AB86C"/><rect x="319.8" y="159.8" width="7.4" height="6.5" fill="#40C652"/><rect x="326.8" y="159.8" width="7.4" height="6.5" fill="#2296B2"/><rect x="333.9" y="159.8" width="7.4" height="6.5" fill="#35A985"/><rect x="340.9" y="159.8" width="7.4" height="6.5" fill="#3AB86C"/>
<rect x="348.0" y="147.0" width="7.2" height="7.6" fill="#3AB86C"/><rect x="354.9" y="147.0" width="7.2" height="7.6" fill="#35A985"/><rect x="361.8" y="147.0" width="7.2" height="7.6" fill="#35A985"/><rect x="368.7" y="147.0" width="7.2" height="7.6" fill="#2865A6"/><rect x="375.6" y="147.0" width="7.2" height="7.6" fill="#3AB86C"/><rect x="382.4" y="147.0" width="7.2" height="7.6" fill="#35A985"/><rect x="389.3" y="147.0" width="7.2" height="7.6" fill="#35A985"/><rect x="396.2" y="147.0" width="7.2" height="7.6" fill="#2865A6"/><rect x="403.1" y="147.0" width="7.2" height="7.6" fill="#3AB86C"/><rect x="348.0" y="154.3" width="7.2" height="7.6" fill="#2296B2"/><rect x="354.9" y="154.3" width="7.2" height="7.6" fill="#2296B2"/><rect x="361.8" y="154.3" width="7.2" height="7.6" fill="#2296B2"/><rect x="368.7" y="154.3" width="7.2" height="7.6" fill="#3AB86C"/><rect x="375.6" y="154.3" width="7.2" height="7.6" fill="#35A985"/><rect x="382.4" y="154.3" width="7.2" height="7.6" fill="#35A985"/><rect x="389.3" y="154.3" width="7.2" height="7.6" fill="#2296B2"/><rect x="396.2" y="154.3" width="7.2" height="7.6" fill="#2865A6"/><rect x="403.1" y="154.3" width="7.2" height="7.6" fill="#35A985"/><rect x="348.0" y="161.7" width="7.2" height="7.6" fill="#35A985"/><rect x="354.9" y="161.7" width="7.2" height="7.6" fill="#35A985"/><rect x="361.8" y="161.7" width="7.2" height="7.6" fill="#35A985"/><rect x="368.7" y="161.7" width="7.2" height="7.6" fill="#2296B2"/><rect x="375.6" y="161.7" width="7.2" height="7.6" fill="#35A985"/><rect x="382.4" y="161.7" width="7.2" height="7.6" fill="#35A985"/><rect x="389.3" y="161.7" width="7.2" height="7.6" fill="#35A985"/><rect x="396.2" y="161.7" width="7.2" height="7.6" fill="#2865A6"/><rect x="403.1" y="161.7" width="7.2" height="7.6" fill="#2296B2"/>
<polygon points="224,132 233,132 233,141 224,141" fill="#2296B2"/>
<polygon points="248,132 258,132 258,141 248,141" fill="#2296B2"/>
<polygon points="316,134 341,134 341,147 316,147" fill="#35A985"/>
<polygon points="287,117 301.5,117 301.5,129.6 287,129.6" fill="#40C652"/>
<polygon points="275,165 300,165 300,175 275,175" fill="#35A985"/>
<polygon points="340,170 360,170 360,182 340,182" fill="#35A985"/>
<polygon points="240,134 256,134 256,146 240,146" fill="#40C652"/>
<polygon points="290,140 310,140 310,150 290,150" fill="#40C652"/>
<polygon points="345,155 362,155 362,168 345,168" fill="#40C652"/>
<polygon points="300,155 318,155 318,166 300,166" fill="#40C652"/>
<polygon points="255,170 265,168 270,178 258,180" fill="#BEF55C"/>
<polygon points="97,109 106,112 119,125 119,133 110,130 97,118" fill="#35A985"/>
<polygon points="140,170 170,172 170,178 140,178" fill="#35A985"/>
<polygon points="441,144 452,144 456,150 455,159 446,159 441,152" fill="#2865A6"/>
<polygon points="446,158 457,158 461,170 457,178 448,176" fill="#82EA3A"/>
<polygon points="203,250.2 210.3,243.6 229.3,243 233.6,254.6 249.7,264.8 270.1,276.5 273,285.2 262.8,286.7 241,278 226.4,269.2 211.8,259" fill="#FFFF80"/>
<polygon points="233,256 245,258 248,266 238,268" fill="#BEF55C"/>
<polygon points="236,286 248,284 252,292 258,298 252,304 242,300 236,294" fill="#BEF55C"/>
<polygon points="248,310 256,310 258,318 250,318" fill="#BEF55C"/>
<polygon points="278,284 290,284 290,342 278,342" fill="#35A985"/>
<polygon points="288,291 320,291 320,328 300,330 288,325" fill="#35A985"/>
<polygon points="318,240 345,240 345,270 330,275 318,265" fill="#35A985"/>
<polygon points="300,300 310,300 310,312 300,312" fill="#2296B2"/>
<polygon points="258,210 272,210 272,225 258,225" fill="#2296B2"/>
<polygon points="217.5,182.8 229.8,170.5 242,182.8 249,195 258,207 268,219.5 294.5,219.5 298,212.5 319,219.5 319,212 343.5,207.6 358,207.6 358,191.6 372.4,188.4 382,183.6 388.5,172.3 388.5,159.5 390,151.5 411,149.9 420.6,159.5 428.6,172.3 441.8,180 459.3,190 476.8,203 485.5,220.7 503,236 520.6,253.5 527,268.8 516.2,264.4 492,260 459.3,260 441.8,268.8 437.4,281.9 404.6,281.9 403,258 373.3,254.5 357.5,251 357.5,240 357.5,212 319,212 319,244 312,244 312,261.5 317.3,261.5 317.3,277.3 308.5,279 305,289.6 287.5,286 278.8,279 268.3,268.5 268.3,247.5 263,244 263,234 245,236 238.5,240.5 217.5,240.5" fill="#2865A6"/>
<polygon points="394.9,175.5 404.5,172.3 417.3,178.7 425.4,188.4 420.6,193.2 401.3,188.4 394.9,182" fill="#35A985"/>
<polygon points="402,178 410,178 410,184 402,184" fill="#FFFF80"/>
<rect x="319.0" y="212.0" width="6.8" height="6.6" fill="#2296B2"/><rect x="325.5" y="212.0" width="6.8" height="6.6" fill="#35A985"/><rect x="332.0" y="212.0" width="6.8" height="6.6" fill="#40C652"/><rect x="338.5" y="212.0" width="6.8" height="6.6" fill="#40C652"/><rect x="345.0" y="212.0" width="6.8" height="6.6" fill="#2296B2"/><rect x="351.5" y="212.0" width="6.8" height="6.6" fill="#3AB86C"/><rect x="319.0" y="218.3" width="6.8" height="6.6" fill="#40C652"/><rect x="325.5" y="218.3" width="6.8" height="6.6" fill="#35A985"/><rect x="332.0" y="218.3" width="6.8" height="6.6" fill="#3AB86C"/><rect x="338.5" y="218.3" width="6.8" height="6.6" fill="#35A985"/><rect x="345.0" y="218.3" width="6.8" height="6.6" fill="#2296B2"/><rect x="351.5" y="218.3" width="6.8" height="6.6" fill="#2865A6"/><rect x="319.0" y="224.7" width="6.8" height="6.6" fill="#40C652"/><rect x="325.5" y="224.7" width="6.8" height="6.6" fill="#2865A6"/><rect x="332.0" y="224.7" width="6.8" height="6.6" fill="#3AB86C"/><rect x="338.5" y="224.7" width="6.8" height="6.6" fill="#40C652"/><rect x="345.0" y="224.7" width="6.8" height="6.6" fill="#2865A6"/><rect x="351.5" y="224.7" width="6.8" height="6.6" fill="#40C652"/><rect x="319.0" y="231.0" width="6.8" height="6.6" fill="#40C652"/><rect x="325.5" y="231.0" width="6.8" height="6.6" fill="#2865A6"/><rect x="332.0" y="231.0" width="6.8" height="6.6" fill="#40C652"/><rect x="338.5" y="231.0" width="6.8" height="6.6" fill="#2296B2"/><rect x="345.0" y="231.0" width="6.8" height="6.6" fill="#40C652"/><rect x="351.5" y="231.0" width="6.8" height="6.6" fill="#40C652"/><rect x="319.0" y="237.3" width="6.8" height="6.6" fill="#40C652"/><rect x="325.5" y="237.3" width="6.8" height="6.6" fill="#35A985"/><rect x="332.0" y="237.3" width="6.8" height="6.6" fill="#40C652"/><rect x="338.5" y="237.3" width="6.8" height="6.6" fill="#35A985"/><rect x="345.0" y="237.3" width="6.8" height="6.6" fill="#40C652"/><rect x="351.5" y="237.3" width="6.8" height="6.6" fill="#40C652"/><rect x="319.0" y="243.7" width="6.8" height="6.6" fill="#3AB86C"/><rect x="325.5" y="243.7" width="6.8" height="6.6" fill="#3AB86C"/><rect x="332.0" y="243.7" width="6.8" height="6.6" fill="#40C652"/><rect x="338.5" y="243.7" width="6.8" height="6.6" fill="#40C652"/><rect x="345.0" y="243.7" width="6.8" height="6.6" fill="#2865A6"/><rect x="351.5" y="243.7" width="6.8" height="6.6" fill="#3AB86C"/>
<polygon points="312,247.5 359,247.5 359,290 340,300 318,300 312,280" fill="#3AB86C"/>
<polygon points="330,255 345,255 345,270 330,270" fill="#35A985"/>
<polygon points="340,272 350,272 350,282 340,282" fill="#2296B2"/>
<polygon points="252.5,151.3 277,151.3 277,167 252.5,167" fill="#2865A6"/>
<polygon points="319,154.8 338,154.8 338,177.5 319,177.5" fill="#2865A6"/>
<polygon points="323,160 332,160 332,170 323,170" fill="#1E3A8E"/>
<polygon points="270,128 280,128 280,138 270,138" fill="#2296B2"/>
<polygon points="240,140 250,140 250,150 240,150" fill="#2296B2"/>
<polygon points="360,145 370,145 370,152 360,152" fill="#2296B2"/>
<clipPath id="BR_east"><polygon points="343.5,220 343.5,207.6 358,207.6 358,191.6 372.4,188.4 382,183.6 388.5,172.3 388.5,159.5 390,151.5 411,149.9 420.6,159.5 428.6,172.3 441.8,180 459.3,190 476.8,203 485.5,220.7 503,236 520.6,253.5 527,268.8 516.2,264.4 492,260 459.3,260 441.8,268.8 437.4,281.9 404.6,281.9 402.4,247 376,247 358.6,242.6 358.6,228"/></clipPath>
<g clip-path="url(#BR_east)"><rect x="343.0" y="149.0" width="6.3" height="6.3" fill="#2865A6"/><rect x="349.0" y="149.0" width="6.3" height="6.3" fill="#1E3A8E"/><rect x="354.9" y="149.0" width="6.3" height="6.3" fill="#2865A6"/><rect x="360.9" y="149.0" width="6.3" height="6.3" fill="#2865A6"/><rect x="366.9" y="149.0" width="6.3" height="6.3" fill="#2865A6"/><rect x="372.8" y="149.0" width="6.3" height="6.3" fill="#2296B2"/><rect x="378.8" y="149.0" width="6.3" height="6.3" fill="#2865A6"/><rect x="384.8" y="149.0" width="6.3" height="6.3" fill="#2865A6"/><rect x="390.7" y="149.0" width="6.3" height="6.3" fill="#2865A6"/><rect x="396.7" y="149.0" width="6.3" height="6.3" fill="#1E3A8E"/><rect x="402.7" y="149.0" width="6.3" height="6.3" fill="#2865A6"/><rect x="408.6" y="149.0" width="6.3" height="6.3" fill="#2865A6"/><rect x="414.6" y="149.0" width="6.3" height="6.3" fill="#2865A6"/><rect x="420.6" y="149.0" width="6.3" height="6.3" fill="#2865A6"/><rect x="426.5" y="149.0" width="6.3" height="6.3" fill="#2296B2"/><rect x="432.5" y="149.0" width="6.3" height="6.3" fill="#2865A6"/><rect x="438.5" y="149.0" width="6.3" height="6.3" fill="#2865A6"/><rect x="444.5" y="149.0" width="6.3" height="6.3" fill="#2865A6"/><rect x="450.4" y="149.0" width="6.3" height="6.3" fill="#1E3A8E"/><rect x="456.4" y="149.0" width="6.3" height="6.3" fill="#1E3A8E"/><rect x="462.4" y="149.0" width="6.3" height="6.3" fill="#1E3A8E"/><rect x="468.3" y="149.0" width="6.3" height="6.3" fill="#2865A6"/><rect x="474.3" y="149.0" width="6.3" height="6.3" fill="#2865A6"/><rect x="480.3" y="149.0" width="6.3" height="6.3" fill="#2E5A9E"/><rect x="486.2" y="149.0" width="6.3" height="6.3" fill="#2865A6"/><rect x="492.2" y="149.0" width="6.3" height="6.3" fill="#2865A6"/><rect x="498.2" y="149.0" width="6.3" height="6.3" fill="#2865A6"/><rect x="504.1" y="149.0" width="6.3" height="6.3" fill="#2865A6"/><rect x="510.1" y="149.0" width="6.3" height="6.3" fill="#2865A6"/><rect x="516.1" y="149.0" width="6.3" height="6.3" fill="#2865A6"/><rect x="522.0" y="149.0" width="6.3" height="6.3" fill="#2865A6"/><rect x="343.0" y="155.0" width="6.3" height="6.3" fill="#2865A6"/><rect x="349.0" y="155.0" width="6.3" height="6.3" fill="#2865A6"/><rect x="354.9" y="155.0" width="6.3" height="6.3" fill="#2865A6"/><rect x="360.9" y="155.0" width="6.3" height="6.3" fill="#2E5A9E"/><rect x="366.9" y="155.0" width="6.3" height="6.3" fill="#2865A6"/><rect x="372.8" y="155.0" width="6.3" height="6.3" fill="#2865A6"/><rect x="378.8" y="155.0" width="6.3" height="6.3" fill="#2865A6"/><rect x="384.8" y="155.0" width="6.3" height="6.3" fill="#2865A6"/><rect x="390.7" y="155.0" width="6.3" height="6.3" fill="#2E5A9E"/><rect x="396.7" y="155.0" width="6.3" height="6.3" fill="#2296B2"/><rect x="402.7" y="155.0" width="6.3" height="6.3" fill="#1E3A8E"/><rect x="408.6" y="155.0" width="6.3" height="6.3" fill="#2865A6"/><rect x="414.6" y="155.0" width="6.3" height="6.3" fill="#2865A6"/><rect x="420.6" y="155.0" width="6.3" height="6.3" fill="#2865A6"/><rect x="426.5" y="155.0" width="6.3" height="6.3" fill="#2865A6"/><rect x="432.5" y="155.0" width="6.3" height="6.3" fill="#2865A6"/><rect x="438.5" y="155.0" width="6.3" height="6.3" fill="#2865A6"/><rect x="444.5" y="155.0" width="6.3" height="6.3" fill="#2865A6"/><rect x="450.4" y="155.0" width="6.3" height="6.3" fill="#2865A6"/><rect x="456.4" y="155.0" width="6.3" height="6.3" fill="#2865A6"/><rect x="462.4" y="155.0" width="6.3" height="6.3" fill="#2865A6"/><rect x="468.3" y="155.0" width="6.3" height="6.3" fill="#1E3A8E"/><rect x="474.3" y="155.0" width="6.3" height="6.3" fill="#1E3A8E"/><rect x="480.3" y="155.0" width="6.3" height="6.3" fill="#2296B2"/><rect x="486.2" y="155.0" width="6.3" height="6.3" fill="#2865A6"/><rect x="492.2" y="155.0" width="6.3" height="6.3" fill="#2865A6"/><rect x="498.2" y="155.0" width="6.3" height="6.3" fill="#2865A6"/><rect x="504.1" y="155.0" width="6.3" height="6.3" fill="#2865A6"/><rect x="510.1" y="155.0" width="6.3" height="6.3" fill="#2865A6"/><rect x="516.1" y="155.0" width="6.3" height="6.3" fill="#2865A6"/><rect x="522.0" y="155.0" width="6.3" height="6.3" fill="#2296B2"/><rect x="343.0" y="161.1" width="6.3" height="6.3" fill="#2865A6"/><rect x="349.0" y="161.1" width="6.3" height="6.3" fill="#1E3A8E"/><rect x="354.9" y="161.1" width="6.3" height="6.3" fill="#2865A6"/><rect x="360.9" y="161.1" width="6.3" height="6.3" fill="#2865A6"/><rect x="366.9" y="161.1" width="6.3" height="6.3" fill="#2865A6"/><rect x="372.8" y="161.1" width="6.3" height="6.3" fill="#2865A6"/><rect x="378.8" y="161.1" width="6.3" height="6.3" fill="#2865A6"/><rect x="384.8" y="161.1" width="6.3" height="6.3" fill="#2E5A9E"/><rect x="390.7" y="161.1" width="6.3" height="6.3" fill="#2865A6"/><rect x="396.7" y="161.1" width="6.3" height="6.3" fill="#1E3A8E"/><rect x="402.7" y="161.1" width="6.3" height="6.3" fill="#2296B2"/><rect x="408.6" y="161.1" width="6.3" height="6.3" fill="#2296B2"/><rect x="414.6" y="161.1" width="6.3" height="6.3" fill="#2865A6"/><rect x="420.6" y="161.1" width="6.3" height="6.3" fill="#2865A6"/><rect x="426.5" y="161.1" width="6.3" height="6.3" fill="#2865A6"/><rect x="432.5" y="161.1" width="6.3" height="6.3" fill="#2865A6"/><rect x="438.5" y="161.1" width="6.3" height="6.3" fill="#2865A6"/><rect x="444.5" y="161.1" width="6.3" height="6.3" fill="#1E3A8E"/><rect x="450.4" y="161.1" width="6.3" height="6.3" fill="#2E5A9E"/><rect x="456.4" y="161.1" width="6.3" height="6.3" fill="#1E3A8E"/><rect x="462.4" y="161.1" width="6.3" height="6.3" fill="#2296B2"/><rect x="468.3" y="161.1" width="6.3" height="6.3" fill="#2865A6"/><rect x="474.3" y="161.1" width="6.3" height="6.3" fill="#2865A6"/><rect x="480.3" y="161.1" width="6.3" height="6.3" fill="#2865A6"/><rect x="486.2" y="161.1" width="6.3" height="6.3" fill="#2865A6"/><rect x="492.2" y="161.1" width="6.3" height="6.3" fill="#2865A6"/><rect x="498.2" y="161.1" width="6.3" height="6.3" fill="#2E5A9E"/><rect x="504.1" y="161.1" width="6.3" height="6.3" fill="#2865A6"/><rect x="510.1" y="161.1" width="6.3" height="6.3" fill="#2865A6"/><rect x="516.1" y="161.1" width="6.3" height="6.3" fill="#2296B2"/><rect x="522.0" y="161.1" width="6.3" height="6.3" fill="#2865A6"/><rect x="343.0" y="167.1" width="6.3" height="6.3" fill="#2865A6"/><rect x="349.0" y="167.1" width="6.3" height="6.3" fill="#2865A6"/><rect x="354.9" y="167.1" width="6.3" height="6.3" fill="#2296B2"/><rect x="360.9" y="167.1" width="6.3" height="6.3" fill="#2865A6"/><rect x="366.9" y="167.1" width="6.3" height="6.3" fill="#2865A6"/><rect x="372.8" y="167.1" width="6.3" height="6.3" fill="#1E3A8E"/><rect x="378.8" y="167.1" width="6.3" height="6.3" fill="#2865A6"/><rect x="384.8" y="167.1" width="6.3" height="6.3" fill="#2865A6"/><rect x="390.7" y="167.1" width="6.3" height="6.3" fill="#1E3A8E"/><rect x="396.7" y="167.1" width="6.3" height="6.3" fill="#2865A6"/><rect x="402.7" y="167.1" width="6.3" height="6.3" fill="#2865A6"/><rect x="408.6" y="167.1" width="6.3" height="6.3" fill="#1E3A8E"/><rect x="414.6" y="167.1" width="6.3" height="6.3" fill="#2865A6"/><rect x="420.6" y="167.1" width="6.3" height="6.3" fill="#2865A6"/><rect x="426.5" y="167.1" width="6.3" height="6.3" fill="#2865A6"/><rect x="432.5" y="167.1" width="6.3" height="6.3" fill="#2296B2"/><rect x="438.5" y="167.1" width="6.3" height="6.3" fill="#2865A6"/><rect x="444.5" y="167.1" width="6.3" height="6.3" fill="#2865A6"/><rect x="450.4" y="167.1" width="6.3" height="6.3" fill="#2865A6"/><rect x="456.4" y="167.1" width="6.3" height="6.3" fill="#2865A6"/><rect x="462.4" y="167.1" width="6.3" height="6.3" fill="#2865A6"/><rect x="468.3" y="167.1" width="6.3" height="6.3" fill="#2865A6"/><rect x="474.3" y="167.1" width="6.3" height="6.3" fill="#1E3A8E"/><rect x="480.3" y="167.1" width="6.3" height="6.3" fill="#2865A6"/><rect x="486.2" y="167.1" width="6.3" height="6.3" fill="#1E3A8E"/><rect x="492.2" y="167.1" width="6.3" height="6.3" fill="#2E5A9E"/><rect x="498.2" y="167.1" width="6.3" height="6.3" fill="#1E3A8E"/><rect x="504.1" y="167.1" width="6.3" height="6.3" fill="#2865A6"/><rect x="510.1" y="167.1" width="6.3" height="6.3" fill="#2865A6"/><rect x="516.1" y="167.1" width="6.3" height="6.3" fill="#2E5A9E"/><rect x="522.0" y="167.1" width="6.3" height="6.3" fill="#1E3A8E"/><rect x="343.0" y="173.2" width="6.3" height="6.3" fill="#2296B2"/><rect x="349.0" y="173.2" width="6.3" height="6.3" fill="#2E5A9E"/><rect x="354.9" y="173.2" width="6.3" height="6.3" fill="#2865A6"/><rect x="360.9" y="173.2" width="6.3" height="6.3" fill="#2865A6"/><rect x="366.9" y="173.2" width="6.3" height="6.3" fill="#1E3A8E"/><rect x="372.8" y="173.2" width="6.3" height="6.3" fill="#2865A6"/><rect x="378.8" y="173.2" width="6.3" height="6.3" fill="#2E5A9E"/><rect x="384.8" y="173.2" width="6.3" height="6.3" fill="#1E3A8E"/><rect x="390.7" y="173.2" width="6.3" height="6.3" fill="#2865A6"/><rect x="396.7" y="173.2" width="6.3" height="6.3" fill="#2865A6"/><rect x="402.7" y="173.2" width="6.3" height="6.3" fill="#1E3A8E"/><rect x="408.6" y="173.2" width="6.3" height="6.3" fill="#1E3A8E"/><rect x="414.6" y="173.2" width="6.3" height="6.3" fill="#2865A6"/><rect x="420.6" y="173.2" width="6.3" height="6.3" fill="#2865A6"/><rect x="426.5" y="173.2" width="6.3" height="6.3" fill="#2865A6"/><rect x="432.5" y="173.2" width="6.3" height="6.3" fill="#2865A6"/><rect x="438.5" y="173.2" width="6.3" height="6.3" fill="#2865A6"/><rect x="444.5" y="173.2" width="6.3" height="6.3" fill="#2E5A9E"/><rect x="450.4" y="173.2" width="6.3" height="6.3" fill="#2865A6"/><rect x="456.4" y="173.2" width="6.3" height="6.3" fill="#1E3A8E"/><rect x="462.4" y="173.2" width="6.3" height="6.3" fill="#2865A6"/><rect x="468.3" y="173.2" width="6.3" height="6.3" fill="#2865A6"/><rect x="474.3" y="173.2" width="6.3" height="6.3" fill="#2865A6"/><rect x="480.3" y="173.2" width="6.3" height="6.3" fill="#2865A6"/><rect x="486.2" y="173.2" width="6.3" height="6.3" fill="#2E5A9E"/><rect x="492.2" y="173.2" width="6.3" height="6.3" fill="#2E5A9E"/><rect x="498.2" y="173.2" width="6.3" height="6.3" fill="#2865A6"/><rect x="504.1" y="173.2" width="6.3" height="6.3" fill="#2E5A9E"/><rect x="510.1" y="173.2" width="6.3" height="6.3" fill="#2865A6"/><rect x="516.1" y="173.2" width="6.3" height="6.3" fill="#2865A6"/><rect x="522.0" y="173.2" width="6.3" height="6.3" fill="#2865A6"/><rect x="343.0" y="179.2" width="6.3" height="6.3" fill="#2865A6"/><rect x="349.0" y="179.2" width="6.3" height="6.3" fill="#1E3A8E"/><rect x="354.9" y="179.2" width="6.3" height="6.3" fill="#1E3A8E"/><rect x="360.9" y="179.2" width="6.3" height="6.3" fill="#1E3A8E"/><rect x="366.9" y="179.2" width="6.3" height="6.3" fill="#1E3A8E"/><rect x="372.8" y="179.2" width="6.3" height="6.3" fill="#1E3A8E"/><rect x="378.8" y="179.2" width="6.3" height="6.3" fill="#1E3A8E"/><rect x="384.8" y="179.2" width="6.3" height="6.3" fill="#2865A6"/><rect x="390.7" y="179.2" width="6.3" height="6.3" fill="#2865A6"/><rect x="396.7" y="179.2" width="6.3" height="6.3" fill="#1E3A8E"/><rect x="402.7" y="179.2" width="6.3" height="6.3" fill="#2865A6"/><rect x="408.6" y="179.2" width="6.3" height="6.3" fill="#2E5A9E"/><rect x="414.6" y="179.2" width="6.3" height="6.3" fill="#1E3A8E"/><rect x="420.6" y="179.2" width="6.3" height="6.3" fill="#2865A6"/><rect x="426.5" y="179.2" width="6.3" height="6.3" fill="#1E3A8E"/><rect x="432.5" y="179.2" width="6.3" height="6.3" fill="#2865A6"/><rect x="438.5" y="179.2" width="6.3" height="6.3" fill="#2865A6"/><rect x="444.5" y="179.2" width="6.3" height="6.3" fill="#2865A6"/><rect x="450.4" y="179.2" width="6.3" height="6.3" fill="#2865A6"/><rect x="456.4" y="179.2" width="6.3" height="6.3" fill="#1E3A8E"/><rect x="462.4" y="179.2" width="6.3" height="6.3" fill="#2865A6"/><rect x="468.3" y="179.2" width="6.3" height="6.3" fill="#2865A6"/><rect x="474.3" y="179.2" width="6.3" height="6.3" fill="#2865A6"/><rect x="480.3" y="179.2" width="6.3" height="6.3" fill="#2865A6"/><rect x="486.2" y="179.2" width="6.3" height="6.3" fill="#2E5A9E"/><rect x="492.2" y="179.2" width="6.3" height="6.3" fill="#2865A6"/><rect x="498.2" y="179.2" width="6.3" height="6.3" fill="#2865A6"/><rect x="504.1" y="179.2" width="6.3" height="6.3" fill="#2296B2"/><rect x="510.1" y="179.2" width="6.3" height="6.3" fill="#2865A6"/><rect x="516.1" y="179.2" width="6.3" height="6.3" fill="#2865A6"/><rect x="522.0" y="179.2" width="6.3" height="6.3" fill="#2865A6"/><rect x="343.0" y="185.3" width="6.3" height="6.3" fill="#2865A6"/><rect x="349.0" y="185.3" width="6.3" height="6.3" fill="#2865A6"/><rect x="354.9" y="185.3" width="6.3" height="6.3" fill="#2865A6"/><rect x="360.9" y="185.3" width="6.3" height="6.3" fill="#2865A6"/><rect x="366.9" y="185.3" width="6.3" height="6.3" fill="#2865A6"/><rect x="372.8" y="185.3" width="6.3" height="6.3" fill="#2865A6"/><rect x="378.8" y="185.3" width="6.3" height="6.3" fill="#2865A6"/><rect x="384.8" y="185.3" width="6.3" height="6.3" fill="#1E3A8E"/><rect x="390.7" y="185.3" width="6.3" height="6.3" fill="#2E5A9E"/><rect x="396.7" y="185.3" width="6.3" height="6.3" fill="#2865A6"/><rect x="402.7" y="185.3" width="6.3" height="6.3" fill="#2865A6"/><rect x="408.6" y="185.3" width="6.3" height="6.3" fill="#2865A6"/><rect x="414.6" y="185.3" width="6.3" height="6.3" fill="#2865A6"/><rect x="420.6" y="185.3" width="6.3" height="6.3" fill="#1E3A8E"/><rect x="426.5" y="185.3" width="6.3" height="6.3" fill="#2E5A9E"/><rect x="432.5" y="185.3" width="6.3" height="6.3" fill="#2865A6"/><rect x="438.5" y="185.3" width="6.3" height="6.3" fill="#2865A6"/><rect x="444.5" y="185.3" width="6.3" height="6.3" fill="#1E3A8E"/><rect x="450.4" y="185.3" width="6.3" height="6.3" fill="#2865A6"/><rect x="456.4" y="185.3" width="6.3" height="6.3" fill="#2865A6"/><rect x="462.4" y="185.3" width="6.3" height="6.3" fill="#2865A6"/><rect x="468.3" y="185.3" width="6.3" height="6.3" fill="#2865A6"/><rect x="474.3" y="185.3" width="6.3" height="6.3" fill="#2865A6"/><rect x="480.3" y="185.3" width="6.3" height="6.3" fill="#2865A6"/><rect x="486.2" y="185.3" width="6.3" height="6.3" fill="#1E3A8E"/><rect x="492.2" y="185.3" width="6.3" height="6.3" fill="#2865A6"/><rect x="498.2" y="185.3" width="6.3" height="6.3" fill="#2865A6"/><rect x="504.1" y="185.3" width="6.3" height="6.3" fill="#2865A6"/><rect x="510.1" y="185.3" width="6.3" height="6.3" fill="#2865A6"/><rect x="516.1" y="185.3" width="6.3" height="6.3" fill="#2865A6"/><rect x="522.0" y="185.3" width="6.3" height="6.3" fill="#2865A6"/><rect x="343.0" y="191.3" width="6.3" height="6.3" fill="#2865A6"/><rect x="349.0" y="191.3" width="6.3" height="6.3" fill="#2865A6"/><rect x="354.9" y="191.3" width="6.3" height="6.3" fill="#2865A6"/><rect x="360.9" y="191.3" width="6.3" height="6.3" fill="#2865A6"/><rect x="366.9" y="191.3" width="6.3" height="6.3" fill="#2865A6"/><rect x="372.8" y="191.3" width="6.3" height="6.3" fill="#2865A6"/><rect x="378.8" y="191.3" width="6.3" height="6.3" fill="#2E5A9E"/><rect x="384.8" y="191.3" width="6.3" height="6.3" fill="#1E3A8E"/><rect x="390.7" y="191.3" width="6.3" height="6.3" fill="#1E3A8E"/><rect x="396.7" y="191.3" width="6.3" height="6.3" fill="#1E3A8E"/><rect x="402.7" y="191.3" width="6.3" height="6.3" fill="#2296B2"/><rect x="408.6" y="191.3" width="6.3" height="6.3" fill="#2865A6"/><rect x="414.6" y="191.3" width="6.3" height="6.3" fill="#2296B2"/><rect x="420.6" y="191.3" width="6.3" height="6.3" fill="#2865A6"/><rect x="426.5" y="191.3" width="6.3" height="6.3" fill="#2865A6"/><rect x="432.5" y="191.3" width="6.3" height="6.3" fill="#2865A6"/><rect x="438.5" y="191.3" width="6.3" height="6.3" fill="#2865A6"/><rect x="444.5" y="191.3" width="6.3" height="6.3" fill="#1E3A8E"/><rect x="450.4" y="191.3" width="6.3" height="6.3" fill="#2865A6"/><rect x="456.4" y="191.3" width="6.3" height="6.3" fill="#2865A6"/><rect x="462.4" y="191.3" width="6.3" height="6.3" fill="#1E3A8E"/><rect x="468.3" y="191.3" width="6.3" height="6.3" fill="#2865A6"/><rect x="474.3" y="191.3" width="6.3" height="6.3" fill="#2865A6"/><rect x="480.3" y="191.3" width="6.3" height="6.3" fill="#2865A6"/><rect x="486.2" y="191.3" width="6.3" height="6.3" fill="#2865A6"/><rect x="492.2" y="191.3" width="6.3" height="6.3" fill="#2865A6"/><rect x="498.2" y="191.3" width="6.3" height="6.3" fill="#2865A6"/><rect x="504.1" y="191.3" width="6.3" height="6.3" fill="#2865A6"/><rect x="510.1" y="191.3" width="6.3" height="6.3" fill="#2865A6"/><rect x="516.1" y="191.3" width="6.3" height="6.3" fill="#2E5A9E"/><rect x="522.0" y="191.3" width="6.3" height="6.3" fill="#2865A6"/><rect x="343.0" y="197.4" width="6.3" height="6.3" fill="#2865A6"/><rect x="349.0" y="197.4" width="6.3" height="6.3" fill="#2865A6"/><rect x="354.9" y="197.4" width="6.3" height="6.3" fill="#2865A6"/><rect x="360.9" y="197.4" width="6.3" height="6.3" fill="#2E5A9E"/><rect x="366.9" y="197.4" width="6.3" height="6.3" fill="#2865A6"/><rect x="372.8" y="197.4" width="6.3" height="6.3" fill="#2296B2"/><rect x="378.8" y="197.4" width="6.3" height="6.3" fill="#1E3A8E"/><rect x="384.8" y="197.4" width="6.3" height="6.3" fill="#2865A6"/><rect x="390.7" y="197.4" width="6.3" height="6.3" fill="#2865A6"/><rect x="396.7" y="197.4" width="6.3" height="6.3" fill="#2296B2"/><rect x="402.7" y="197.4" width="6.3" height="6.3" fill="#2E5A9E"/><rect x="408.6" y="197.4" width="6.3" height="6.3" fill="#2865A6"/><rect x="414.6" y="197.4" width="6.3" height="6.3" fill="#2865A6"/><rect x="420.6" y="197.4" width="6.3" height="6.3" fill="#2865A6"/><rect x="426.5" y="197.4" width="6.3" height="6.3" fill="#1E3A8E"/><rect x="432.5" y="197.4" width="6.3" height="6.3" fill="#1E3A8E"/><rect x="438.5" y="197.4" width="6.3" height="6.3" fill="#2865A6"/><rect x="444.5" y="197.4" width="6.3" height="6.3" fill="#2296B2"/><rect x="450.4" y="197.4" width="6.3" height="6.3" fill="#1E3A8E"/><rect x="456.4" y="197.4" width="6.3" height="6.3" fill="#1E3A8E"/><rect x="462.4" y="197.4" width="6.3" height="6.3" fill="#2865A6"/><rect x="468.3" y="197.4" width="6.3" height="6.3" fill="#2865A6"/><rect x="474.3" y="197.4" width="6.3" height="6.3" fill="#2865A6"/><rect x="480.3" y="197.4" width="6.3" height="6.3" fill="#2865A6"/><rect x="486.2" y="197.4" width="6.3" height="6.3" fill="#2296B2"/><rect x="492.2" y="197.4" width="6.3" height="6.3" fill="#2865A6"/><rect x="498.2" y="197.4" width="6.3" height="6.3" fill="#1E3A8E"/><rect x="504.1" y="197.4" width="6.3" height="6.3" fill="#2865A6"/><rect x="510.1" y="197.4" width="6.3" height="6.3" fill="#2865A6"/><rect x="516.1" y="197.4" width="6.3" height="6.3" fill="#2865A6"/><rect x="522.0" y="197.4" width="6.3" height="6.3" fill="#2E5A9E"/><rect x="343.0" y="203.4" width="6.3" height="6.3" fill="#2865A6"/><rect x="349.0" y="203.4" width="6.3" height="6.3" fill="#2865A6"/><rect x="354.9" y="203.4" width="6.3" height="6.3" fill="#2865A6"/><rect x="360.9" y="203.4" width="6.3" height="6.3" fill="#2865A6"/><rect x="366.9" y="203.4" width="6.3" height="6.3" fill="#2296B2"/><rect x="372.8" y="203.4" width="6.3" height="6.3" fill="#2865A6"/><rect x="378.8" y="203.4" width="6.3" height="6.3" fill="#2865A6"/><rect x="384.8" y="203.4" width="6.3" height="6.3" fill="#2865A6"/><rect x="390.7" y="203.4" width="6.3" height="6.3" fill="#1E3A8E"/><rect x="396.7" y="203.4" width="6.3" height="6.3" fill="#2865A6"/><rect x="402.7" y="203.4" width="6.3" height="6.3" fill="#2865A6"/><rect x="408.6" y="203.4" width="6.3" height="6.3" fill="#2865A6"/><rect x="414.6" y="203.4" width="6.3" height="6.3" fill="#1E3A8E"/><rect x="420.6" y="203.4" width="6.3" height="6.3" fill="#2865A6"/><rect x="426.5" y="203.4" width="6.3" height="6.3" fill="#2865A6"/><rect x="432.5" y="203.4" width="6.3" height="6.3" fill="#2865A6"/><rect x="438.5" y="203.4" width="6.3" height="6.3" fill="#2865A6"/><rect x="444.5" y="203.4" width="6.3" height="6.3" fill="#2865A6"/><rect x="450.4" y="203.4" width="6.3" height="6.3" fill="#2865A6"/><rect x="456.4" y="203.4" width="6.3" height="6.3" fill="#2865A6"/><rect x="462.4" y="203.4" width="6.3" height="6.3" fill="#2865A6"/><rect x="468.3" y="203.4" width="6.3" height="6.3" fill="#1E3A8E"/><rect x="474.3" y="203.4" width="6.3" height="6.3" fill="#1E3A8E"/><rect x="480.3" y="203.4" width="6.3" height="6.3" fill="#1E3A8E"/><rect x="486.2" y="203.4" width="6.3" height="6.3" fill="#2865A6"/><rect x="492.2" y="203.4" width="6.3" height="6.3" fill="#2865A6"/><rect x="498.2" y="203.4" width="6.3" height="6.3" fill="#2865A6"/><rect x="504.1" y="203.4" width="6.3" height="6.3" fill="#1E3A8E"/><rect x="510.1" y="203.4" width="6.3" height="6.3" fill="#1E3A8E"/><rect x="516.1" y="203.4" width="6.3" height="6.3" fill="#1E3A8E"/><rect x="522.0" y="203.4" width="6.3" height="6.3" fill="#2865A6"/><rect x="343.0" y="209.5" width="6.3" height="6.3" fill="#1E3A8E"/><rect x="349.0" y="209.5" width="6.3" height="6.3" fill="#1E3A8E"/><rect x="354.9" y="209.5" width="6.3" height="6.3" fill="#2296B2"/><rect x="360.9" y="209.5" width="6.3" height="6.3" fill="#2296B2"/><rect x="366.9" y="209.5" width="6.3" height="6.3" fill="#2865A6"/><rect x="372.8" y="209.5" width="6.3" height="6.3" fill="#2296B2"/><rect x="378.8" y="209.5" width="6.3" height="6.3" fill="#2296B2"/><rect x="384.8" y="209.5" width="6.3" height="6.3" fill="#2865A6"/><rect x="390.7" y="209.5" width="6.3" height="6.3" fill="#2865A6"/><rect x="396.7" y="209.5" width="6.3" height="6.3" fill="#2865A6"/><rect x="402.7" y="209.5" width="6.3" height="6.3" fill="#2865A6"/><rect x="408.6" y="209.5" width="6.3" height="6.3" fill="#1E3A8E"/><rect x="414.6" y="209.5" width="6.3" height="6.3" fill="#2865A6"/><rect x="420.6" y="209.5" width="6.3" height="6.3" fill="#2865A6"/><rect x="426.5" y="209.5" width="6.3" height="6.3" fill="#2E5A9E"/><rect x="432.5" y="209.5" width="6.3" height="6.3" fill="#2865A6"/><rect x="438.5" y="209.5" width="6.3" height="6.3" fill="#2865A6"/><rect x="444.5" y="209.5" width="6.3" height="6.3" fill="#2E5A9E"/><rect x="450.4" y="209.5" width="6.3" height="6.3" fill="#2865A6"/><rect x="456.4" y="209.5" width="6.3" height="6.3" fill="#2865A6"/><rect x="462.4" y="209.5" width="6.3" height="6.3" fill="#2865A6"/><rect x="468.3" y="209.5" width="6.3" height="6.3" fill="#2865A6"/><rect x="474.3" y="209.5" width="6.3" height="6.3" fill="#2865A6"/><rect x="480.3" y="209.5" width="6.3" height="6.3" fill="#2296B2"/><rect x="486.2" y="209.5" width="6.3" height="6.3" fill="#1E3A8E"/><rect x="492.2" y="209.5" width="6.3" height="6.3" fill="#2865A6"/><rect x="498.2" y="209.5" width="6.3" height="6.3" fill="#2865A6"/><rect x="504.1" y="209.5" width="6.3" height="6.3" fill="#1E3A8E"/><rect x="510.1" y="209.5" width="6.3" height="6.3" fill="#2865A6"/><rect x="516.1" y="209.5" width="6.3" height="6.3" fill="#2865A6"/><rect x="522.0" y="209.5" width="6.3" height="6.3" fill="#1E3A8E"/><rect x="343.0" y="215.5" width="6.3" height="6.3" fill="#2865A6"/><rect x="349.0" y="215.5" width="6.3" height="6.3" fill="#2865A6"/><rect x="354.9" y="215.5" width="6.3" height="6.3" fill="#2865A6"/><rect x="360.9" y="215.5" width="6.3" height="6.3" fill="#1E3A8E"/><rect x="366.9" y="215.5" width="6.3" height="6.3" fill="#2865A6"/><rect x="372.8" y="215.5" width="6.3" height="6.3" fill="#2865A6"/><rect x="378.8" y="215.5" width="6.3" height="6.3" fill="#1E3A8E"/><rect x="384.8" y="215.5" width="6.3" height="6.3" fill="#2865A6"/><rect x="390.7" y="215.5" width="6.3" height="6.3" fill="#2865A6"/><rect x="396.7" y="215.5" width="6.3" height="6.3" fill="#2E5A9E"/><rect x="402.7" y="215.5" width="6.3" height="6.3" fill="#2865A6"/><rect x="408.6" y="215.5" width="6.3" height="6.3" fill="#2865A6"/><rect x="414.6" y="215.5" width="6.3" height="6.3" fill="#2865A6"/><rect x="420.6" y="215.5" width="6.3" height="6.3" fill="#2296B2"/><rect x="426.5" y="215.5" width="6.3" height="6.3" fill="#2865A6"/><rect x="432.5" y="215.5" width="6.3" height="6.3" fill="#1E3A8E"/><rect x="438.5" y="215.5" width="6.3" height="6.3" fill="#2865A6"/><rect x="444.5" y="215.5" width="6.3" height="6.3" fill="#2865A6"/><rect x="450.4" y="215.5" width="6.3" height="6.3" fill="#2865A6"/><rect x="456.4" y="215.5" width="6.3" height="6.3" fill="#2865A6"/><rect x="462.4" y="215.5" width="6.3" height="6.3" fill="#2865A6"/><rect x="468.3" y="215.5" width="6.3" height="6.3" fill="#2865A6"/><rect x="474.3" y="215.5" width="6.3" height="6.3" fill="#2865A6"/><rect x="480.3" y="215.5" width="6.3" height="6.3" fill="#2E5A9E"/><rect x="486.2" y="215.5" width="6.3" height="6.3" fill="#1E3A8E"/><rect x="492.2" y="215.5" width="6.3" height="6.3" fill="#2296B2"/><rect x="498.2" y="215.5" width="6.3" height="6.3" fill="#2865A6"/><rect x="504.1" y="215.5" width="6.3" height="6.3" fill="#2865A6"/><rect x="510.1" y="215.5" width="6.3" height="6.3" fill="#2865A6"/><rect x="516.1" y="215.5" width="6.3" height="6.3" fill="#2865A6"/><rect x="522.0" y="215.5" width="6.3" height="6.3" fill="#2296B2"/><rect x="343.0" y="221.5" width="6.3" height="6.3" fill="#2865A6"/><rect x="349.0" y="221.5" width="6.3" height="6.3" fill="#2865A6"/><rect x="354.9" y="221.5" width="6.3" height="6.3" fill="#2865A6"/><rect x="360.9" y="221.5" width="6.3" height="6.3" fill="#2865A6"/><rect x="366.9" y="221.5" width="6.3" height="6.3" fill="#2865A6"/><rect x="372.8" y="221.5" width="6.3" height="6.3" fill="#2865A6"/><rect x="378.8" y="221.5" width="6.3" height="6.3" fill="#2865A6"/><rect x="384.8" y="221.5" width="6.3" height="6.3" fill="#2296B2"/><rect x="390.7" y="221.5" width="6.3" height="6.3" fill="#1E3A8E"/><rect x="396.7" y="221.5" width="6.3" height="6.3" fill="#2865A6"/><rect x="402.7" y="221.5" width="6.3" height="6.3" fill="#2865A6"/><rect x="408.6" y="221.5" width="6.3" height="6.3" fill="#2865A6"/><rect x="414.6" y="221.5" width="6.3" height="6.3" fill="#1E3A8E"/><rect x="420.6" y="221.5" width="6.3" height="6.3" fill="#2865A6"/><rect x="426.5" y="221.5" width="6.3" height="6.3" fill="#2865A6"/><rect x="432.5" y="221.5" width="6.3" height="6.3" fill="#1E3A8E"/><rect x="438.5" y="221.5" width="6.3" height="6.3" fill="#1E3A8E"/><rect x="444.5" y="221.5" width="6.3" height="6.3" fill="#1E3A8E"/><rect x="450.4" y="221.5" width="6.3" height="6.3" fill="#2865A6"/><rect x="456.4" y="221.5" width="6.3" height="6.3" fill="#2865A6"/><rect x="462.4" y="221.5" width="6.3" height="6.3" fill="#2865A6"/><rect x="468.3" y="221.5" width="6.3" height="6.3" fill="#1E3A8E"/><rect x="474.3" y="221.5" width="6.3" height="6.3" fill="#2865A6"/><rect x="480.3" y="221.5" width="6.3" height="6.3" fill="#2865A6"/><rect x="486.2" y="221.5" width="6.3" height="6.3" fill="#2865A6"/><rect x="492.2" y="221.5" width="6.3" height="6.3" fill="#2E5A9E"/><rect x="498.2" y="221.5" width="6.3" height="6.3" fill="#2865A6"/><rect x="504.1" y="221.5" width="6.3" height="6.3" fill="#2865A6"/><rect x="510.1" y="221.5" width="6.3" height="6.3" fill="#2865A6"/><rect x="516.1" y="221.5" width="6.3" height="6.3" fill="#1E3A8E"/><rect x="522.0" y="221.5" width="6.3" height="6.3" fill="#2865A6"/><rect x="343.0" y="227.6" width="6.3" height="6.3" fill="#2865A6"/><rect x="349.0" y="227.6" width="6.3" height="6.3" fill="#2865A6"/><rect x="354.9" y="227.6" width="6.3" height="6.3" fill="#2E5A9E"/><rect x="360.9" y="227.6" width="6.3" height="6.3" fill="#2865A6"/><rect x="366.9" y="227.6" width="6.3" height="6.3" fill="#1E3A8E"/><rect x="372.8" y="227.6" width="6.3" height="6.3" fill="#1E3A8E"/><rect x="378.8" y="227.6" width="6.3" height="6.3" fill="#2E5A9E"/><rect x="384.8" y="227.6" width="6.3" height="6.3" fill="#2E5A9E"/><rect x="390.7" y="227.6" width="6.3" height="6.3" fill="#2865A6"/><rect x="396.7" y="227.6" width="6.3" height="6.3" fill="#2865A6"/><rect x="402.7" y="227.6" width="6.3" height="6.3" fill="#2865A6"/><rect x="408.6" y="227.6" width="6.3" height="6.3" fill="#1E3A8E"/><rect x="414.6" y="227.6" width="6.3" height="6.3" fill="#2865A6"/><rect x="420.6" y="227.6" width="6.3" height="6.3" fill="#2865A6"/><rect x="426.5" y="227.6" width="6.3" height="6.3" fill="#2E5A9E"/><rect x="432.5" y="227.6" width="6.3" height="6.3" fill="#1E3A8E"/><rect x="438.5" y="227.6" width="6.3" height="6.3" fill="#1E3A8E"/><rect x="444.5" y="227.6" width="6.3" height="6.3" fill="#2865A6"/><rect x="450.4" y="227.6" width="6.3" height="6.3" fill="#2E5A9E"/><rect x="456.4" y="227.6" width="6.3" height="6.3" fill="#2296B2"/><rect x="462.4" y="227.6" width="6.3" height="6.3" fill="#2865A6"/><rect x="468.3" y="227.6" width="6.3" height="6.3" fill="#2865A6"/><rect x="474.3" y="227.6" width="6.3" height="6.3" fill="#2296B2"/><rect x="480.3" y="227.6" width="6.3" height="6.3" fill="#2E5A9E"/><rect x="486.2" y="227.6" width="6.3" height="6.3" fill="#2865A6"/><rect x="492.2" y="227.6" width="6.3" height="6.3" fill="#2865A6"/><rect x="498.2" y="227.6" width="6.3" height="6.3" fill="#2865A6"/><rect x="504.1" y="227.6" width="6.3" height="6.3" fill="#1E3A8E"/><rect x="510.1" y="227.6" width="6.3" height="6.3" fill="#1E3A8E"/><rect x="516.1" y="227.6" width="6.3" height="6.3" fill="#2865A6"/><rect x="522.0" y="227.6" width="6.3" height="6.3" fill="#2865A6"/><rect x="343.0" y="233.6" width="6.3" height="6.3" fill="#1E3A8E"/><rect x="349.0" y="233.6" width="6.3" height="6.3" fill="#2865A6"/><rect x="354.9" y="233.6" width="6.3" height="6.3" fill="#2865A6"/><rect x="360.9" y="233.6" width="6.3" height="6.3" fill="#1E3A8E"/><rect x="366.9" y="233.6" width="6.3" height="6.3" fill="#1E3A8E"/><rect x="372.8" y="233.6" width="6.3" height="6.3" fill="#2865A6"/><rect x="378.8" y="233.6" width="6.3" height="6.3" fill="#2296B2"/><rect x="384.8" y="233.6" width="6.3" height="6.3" fill="#2E5A9E"/><rect x="390.7" y="233.6" width="6.3" height="6.3" fill="#2865A6"/><rect x="396.7" y="233.6" width="6.3" height="6.3" fill="#2865A6"/><rect x="402.7" y="233.6" width="6.3" height="6.3" fill="#1E3A8E"/><rect x="408.6" y="233.6" width="6.3" height="6.3" fill="#2865A6"/><rect x="414.6" y="233.6" width="6.3" height="6.3" fill="#1E3A8E"/><rect x="420.6" y="233.6" width="6.3" height="6.3" fill="#2865A6"/><rect x="426.5" y="233.6" width="6.3" height="6.3" fill="#2865A6"/><rect x="432.5" y="233.6" width="6.3" height="6.3" fill="#1E3A8E"/><rect x="438.5" y="233.6" width="6.3" height="6.3" fill="#2865A6"/><rect x="444.5" y="233.6" width="6.3" height="6.3" fill="#2296B2"/><rect x="450.4" y="233.6" width="6.3" height="6.3" fill="#2865A6"/><rect x="456.4" y="233.6" width="6.3" height="6.3" fill="#2865A6"/><rect x="462.4" y="233.6" width="6.3" height="6.3" fill="#1E3A8E"/><rect x="468.3" y="233.6" width="6.3" height="6.3" fill="#2865A6"/><rect x="474.3" y="233.6" width="6.3" height="6.3" fill="#2865A6"/><rect x="480.3" y="233.6" width="6.3" height="6.3" fill="#2865A6"/><rect x="486.2" y="233.6" width="6.3" height="6.3" fill="#2865A6"/><rect x="492.2" y="233.6" width="6.3" height="6.3" fill="#1E3A8E"/><rect x="498.2" y="233.6" width="6.3" height="6.3" fill="#2E5A9E"/><rect x="504.1" y="233.6" width="6.3" height="6.3" fill="#1E3A8E"/><rect x="510.1" y="233.6" width="6.3" height="6.3" fill="#2865A6"/><rect x="516.1" y="233.6" width="6.3" height="6.3" fill="#2865A6"/><rect x="522.0" y="233.6" width="6.3" height="6.3" fill="#2865A6"/><rect x="343.0" y="239.7" width="6.3" height="6.3" fill="#2296B2"/><rect x="349.0" y="239.7" width="6.3" height="6.3" fill="#2E5A9E"/><rect x="354.9" y="239.7" width="6.3" height="6.3" fill="#2865A6"/><rect x="360.9" y="239.7" width="6.3" height="6.3" fill="#2865A6"/><rect x="366.9" y="239.7" width="6.3" height="6.3" fill="#2865A6"/><rect x="372.8" y="239.7" width="6.3" height="6.3" fill="#2865A6"/><rect x="378.8" y="239.7" width="6.3" height="6.3" fill="#2865A6"/><rect x="384.8" y="239.7" width="6.3" height="6.3" fill="#2865A6"/><rect x="390.7" y="239.7" width="6.3" height="6.3" fill="#2865A6"/><rect x="396.7" y="239.7" width="6.3" height="6.3" fill="#2E5A9E"/><rect x="402.7" y="239.7" width="6.3" height="6.3" fill="#2865A6"/><rect x="408.6" y="239.7" width="6.3" height="6.3" fill="#2865A6"/><rect x="414.6" y="239.7" width="6.3" height="6.3" fill="#2865A6"/><rect x="420.6" y="239.7" width="6.3" height="6.3" fill="#2865A6"/><rect x="426.5" y="239.7" width="6.3" height="6.3" fill="#2865A6"/><rect x="432.5" y="239.7" width="6.3" height="6.3" fill="#2865A6"/><rect x="438.5" y="239.7" width="6.3" height="6.3" fill="#2865A6"/><rect x="444.5" y="239.7" width="6.3" height="6.3" fill="#1E3A8E"/><rect x="450.4" y="239.7" width="6.3" height="6.3" fill="#2865A6"/><rect x="456.4" y="239.7" width="6.3" height="6.3" fill="#2865A6"/><rect x="462.4" y="239.7" width="6.3" height="6.3" fill="#2865A6"/><rect x="468.3" y="239.7" width="6.3" height="6.3" fill="#2865A6"/><rect x="474.3" y="239.7" width="6.3" height="6.3" fill="#2865A6"/><rect x="480.3" y="239.7" width="6.3" height="6.3" fill="#2865A6"/><rect x="486.2" y="239.7" width="6.3" height="6.3" fill="#2865A6"/><rect x="492.2" y="239.7" width="6.3" height="6.3" fill="#2865A6"/><rect x="498.2" y="239.7" width="6.3" height="6.3" fill="#1E3A8E"/><rect x="504.1" y="239.7" width="6.3" height="6.3" fill="#2865A6"/><rect x="510.1" y="239.7" width="6.3" height="6.3" fill="#2865A6"/><rect x="516.1" y="239.7" width="6.3" height="6.3" fill="#2296B2"/><rect x="522.0" y="239.7" width="6.3" height="6.3" fill="#2865A6"/><rect x="343.0" y="245.7" width="6.3" height="6.3" fill="#2865A6"/><rect x="349.0" y="245.7" width="6.3" height="6.3" fill="#2865A6"/><rect x="354.9" y="245.7" width="6.3" height="6.3" fill="#1E3A8E"/><rect x="360.9" y="245.7" width="6.3" height="6.3" fill="#2865A6"/><rect x="366.9" y="245.7" width="6.3" height="6.3" fill="#2865A6"/><rect x="372.8" y="245.7" width="6.3" height="6.3" fill="#2865A6"/><rect x="378.8" y="245.7" width="6.3" height="6.3" fill="#2865A6"/><rect x="384.8" y="245.7" width="6.3" height="6.3" fill="#2865A6"/><rect x="390.7" y="245.7" width="6.3" height="6.3" fill="#2865A6"/><rect x="396.7" y="245.7" width="6.3" height="6.3" fill="#2865A6"/><rect x="402.7" y="245.7" width="6.3" height="6.3" fill="#2E5A9E"/><rect x="408.6" y="245.7" width="6.3" height="6.3" fill="#1E3A8E"/><rect x="414.6" y="245.7" width="6.3" height="6.3" fill="#2865A6"/><rect x="420.6" y="245.7" width="6.3" height="6.3" fill="#1E3A8E"/><rect x="426.5" y="245.7" width="6.3" height="6.3" fill="#2865A6"/><rect x="432.5" y="245.7" width="6.3" height="6.3" fill="#2865A6"/><rect x="438.5" y="245.7" width="6.3" height="6.3" fill="#2296B2"/><rect x="444.5" y="245.7" width="6.3" height="6.3" fill="#2865A6"/><rect x="450.4" y="245.7" width="6.3" height="6.3" fill="#2865A6"/><rect x="456.4" y="245.7" width="6.3" height="6.3" fill="#2865A6"/><rect x="462.4" y="245.7" width="6.3" height="6.3" fill="#2296B2"/><rect x="468.3" y="245.7" width="6.3" height="6.3" fill="#1E3A8E"/><rect x="474.3" y="245.7" width="6.3" height="6.3" fill="#2865A6"/><rect x="480.3" y="245.7" width="6.3" height="6.3" fill="#2865A6"/><rect x="486.2" y="245.7" width="6.3" height="6.3" fill="#2E5A9E"/><rect x="492.2" y="245.7" width="6.3" height="6.3" fill="#2865A6"/><rect x="498.2" y="245.7" width="6.3" height="6.3" fill="#2865A6"/><rect x="504.1" y="245.7" width="6.3" height="6.3" fill="#2E5A9E"/><rect x="510.1" y="245.7" width="6.3" height="6.3" fill="#2296B2"/><rect x="516.1" y="245.7" width="6.3" height="6.3" fill="#2296B2"/><rect x="522.0" y="245.7" width="6.3" height="6.3" fill="#2865A6"/><rect x="343.0" y="251.8" width="6.3" height="6.3" fill="#2865A6"/><rect x="349.0" y="251.8" width="6.3" height="6.3" fill="#2296B2"/><rect x="354.9" y="251.8" width="6.3" height="6.3" fill="#2865A6"/><rect x="360.9" y="251.8" width="6.3" height="6.3" fill="#1E3A8E"/><rect x="366.9" y="251.8" width="6.3" height="6.3" fill="#2865A6"/><rect x="372.8" y="251.8" width="6.3" height="6.3" fill="#2865A6"/><rect x="378.8" y="251.8" width="6.3" height="6.3" fill="#1E3A8E"/><rect x="384.8" y="251.8" width="6.3" height="6.3" fill="#2865A6"/><rect x="390.7" y="251.8" width="6.3" height="6.3" fill="#2865A6"/><rect x="396.7" y="251.8" width="6.3" height="6.3" fill="#1E3A8E"/><rect x="402.7" y="251.8" width="6.3" height="6.3" fill="#2865A6"/><rect x="408.6" y="251.8" width="6.3" height="6.3" fill="#2865A6"/><rect x="414.6" y="251.8" width="6.3" height="6.3" fill="#2865A6"/><rect x="420.6" y="251.8" width="6.3" height="6.3" fill="#2296B2"/><rect x="426.5" y="251.8" width="6.3" height="6.3" fill="#2865A6"/><rect x="432.5" y="251.8" width="6.3" height="6.3" fill="#2296B2"/><rect x="438.5" y="251.8" width="6.3" height="6.3" fill="#2865A6"/><rect x="444.5" y="251.8" width="6.3" height="6.3" fill="#1E3A8E"/><rect x="450.4" y="251.8" width="6.3" height="6.3" fill="#2865A6"/><rect x="456.4" y="251.8" width="6.3" height="6.3" fill="#2296B2"/><rect x="462.4" y="251.8" width="6.3" height="6.3" fill="#2865A6"/><rect x="468.3" y="251.8" width="6.3" height="6.3" fill="#2865A6"/><rect x="474.3" y="251.8" width="6.3" height="6.3" fill="#2865A6"/><rect x="480.3" y="251.8" width="6.3" height="6.3" fill="#2865A6"/><rect x="486.2" y="251.8" width="6.3" height="6.3" fill="#2E5A9E"/><rect x="492.2" y="251.8" width="6.3" height="6.3" fill="#1E3A8E"/><rect x="498.2" y="251.8" width="6.3" height="6.3" fill="#2865A6"/><rect x="504.1" y="251.8" width="6.3" height="6.3" fill="#2865A6"/><rect x="510.1" y="251.8" width="6.3" height="6.3" fill="#1E3A8E"/><rect x="516.1" y="251.8" width="6.3" height="6.3" fill="#1E3A8E"/><rect x="522.0" y="251.8" width="6.3" height="6.3" fill="#2865A6"/><rect x="343.0" y="257.8" width="6.3" height="6.3" fill="#1E3A8E"/><rect x="349.0" y="257.8" width="6.3" height="6.3" fill="#2E5A9E"/><rect x="354.9" y="257.8" width="6.3" height="6.3" fill="#1E3A8E"/><rect x="360.9" y="257.8" width="6.3" height="6.3" fill="#2865A6"/><rect x="366.9" y="257.8" width="6.3" height="6.3" fill="#2865A6"/><rect x="372.8" y="257.8" width="6.3" height="6.3" fill="#1E3A8E"/><rect x="378.8" y="257.8" width="6.3" height="6.3" fill="#2E5A9E"/><rect x="384.8" y="257.8" width="6.3" height="6.3" fill="#2E5A9E"/><rect x="390.7" y="257.8" width="6.3" height="6.3" fill="#2296B2"/><rect x="396.7" y="257.8" width="6.3" height="6.3" fill="#1E3A8E"/><rect x="402.7" y="257.8" width="6.3" height="6.3" fill="#1E3A8E"/><rect x="408.6" y="257.8" width="6.3" height="6.3" fill="#1E3A8E"/><rect x="414.6" y="257.8" width="6.3" height="6.3" fill="#1E3A8E"/><rect x="420.6" y="257.8" width="6.3" height="6.3" fill="#1E3A8E"/><rect x="426.5" y="257.8" width="6.3" height="6.3" fill="#2865A6"/><rect x="432.5" y="257.8" width="6.3" height="6.3" fill="#2865A6"/><rect x="438.5" y="257.8" width="6.3" height="6.3" fill="#2865A6"/><rect x="444.5" y="257.8" width="6.3" height="6.3" fill="#1E3A8E"/><rect x="450.4" y="257.8" width="6.3" height="6.3" fill="#2865A6"/><rect x="456.4" y="257.8" width="6.3" height="6.3" fill="#2865A6"/><rect x="462.4" y="257.8" width="6.3" height="6.3" fill="#2865A6"/><rect x="468.3" y="257.8" width="6.3" height="6.3" fill="#2865A6"/><rect x="474.3" y="257.8" width="6.3" height="6.3" fill="#2865A6"/><rect x="480.3" y="257.8" width="6.3" height="6.3" fill="#2865A6"/><rect x="486.2" y="257.8" width="6.3" height="6.3" fill="#1E3A8E"/><rect x="492.2" y="257.8" width="6.3" height="6.3" fill="#2865A6"/><rect x="498.2" y="257.8" width="6.3" height="6.3" fill="#2865A6"/><rect x="504.1" y="257.8" width="6.3" height="6.3" fill="#1E3A8E"/><rect x="510.1" y="257.8" width="6.3" height="6.3" fill="#2E5A9E"/><rect x="516.1" y="257.8" width="6.3" height="6.3" fill="#2865A6"/><rect x="522.0" y="257.8" width="6.3" height="6.3" fill="#2865A6"/><rect x="343.0" y="263.9" width="6.3" height="6.3" fill="#2865A6"/><rect x="349.0" y="263.9" width="6.3" height="6.3" fill="#2296B2"/><rect x="354.9" y="263.9" width="6.3" height="6.3" fill="#1E3A8E"/><rect x="360.9" y="263.9" width="6.3" height="6.3" fill="#2865A6"/><rect x="366.9" y="263.9" width="6.3" height="6.3" fill="#2865A6"/><rect x="372.8" y="263.9" width="6.3" height="6.3" fill="#2E5A9E"/><rect x="378.8" y="263.9" width="6.3" height="6.3" fill="#2296B2"/><rect x="384.8" y="263.9" width="6.3" height="6.3" fill="#2E5A9E"/><rect x="390.7" y="263.9" width="6.3" height="6.3" fill="#1E3A8E"/><rect x="396.7" y="263.9" width="6.3" height="6.3" fill="#2865A6"/><rect x="402.7" y="263.9" width="6.3" height="6.3" fill="#2865A6"/><rect x="408.6" y="263.9" width="6.3" height="6.3" fill="#2865A6"/><rect x="414.6" y="263.9" width="6.3" height="6.3" fill="#2865A6"/><rect x="420.6" y="263.9" width="6.3" height="6.3" fill="#2865A6"/><rect x="426.5" y="263.9" width="6.3" height="6.3" fill="#2296B2"/><rect x="432.5" y="263.9" width="6.3" height="6.3" fill="#2865A6"/><rect x="438.5" y="263.9" width="6.3" height="6.3" fill="#2865A6"/><rect x="444.5" y="263.9" width="6.3" height="6.3" fill="#2865A6"/><rect x="450.4" y="263.9" width="6.3" height="6.3" fill="#2865A6"/><rect x="456.4" y="263.9" width="6.3" height="6.3" fill="#2865A6"/><rect x="462.4" y="263.9" width="6.3" height="6.3" fill="#1E3A8E"/><rect x="468.3" y="263.9" width="6.3" height="6.3" fill="#2296B2"/><rect x="474.3" y="263.9" width="6.3" height="6.3" fill="#1E3A8E"/><rect x="480.3" y="263.9" width="6.3" height="6.3" fill="#2865A6"/><rect x="486.2" y="263.9" width="6.3" height="6.3" fill="#1E3A8E"/><rect x="492.2" y="263.9" width="6.3" height="6.3" fill="#2865A6"/><rect x="498.2" y="263.9" width="6.3" height="6.3" fill="#1E3A8E"/><rect x="504.1" y="263.9" width="6.3" height="6.3" fill="#1E3A8E"/><rect x="510.1" y="263.9" width="6.3" height="6.3" fill="#2296B2"/><rect x="516.1" y="263.9" width="6.3" height="6.3" fill="#2296B2"/><rect x="522.0" y="263.9" width="6.3" height="6.3" fill="#2865A6"/><rect x="343.0" y="269.9" width="6.3" height="6.3" fill="#2865A6"/><rect x="349.0" y="269.9" width="6.3" height="6.3" fill="#2865A6"/><rect x="354.9" y="269.9" width="6.3" height="6.3" fill="#2865A6"/><rect x="360.9" y="269.9" width="6.3" height="6.3" fill="#2865A6"/><rect x="366.9" y="269.9" width="6.3" height="6.3" fill="#2865A6"/><rect x="372.8" y="269.9" width="6.3" height="6.3" fill="#2865A6"/><rect x="378.8" y="269.9" width="6.3" height="6.3" fill="#2E5A9E"/><rect x="384.8" y="269.9" width="6.3" height="6.3" fill="#2865A6"/><rect x="390.7" y="269.9" width="6.3" height="6.3" fill="#2865A6"/><rect x="396.7" y="269.9" width="6.3" height="6.3" fill="#2865A6"/><rect x="402.7" y="269.9" width="6.3" height="6.3" fill="#2865A6"/><rect x="408.6" y="269.9" width="6.3" height="6.3" fill="#2865A6"/><rect x="414.6" y="269.9" width="6.3" height="6.3" fill="#2865A6"/><rect x="420.6" y="269.9" width="6.3" height="6.3" fill="#2865A6"/><rect x="426.5" y="269.9" width="6.3" height="6.3" fill="#2E5A9E"/><rect x="432.5" y="269.9" width="6.3" height="6.3" fill="#2865A6"/><rect x="438.5" y="269.9" width="6.3" height="6.3" fill="#2865A6"/><rect x="444.5" y="269.9" width="6.3" height="6.3" fill="#2296B2"/><rect x="450.4" y="269.9" width="6.3" height="6.3" fill="#2865A6"/><rect x="456.4" y="269.9" width="6.3" height="6.3" fill="#1E3A8E"/><rect x="462.4" y="269.9" width="6.3" height="6.3" fill="#2865A6"/><rect x="468.3" y="269.9" width="6.3" height="6.3" fill="#2865A6"/><rect x="474.3" y="269.9" width="6.3" height="6.3" fill="#1E3A8E"/><rect x="480.3" y="269.9" width="6.3" height="6.3" fill="#1E3A8E"/><rect x="486.2" y="269.9" width="6.3" height="6.3" fill="#2865A6"/><rect x="492.2" y="269.9" width="6.3" height="6.3" fill="#2865A6"/><rect x="498.2" y="269.9" width="6.3" height="6.3" fill="#2865A6"/><rect x="504.1" y="269.9" width="6.3" height="6.3" fill="#2865A6"/><rect x="510.1" y="269.9" width="6.3" height="6.3" fill="#2E5A9E"/><rect x="516.1" y="269.9" width="6.3" height="6.3" fill="#2865A6"/><rect x="522.0" y="269.9" width="6.3" height="6.3" fill="#1E3A8E"/><rect x="343.0" y="276.0" width="6.3" height="6.3" fill="#2865A6"/><rect x="349.0" y="276.0" width="6.3" height="6.3" fill="#2865A6"/><rect x="354.9" y="276.0" width="6.3" height="6.3" fill="#2865A6"/><rect x="360.9" y="276.0" width="6.3" height="6.3" fill="#2E5A9E"/><rect x="366.9" y="276.0" width="6.3" height="6.3" fill="#2865A6"/><rect x="372.8" y="276.0" width="6.3" height="6.3" fill="#2865A6"/><rect x="378.8" y="276.0" width="6.3" height="6.3" fill="#2865A6"/><rect x="384.8" y="276.0" width="6.3" height="6.3" fill="#2865A6"/><rect x="390.7" y="276.0" width="6.3" height="6.3" fill="#1E3A8E"/><rect x="396.7" y="276.0" width="6.3" height="6.3" fill="#1E3A8E"/><rect x="402.7" y="276.0" width="6.3" height="6.3" fill="#2865A6"/><rect x="408.6" y="276.0" width="6.3" height="6.3" fill="#2865A6"/><rect x="414.6" y="276.0" width="6.3" height="6.3" fill="#2865A6"/><rect x="420.6" y="276.0" width="6.3" height="6.3" fill="#2865A6"/><rect x="426.5" y="276.0" width="6.3" height="6.3" fill="#2865A6"/><rect x="432.5" y="276.0" width="6.3" height="6.3" fill="#2865A6"/><rect x="438.5" y="276.0" width="6.3" height="6.3" fill="#2865A6"/><rect x="444.5" y="276.0" width="6.3" height="6.3" fill="#2865A6"/><rect x="450.4" y="276.0" width="6.3" height="6.3" fill="#2865A6"/><rect x="456.4" y="276.0" width="6.3" height="6.3" fill="#2865A6"/><rect x="462.4" y="276.0" width="6.3" height="6.3" fill="#2865A6"/><rect x="468.3" y="276.0" width="6.3" height="6.3" fill="#2E5A9E"/><rect x="474.3" y="276.0" width="6.3" height="6.3" fill="#2865A6"/><rect x="480.3" y="276.0" width="6.3" height="6.3" fill="#2865A6"/><rect x="486.2" y="276.0" width="6.3" height="6.3" fill="#2865A6"/><rect x="492.2" y="276.0" width="6.3" height="6.3" fill="#1E3A8E"/><rect x="498.2" y="276.0" width="6.3" height="6.3" fill="#1E3A8E"/><rect x="504.1" y="276.0" width="6.3" height="6.3" fill="#2865A6"/><rect x="510.1" y="276.0" width="6.3" height="6.3" fill="#2296B2"/><rect x="516.1" y="276.0" width="6.3" height="6.3" fill="#1E3A8E"/><rect x="522.0" y="276.0" width="6.3" height="6.3" fill="#2296B2"/></g>
<clipPath id="BR_west"><polygon points="217.5,182.8 229.8,170.5 242,182.8 249,195 258,207 268,219.5 294.5,219.5 298,212.5 319,219.5 319,244 312,244 312,261.5 317.3,261.5 317.3,277.3 308.5,279 305,289.6 287.5,286 278.8,279 268.3,268.5 268.3,247.5 263,244 263,234 245,236 238.5,240.5 217.5,240.5"/></clipPath>
<g clip-path="url(#BR_west)"><rect x="218.0" y="170.0" width="6.2" height="6.4" fill="#2865A6"/><rect x="223.9" y="170.0" width="6.2" height="6.4" fill="#2865A6"/><rect x="229.8" y="170.0" width="6.2" height="6.4" fill="#2865A6"/><rect x="235.6" y="170.0" width="6.2" height="6.4" fill="#2865A6"/><rect x="241.5" y="170.0" width="6.2" height="6.4" fill="#2865A6"/><rect x="247.4" y="170.0" width="6.2" height="6.4" fill="#2E5A9E"/><rect x="253.3" y="170.0" width="6.2" height="6.4" fill="#2865A6"/><rect x="259.2" y="170.0" width="6.2" height="6.4" fill="#2865A6"/><rect x="265.1" y="170.0" width="6.2" height="6.4" fill="#2865A6"/><rect x="270.9" y="170.0" width="6.2" height="6.4" fill="#2865A6"/><rect x="276.8" y="170.0" width="6.2" height="6.4" fill="#2296B2"/><rect x="282.7" y="170.0" width="6.2" height="6.4" fill="#2865A6"/><rect x="288.6" y="170.0" width="6.2" height="6.4" fill="#2865A6"/><rect x="294.5" y="170.0" width="6.2" height="6.4" fill="#2296B2"/><rect x="300.4" y="170.0" width="6.2" height="6.4" fill="#2E5A9E"/><rect x="306.2" y="170.0" width="6.2" height="6.4" fill="#2865A6"/><rect x="312.1" y="170.0" width="6.2" height="6.4" fill="#2865A6"/><rect x="218.0" y="176.1" width="6.2" height="6.4" fill="#2296B2"/><rect x="223.9" y="176.1" width="6.2" height="6.4" fill="#2865A6"/><rect x="229.8" y="176.1" width="6.2" height="6.4" fill="#2296B2"/><rect x="235.6" y="176.1" width="6.2" height="6.4" fill="#2865A6"/><rect x="241.5" y="176.1" width="6.2" height="6.4" fill="#2E5A9E"/><rect x="247.4" y="176.1" width="6.2" height="6.4" fill="#2865A6"/><rect x="253.3" y="176.1" width="6.2" height="6.4" fill="#2865A6"/><rect x="259.2" y="176.1" width="6.2" height="6.4" fill="#2865A6"/><rect x="265.1" y="176.1" width="6.2" height="6.4" fill="#2E5A9E"/><rect x="270.9" y="176.1" width="6.2" height="6.4" fill="#2865A6"/><rect x="276.8" y="176.1" width="6.2" height="6.4" fill="#2865A6"/><rect x="282.7" y="176.1" width="6.2" height="6.4" fill="#2865A6"/><rect x="288.6" y="176.1" width="6.2" height="6.4" fill="#2865A6"/><rect x="294.5" y="176.1" width="6.2" height="6.4" fill="#2296B2"/><rect x="300.4" y="176.1" width="6.2" height="6.4" fill="#2865A6"/><rect x="306.2" y="176.1" width="6.2" height="6.4" fill="#2865A6"/><rect x="312.1" y="176.1" width="6.2" height="6.4" fill="#2E5A9E"/><rect x="218.0" y="182.2" width="6.2" height="6.4" fill="#2865A6"/><rect x="223.9" y="182.2" width="6.2" height="6.4" fill="#1E3A8E"/><rect x="229.8" y="182.2" width="6.2" height="6.4" fill="#2865A6"/><rect x="235.6" y="182.2" width="6.2" height="6.4" fill="#2865A6"/><rect x="241.5" y="182.2" width="6.2" height="6.4" fill="#2296B2"/><rect x="247.4" y="182.2" width="6.2" height="6.4" fill="#2865A6"/><rect x="253.3" y="182.2" width="6.2" height="6.4" fill="#2865A6"/><rect x="259.2" y="182.2" width="6.2" height="6.4" fill="#2865A6"/><rect x="265.1" y="182.2" width="6.2" height="6.4" fill="#2E5A9E"/><rect x="270.9" y="182.2" width="6.2" height="6.4" fill="#2865A6"/><rect x="276.8" y="182.2" width="6.2" height="6.4" fill="#2E5A9E"/><rect x="282.7" y="182.2" width="6.2" height="6.4" fill="#2865A6"/><rect x="288.6" y="182.2" width="6.2" height="6.4" fill="#2296B2"/><rect x="294.5" y="182.2" width="6.2" height="6.4" fill="#2865A6"/><rect x="300.4" y="182.2" width="6.2" height="6.4" fill="#2865A6"/><rect x="306.2" y="182.2" width="6.2" height="6.4" fill="#2865A6"/><rect x="312.1" y="182.2" width="6.2" height="6.4" fill="#2865A6"/><rect x="218.0" y="188.3" width="6.2" height="6.4" fill="#2865A6"/><rect x="223.9" y="188.3" width="6.2" height="6.4" fill="#2865A6"/><rect x="229.8" y="188.3" width="6.2" height="6.4" fill="#2865A6"/><rect x="235.6" y="188.3" width="6.2" height="6.4" fill="#2865A6"/><rect x="241.5" y="188.3" width="6.2" height="6.4" fill="#2865A6"/><rect x="247.4" y="188.3" width="6.2" height="6.4" fill="#1E3A8E"/><rect x="253.3" y="188.3" width="6.2" height="6.4" fill="#2865A6"/><rect x="259.2" y="188.3" width="6.2" height="6.4" fill="#1E3A8E"/><rect x="265.1" y="188.3" width="6.2" height="6.4" fill="#2865A6"/><rect x="270.9" y="188.3" width="6.2" height="6.4" fill="#2E5A9E"/><rect x="276.8" y="188.3" width="6.2" height="6.4" fill="#2865A6"/><rect x="282.7" y="188.3" width="6.2" height="6.4" fill="#2865A6"/><rect x="288.6" y="188.3" width="6.2" height="6.4" fill="#2E5A9E"/><rect x="294.5" y="188.3" width="6.2" height="6.4" fill="#2865A6"/><rect x="300.4" y="188.3" width="6.2" height="6.4" fill="#2865A6"/><rect x="306.2" y="188.3" width="6.2" height="6.4" fill="#2865A6"/><rect x="312.1" y="188.3" width="6.2" height="6.4" fill="#2865A6"/><rect x="218.0" y="194.4" width="6.2" height="6.4" fill="#2865A6"/><rect x="223.9" y="194.4" width="6.2" height="6.4" fill="#2865A6"/><rect x="229.8" y="194.4" width="6.2" height="6.4" fill="#2296B2"/><rect x="235.6" y="194.4" width="6.2" height="6.4" fill="#2865A6"/><rect x="241.5" y="194.4" width="6.2" height="6.4" fill="#2865A6"/><rect x="247.4" y="194.4" width="6.2" height="6.4" fill="#1E3A8E"/><rect x="253.3" y="194.4" width="6.2" height="6.4" fill="#2865A6"/><rect x="259.2" y="194.4" width="6.2" height="6.4" fill="#2865A6"/><rect x="265.1" y="194.4" width="6.2" height="6.4" fill="#2865A6"/><rect x="270.9" y="194.4" width="6.2" height="6.4" fill="#2E5A9E"/><rect x="276.8" y="194.4" width="6.2" height="6.4" fill="#2865A6"/><rect x="282.7" y="194.4" width="6.2" height="6.4" fill="#2296B2"/><rect x="288.6" y="194.4" width="6.2" height="6.4" fill="#2296B2"/><rect x="294.5" y="194.4" width="6.2" height="6.4" fill="#2865A6"/><rect x="300.4" y="194.4" width="6.2" height="6.4" fill="#2865A6"/><rect x="306.2" y="194.4" width="6.2" height="6.4" fill="#2E5A9E"/><rect x="312.1" y="194.4" width="6.2" height="6.4" fill="#2E5A9E"/><rect x="218.0" y="200.5" width="6.2" height="6.4" fill="#2865A6"/><rect x="223.9" y="200.5" width="6.2" height="6.4" fill="#2865A6"/><rect x="229.8" y="200.5" width="6.2" height="6.4" fill="#2296B2"/><rect x="235.6" y="200.5" width="6.2" height="6.4" fill="#2296B2"/><rect x="241.5" y="200.5" width="6.2" height="6.4" fill="#2865A6"/><rect x="247.4" y="200.5" width="6.2" height="6.4" fill="#2865A6"/><rect x="253.3" y="200.5" width="6.2" height="6.4" fill="#1E3A8E"/><rect x="259.2" y="200.5" width="6.2" height="6.4" fill="#1E3A8E"/><rect x="265.1" y="200.5" width="6.2" height="6.4" fill="#2865A6"/><rect x="270.9" y="200.5" width="6.2" height="6.4" fill="#2865A6"/><rect x="276.8" y="200.5" width="6.2" height="6.4" fill="#2296B2"/><rect x="282.7" y="200.5" width="6.2" height="6.4" fill="#2865A6"/><rect x="288.6" y="200.5" width="6.2" height="6.4" fill="#2865A6"/><rect x="294.5" y="200.5" width="6.2" height="6.4" fill="#2865A6"/><rect x="300.4" y="200.5" width="6.2" height="6.4" fill="#2865A6"/><rect x="306.2" y="200.5" width="6.2" height="6.4" fill="#2865A6"/><rect x="312.1" y="200.5" width="6.2" height="6.4" fill="#2865A6"/><rect x="218.0" y="206.6" width="6.2" height="6.4" fill="#2E5A9E"/><rect x="223.9" y="206.6" width="6.2" height="6.4" fill="#2865A6"/><rect x="229.8" y="206.6" width="6.2" height="6.4" fill="#2865A6"/><rect x="235.6" y="206.6" width="6.2" height="6.4" fill="#2865A6"/><rect x="241.5" y="206.6" width="6.2" height="6.4" fill="#2865A6"/><rect x="247.4" y="206.6" width="6.2" height="6.4" fill="#2865A6"/><rect x="253.3" y="206.6" width="6.2" height="6.4" fill="#1E3A8E"/><rect x="259.2" y="206.6" width="6.2" height="6.4" fill="#2865A6"/><rect x="265.1" y="206.6" width="6.2" height="6.4" fill="#2E5A9E"/><rect x="270.9" y="206.6" width="6.2" height="6.4" fill="#1E3A8E"/><rect x="276.8" y="206.6" width="6.2" height="6.4" fill="#2865A6"/><rect x="282.7" y="206.6" width="6.2" height="6.4" fill="#2865A6"/><rect x="288.6" y="206.6" width="6.2" height="6.4" fill="#1E3A8E"/><rect x="294.5" y="206.6" width="6.2" height="6.4" fill="#2865A6"/><rect x="300.4" y="206.6" width="6.2" height="6.4" fill="#2865A6"/><rect x="306.2" y="206.6" width="6.2" height="6.4" fill="#2865A6"/><rect x="312.1" y="206.6" width="6.2" height="6.4" fill="#2865A6"/><rect x="218.0" y="212.7" width="6.2" height="6.4" fill="#2296B2"/><rect x="223.9" y="212.7" width="6.2" height="6.4" fill="#2865A6"/><rect x="229.8" y="212.7" width="6.2" height="6.4" fill="#2865A6"/><rect x="235.6" y="212.7" width="6.2" height="6.4" fill="#2865A6"/><rect x="241.5" y="212.7" width="6.2" height="6.4" fill="#2E5A9E"/><rect x="247.4" y="212.7" width="6.2" height="6.4" fill="#2865A6"/><rect x="253.3" y="212.7" width="6.2" height="6.4" fill="#1E3A8E"/><rect x="259.2" y="212.7" width="6.2" height="6.4" fill="#2865A6"/><rect x="265.1" y="212.7" width="6.2" height="6.4" fill="#2865A6"/><rect x="270.9" y="212.7" width="6.2" height="6.4" fill="#2865A6"/><rect x="276.8" y="212.7" width="6.2" height="6.4" fill="#2865A6"/><rect x="282.7" y="212.7" width="6.2" height="6.4" fill="#2865A6"/><rect x="288.6" y="212.7" width="6.2" height="6.4" fill="#2865A6"/><rect x="294.5" y="212.7" width="6.2" height="6.4" fill="#2296B2"/><rect x="300.4" y="212.7" width="6.2" height="6.4" fill="#2865A6"/><rect x="306.2" y="212.7" width="6.2" height="6.4" fill="#1E3A8E"/><rect x="312.1" y="212.7" width="6.2" height="6.4" fill="#2865A6"/><rect x="218.0" y="218.8" width="6.2" height="6.4" fill="#2865A6"/><rect x="223.9" y="218.8" width="6.2" height="6.4" fill="#1E3A8E"/><rect x="229.8" y="218.8" width="6.2" height="6.4" fill="#2865A6"/><rect x="235.6" y="218.8" width="6.2" height="6.4" fill="#2865A6"/><rect x="241.5" y="218.8" width="6.2" height="6.4" fill="#2865A6"/><rect x="247.4" y="218.8" width="6.2" height="6.4" fill="#2865A6"/><rect x="253.3" y="218.8" width="6.2" height="6.4" fill="#2E5A9E"/><rect x="259.2" y="218.8" width="6.2" height="6.4" fill="#2865A6"/><rect x="265.1" y="218.8" width="6.2" height="6.4" fill="#2E5A9E"/><rect x="270.9" y="218.8" width="6.2" height="6.4" fill="#2865A6"/><rect x="276.8" y="218.8" width="6.2" height="6.4" fill="#2865A6"/><rect x="282.7" y="218.8" width="6.2" height="6.4" fill="#2E5A9E"/><rect x="288.6" y="218.8" width="6.2" height="6.4" fill="#2865A6"/><rect x="294.5" y="218.8" width="6.2" height="6.4" fill="#2865A6"/><rect x="300.4" y="218.8" width="6.2" height="6.4" fill="#2296B2"/><rect x="306.2" y="218.8" width="6.2" height="6.4" fill="#2865A6"/><rect x="312.1" y="218.8" width="6.2" height="6.4" fill="#2865A6"/><rect x="218.0" y="224.9" width="6.2" height="6.4" fill="#2865A6"/><rect x="223.9" y="224.9" width="6.2" height="6.4" fill="#2865A6"/><rect x="229.8" y="224.9" width="6.2" height="6.4" fill="#2865A6"/><rect x="235.6" y="224.9" width="6.2" height="6.4" fill="#2296B2"/><rect x="241.5" y="224.9" width="6.2" height="6.4" fill="#2865A6"/><rect x="247.4" y="224.9" width="6.2" height="6.4" fill="#2865A6"/><rect x="253.3" y="224.9" width="6.2" height="6.4" fill="#2865A6"/><rect x="259.2" y="224.9" width="6.2" height="6.4" fill="#2865A6"/><rect x="265.1" y="224.9" width="6.2" height="6.4" fill="#2865A6"/><rect x="270.9" y="224.9" width="6.2" height="6.4" fill="#2865A6"/><rect x="276.8" y="224.9" width="6.2" height="6.4" fill="#2296B2"/><rect x="282.7" y="224.9" width="6.2" height="6.4" fill="#2865A6"/><rect x="288.6" y="224.9" width="6.2" height="6.4" fill="#2865A6"/><rect x="294.5" y="224.9" width="6.2" height="6.4" fill="#2865A6"/><rect x="300.4" y="224.9" width="6.2" height="6.4" fill="#2865A6"/><rect x="306.2" y="224.9" width="6.2" height="6.4" fill="#2865A6"/><rect x="312.1" y="224.9" width="6.2" height="6.4" fill="#2865A6"/><rect x="218.0" y="231.0" width="6.2" height="6.4" fill="#2865A6"/><rect x="223.9" y="231.0" width="6.2" height="6.4" fill="#2865A6"/><rect x="229.8" y="231.0" width="6.2" height="6.4" fill="#2296B2"/><rect x="235.6" y="231.0" width="6.2" height="6.4" fill="#2865A6"/><rect x="241.5" y="231.0" width="6.2" height="6.4" fill="#2865A6"/><rect x="247.4" y="231.0" width="6.2" height="6.4" fill="#2865A6"/><rect x="253.3" y="231.0" width="6.2" height="6.4" fill="#2865A6"/><rect x="259.2" y="231.0" width="6.2" height="6.4" fill="#2865A6"/><rect x="265.1" y="231.0" width="6.2" height="6.4" fill="#2865A6"/><rect x="270.9" y="231.0" width="6.2" height="6.4" fill="#2296B2"/><rect x="276.8" y="231.0" width="6.2" height="6.4" fill="#2296B2"/><rect x="282.7" y="231.0" width="6.2" height="6.4" fill="#2865A6"/><rect x="288.6" y="231.0" width="6.2" height="6.4" fill="#2865A6"/><rect x="294.5" y="231.0" width="6.2" height="6.4" fill="#2865A6"/><rect x="300.4" y="231.0" width="6.2" height="6.4" fill="#2865A6"/><rect x="306.2" y="231.0" width="6.2" height="6.4" fill="#2865A6"/><rect x="312.1" y="231.0" width="6.2" height="6.4" fill="#1E3A8E"/><rect x="218.0" y="237.1" width="6.2" height="6.4" fill="#2E5A9E"/><rect x="223.9" y="237.1" width="6.2" height="6.4" fill="#2865A6"/><rect x="229.8" y="237.1" width="6.2" height="6.4" fill="#2296B2"/><rect x="235.6" y="237.1" width="6.2" height="6.4" fill="#2865A6"/><rect x="241.5" y="237.1" width="6.2" height="6.4" fill="#2E5A9E"/><rect x="247.4" y="237.1" width="6.2" height="6.4" fill="#2865A6"/><rect x="253.3" y="237.1" width="6.2" height="6.4" fill="#2865A6"/><rect x="259.2" y="237.1" width="6.2" height="6.4" fill="#2865A6"/><rect x="265.1" y="237.1" width="6.2" height="6.4" fill="#2865A6"/><rect x="270.9" y="237.1" width="6.2" height="6.4" fill="#2865A6"/><rect x="276.8" y="237.1" width="6.2" height="6.4" fill="#1E3A8E"/><rect x="282.7" y="237.1" width="6.2" height="6.4" fill="#2865A6"/><rect x="288.6" y="237.1" width="6.2" height="6.4" fill="#2865A6"/><rect x="294.5" y="237.1" width="6.2" height="6.4" fill="#2865A6"/><rect x="300.4" y="237.1" width="6.2" height="6.4" fill="#2E5A9E"/><rect x="306.2" y="237.1" width="6.2" height="6.4" fill="#2296B2"/><rect x="312.1" y="237.1" width="6.2" height="6.4" fill="#2865A6"/><rect x="218.0" y="243.2" width="6.2" height="6.4" fill="#2865A6"/><rect x="223.9" y="243.2" width="6.2" height="6.4" fill="#2865A6"/><rect x="229.8" y="243.2" width="6.2" height="6.4" fill="#2E5A9E"/><rect x="235.6" y="243.2" width="6.2" height="6.4" fill="#2865A6"/><rect x="241.5" y="243.2" width="6.2" height="6.4" fill="#2296B2"/><rect x="247.4" y="243.2" width="6.2" height="6.4" fill="#2865A6"/><rect x="253.3" y="243.2" width="6.2" height="6.4" fill="#2865A6"/><rect x="259.2" y="243.2" width="6.2" height="6.4" fill="#2296B2"/><rect x="265.1" y="243.2" width="6.2" height="6.4" fill="#2865A6"/><rect x="270.9" y="243.2" width="6.2" height="6.4" fill="#2E5A9E"/><rect x="276.8" y="243.2" width="6.2" height="6.4" fill="#2865A6"/><rect x="282.7" y="243.2" width="6.2" height="6.4" fill="#2865A6"/><rect x="288.6" y="243.2" width="6.2" height="6.4" fill="#2865A6"/><rect x="294.5" y="243.2" width="6.2" height="6.4" fill="#2865A6"/><rect x="300.4" y="243.2" width="6.2" height="6.4" fill="#2865A6"/><rect x="306.2" y="243.2" width="6.2" height="6.4" fill="#2865A6"/><rect x="312.1" y="243.2" width="6.2" height="6.4" fill="#2E5A9E"/><rect x="218.0" y="249.3" width="6.2" height="6.4" fill="#2865A6"/><rect x="223.9" y="249.3" width="6.2" height="6.4" fill="#2865A6"/><rect x="229.8" y="249.3" width="6.2" height="6.4" fill="#2865A6"/><rect x="235.6" y="249.3" width="6.2" height="6.4" fill="#2865A6"/><rect x="241.5" y="249.3" width="6.2" height="6.4" fill="#1E3A8E"/><rect x="247.4" y="249.3" width="6.2" height="6.4" fill="#2865A6"/><rect x="253.3" y="249.3" width="6.2" height="6.4" fill="#2865A6"/><rect x="259.2" y="249.3" width="6.2" height="6.4" fill="#2865A6"/><rect x="265.1" y="249.3" width="6.2" height="6.4" fill="#2865A6"/><rect x="270.9" y="249.3" width="6.2" height="6.4" fill="#2865A6"/><rect x="276.8" y="249.3" width="6.2" height="6.4" fill="#2865A6"/><rect x="282.7" y="249.3" width="6.2" height="6.4" fill="#2865A6"/><rect x="288.6" y="249.3" width="6.2" height="6.4" fill="#1E3A8E"/><rect x="294.5" y="249.3" width="6.2" height="6.4" fill="#2296B2"/><rect x="300.4" y="249.3" width="6.2" height="6.4" fill="#2E5A9E"/><rect x="306.2" y="249.3" width="6.2" height="6.4" fill="#2865A6"/><rect x="312.1" y="249.3" width="6.2" height="6.4" fill="#2E5A9E"/><rect x="218.0" y="255.4" width="6.2" height="6.4" fill="#2865A6"/><rect x="223.9" y="255.4" width="6.2" height="6.4" fill="#2E5A9E"/><rect x="229.8" y="255.4" width="6.2" height="6.4" fill="#1E3A8E"/><rect x="235.6" y="255.4" width="6.2" height="6.4" fill="#2865A6"/><rect x="241.5" y="255.4" width="6.2" height="6.4" fill="#2865A6"/><rect x="247.4" y="255.4" width="6.2" height="6.4" fill="#2865A6"/><rect x="253.3" y="255.4" width="6.2" height="6.4" fill="#2865A6"/><rect x="259.2" y="255.4" width="6.2" height="6.4" fill="#2296B2"/><rect x="265.1" y="255.4" width="6.2" height="6.4" fill="#2865A6"/><rect x="270.9" y="255.4" width="6.2" height="6.4" fill="#2865A6"/><rect x="276.8" y="255.4" width="6.2" height="6.4" fill="#1E3A8E"/><rect x="282.7" y="255.4" width="6.2" height="6.4" fill="#2865A6"/><rect x="288.6" y="255.4" width="6.2" height="6.4" fill="#2865A6"/><rect x="294.5" y="255.4" width="6.2" height="6.4" fill="#2865A6"/><rect x="300.4" y="255.4" width="6.2" height="6.4" fill="#2865A6"/><rect x="306.2" y="255.4" width="6.2" height="6.4" fill="#2865A6"/><rect x="312.1" y="255.4" width="6.2" height="6.4" fill="#2296B2"/><rect x="218.0" y="261.5" width="6.2" height="6.4" fill="#2865A6"/><rect x="223.9" y="261.5" width="6.2" height="6.4" fill="#2865A6"/><rect x="229.8" y="261.5" width="6.2" height="6.4" fill="#2865A6"/><rect x="235.6" y="261.5" width="6.2" height="6.4" fill="#2865A6"/><rect x="241.5" y="261.5" width="6.2" height="6.4" fill="#2E5A9E"/><rect x="247.4" y="261.5" width="6.2" height="6.4" fill="#2865A6"/><rect x="253.3" y="261.5" width="6.2" height="6.4" fill="#1E3A8E"/><rect x="259.2" y="261.5" width="6.2" height="6.4" fill="#2865A6"/><rect x="265.1" y="261.5" width="6.2" height="6.4" fill="#2865A6"/><rect x="270.9" y="261.5" width="6.2" height="6.4" fill="#1E3A8E"/><rect x="276.8" y="261.5" width="6.2" height="6.4" fill="#2865A6"/><rect x="282.7" y="261.5" width="6.2" height="6.4" fill="#2865A6"/><rect x="288.6" y="261.5" width="6.2" height="6.4" fill="#2865A6"/><rect x="294.5" y="261.5" width="6.2" height="6.4" fill="#2296B2"/><rect x="300.4" y="261.5" width="6.2" height="6.4" fill="#2865A6"/><rect x="306.2" y="261.5" width="6.2" height="6.4" fill="#2865A6"/><rect x="312.1" y="261.5" width="6.2" height="6.4" fill="#1E3A8E"/><rect x="218.0" y="267.6" width="6.2" height="6.4" fill="#2865A6"/><rect x="223.9" y="267.6" width="6.2" height="6.4" fill="#2865A6"/><rect x="229.8" y="267.6" width="6.2" height="6.4" fill="#2865A6"/><rect x="235.6" y="267.6" width="6.2" height="6.4" fill="#2865A6"/><rect x="241.5" y="267.6" width="6.2" height="6.4" fill="#2296B2"/><rect x="247.4" y="267.6" width="6.2" height="6.4" fill="#2865A6"/><rect x="253.3" y="267.6" width="6.2" height="6.4" fill="#1E3A8E"/><rect x="259.2" y="267.6" width="6.2" height="6.4" fill="#2865A6"/><rect x="265.1" y="267.6" width="6.2" height="6.4" fill="#2865A6"/><rect x="270.9" y="267.6" width="6.2" height="6.4" fill="#2296B2"/><rect x="276.8" y="267.6" width="6.2" height="6.4" fill="#2865A6"/><rect x="282.7" y="267.6" width="6.2" height="6.4" fill="#2865A6"/><rect x="288.6" y="267.6" width="6.2" height="6.4" fill="#2865A6"/><rect x="294.5" y="267.6" width="6.2" height="6.4" fill="#1E3A8E"/><rect x="300.4" y="267.6" width="6.2" height="6.4" fill="#2E5A9E"/><rect x="306.2" y="267.6" width="6.2" height="6.4" fill="#2296B2"/><rect x="312.1" y="267.6" width="6.2" height="6.4" fill="#2296B2"/><rect x="218.0" y="273.7" width="6.2" height="6.4" fill="#1E3A8E"/><rect x="223.9" y="273.7" width="6.2" height="6.4" fill="#2865A6"/><rect x="229.8" y="273.7" width="6.2" height="6.4" fill="#2865A6"/><rect x="235.6" y="273.7" width="6.2" height="6.4" fill="#2865A6"/><rect x="241.5" y="273.7" width="6.2" height="6.4" fill="#2865A6"/><rect x="247.4" y="273.7" width="6.2" height="6.4" fill="#2E5A9E"/><rect x="253.3" y="273.7" width="6.2" height="6.4" fill="#2296B2"/><rect x="259.2" y="273.7" width="6.2" height="6.4" fill="#2865A6"/><rect x="265.1" y="273.7" width="6.2" height="6.4" fill="#2865A6"/><rect x="270.9" y="273.7" width="6.2" height="6.4" fill="#2865A6"/><rect x="276.8" y="273.7" width="6.2" height="6.4" fill="#2865A6"/><rect x="282.7" y="273.7" width="6.2" height="6.4" fill="#2865A6"/><rect x="288.6" y="273.7" width="6.2" height="6.4" fill="#2865A6"/><rect x="294.5" y="273.7" width="6.2" height="6.4" fill="#2296B2"/><rect x="300.4" y="273.7" width="6.2" height="6.4" fill="#2865A6"/><rect x="306.2" y="273.7" width="6.2" height="6.4" fill="#2865A6"/><rect x="312.1" y="273.7" width="6.2" height="6.4" fill="#2E5A9E"/><rect x="218.0" y="279.8" width="6.2" height="6.4" fill="#2865A6"/><rect x="223.9" y="279.8" width="6.2" height="6.4" fill="#2296B2"/><rect x="229.8" y="279.8" width="6.2" height="6.4" fill="#1E3A8E"/><rect x="235.6" y="279.8" width="6.2" height="6.4" fill="#2865A6"/><rect x="241.5" y="279.8" width="6.2" height="6.4" fill="#2865A6"/><rect x="247.4" y="279.8" width="6.2" height="6.4" fill="#1E3A8E"/><rect x="253.3" y="279.8" width="6.2" height="6.4" fill="#2865A6"/><rect x="259.2" y="279.8" width="6.2" height="6.4" fill="#2865A6"/><rect x="265.1" y="279.8" width="6.2" height="6.4" fill="#2865A6"/><rect x="270.9" y="279.8" width="6.2" height="6.4" fill="#2E5A9E"/><rect x="276.8" y="279.8" width="6.2" height="6.4" fill="#2865A6"/><rect x="282.7" y="279.8" width="6.2" height="6.4" fill="#2E5A9E"/><rect x="288.6" y="279.8" width="6.2" height="6.4" fill="#2865A6"/><rect x="294.5" y="279.8" width="6.2" height="6.4" fill="#2296B2"/><rect x="300.4" y="279.8" width="6.2" height="6.4" fill="#2865A6"/><rect x="306.2" y="279.8" width="6.2" height="6.4" fill="#2865A6"/><rect x="312.1" y="279.8" width="6.2" height="6.4" fill="#2E5A9E"/><rect x="218.0" y="285.9" width="6.2" height="6.4" fill="#2865A6"/><rect x="223.9" y="285.9" width="6.2" height="6.4" fill="#2865A6"/><rect x="229.8" y="285.9" width="6.2" height="6.4" fill="#2865A6"/><rect x="235.6" y="285.9" width="6.2" height="6.4" fill="#2865A6"/><rect x="241.5" y="285.9" width="6.2" height="6.4" fill="#2865A6"/><rect x="247.4" y="285.9" width="6.2" height="6.4" fill="#2865A6"/><rect x="253.3" y="285.9" width="6.2" height="6.4" fill="#1E3A8E"/><rect x="259.2" y="285.9" width="6.2" height="6.4" fill="#2296B2"/><rect x="265.1" y="285.9" width="6.2" height="6.4" fill="#2865A6"/><rect x="270.9" y="285.9" width="6.2" height="6.4" fill="#2865A6"/><rect x="276.8" y="285.9" width="6.2" height="6.4" fill="#2296B2"/><rect x="282.7" y="285.9" width="6.2" height="6.4" fill="#2E5A9E"/><rect x="288.6" y="285.9" width="6.2" height="6.4" fill="#2865A6"/><rect x="294.5" y="285.9" width="6.2" height="6.4" fill="#2E5A9E"/><rect x="300.4" y="285.9" width="6.2" height="6.4" fill="#2865A6"/><rect x="306.2" y="285.9" width="6.2" height="6.4" fill="#2865A6"/><rect x="312.1" y="285.9" width="6.2" height="6.4" fill="#2865A6"/></g>
<polygon points="218.7,161.6 227.4,161.6 227.4,170.5 218.7,170.5" fill="#2865A6"/>
<polygon points="218.7,225 229.6,225 229.6,240.4 218.7,240.4" fill="#2865A6"/>
<polygon points="253.7,151.5 277.7,151.5 277.7,163 266,166 262,170.7 256,170.7 253.7,160" fill="#2865A6"/>
<polygon points="317.9,157 338,157 338,169 331,169 330,177.1 317.9,177.1" fill="#2865A6"/>
<polygon points="322,160 330,160 330,168 322,168" fill="#1E3A8E"/>
<polygon points="222,135 232,135 232,150 222,150" fill="#2296B2"/>
<polygon points="298,135 306,135 306,143 298,143" fill="#2296B2"/>
<polygon points="367.6,159.5 385.3,159.5 385.3,169.1 367.6,169.1" fill="#2296B2"/>
<polygon points="258.5,183.6 267.3,183.6 267.3,198 258.5,198" fill="#2865A6"/>
<polygon points="113.6,177 123.9,177 123.9,181 128,181 128,188 113.6,188" fill="#2865A6"/>
<polygon points="97.3,92.7 108.3,92.7 108.3,101 97.3,101" fill="#2296B2"/>
<polygon points="97.3,101 108.3,101 108.3,111.3 97.3,111.3" fill="#2865A6"/>
<polygon points="349,296 365.2,295 369.6,290.6 378.3,291.7 374,303.8 378.3,307 374,319 363,319 354.3,312.5 354.3,308" fill="#2865A6"/>
<polygon points="404.6,297.2 410,297.2 410,308 418.8,308 418.8,314.7 404.6,314.7" fill="#2865A6"/>
<polygon points="494.3,273 505.2,273 505.2,290.6 498,290.6" fill="#2865A6"/>
<polygon points="171,146 177,146 178,152 172,152" fill="#2865A6"/>
<polygon points="161.8,180.5 166,180.5 169,187 161.8,187" fill="#2865A6"/>
<polygon points="479,260 525,260 525,273 479,273" fill="#2865A6"/>
<polygon points="440.8,321.3 446.2,312.5 459.3,312.5 461.5,310 472.4,310 478,321.3 468,325.6 457,325.6 450.5,327" fill="#2865A6"/>
<polygon points="368.6,360 384,360 384,375.3 368.6,375.3" fill="#40C652"/>
<polygon points="403.6,372 420,368.3 438.6,370 438.6,388 420,390.7 403.6,386" fill="#40C652"/>
<polygon points="353,351.3 366.4,351.3 366.4,362.2 353,362.2" fill="#40C652"/>
<polygon points="395,335 405,335 405,350 395,350" fill="#40C652"/>
<polygon points="420,330 430,330 430,345 420,345" fill="#40C652"/>
<polyline points="548,290 560,280 572,268 578,255 584,240 586,228" fill="none" stroke="#FFFF80" stroke-width="2.5"/>
<polyline points="98.3,80 99,104 108,112 118,118.7 135.5,130.4 150.1,137.7 172,149.4 193.9,161 218,168.3 228,176" fill="none" stroke="#1E3A8E" stroke-width="1.1"/>
<polyline points="118,122 116,178" fill="none" stroke="#1E3A8E" stroke-width="1.0"/>
<polyline points="199.7,92 210,108 215,130 219,160 222,176" fill="none" stroke="#1E3A8E" stroke-width="1.0"/>
<polyline points="120,187 200,187" fill="none" stroke="#1E3A8E" stroke-width="0.8"/>
<polyline points="496,282 500,290 512,304 525,319 546.8,345.3 568.7,365 590.6,393.5" fill="none" stroke="#1E3A8E" stroke-width="1.1"/>
<polyline points="411,334.4 441.8,347.5 479,358.5 503,378 514,395.7 536,413" fill="none" stroke="#1E3A8E" stroke-width="0.6"/>
</g>
<text x="41.6" y="271.3" class="lt">Population Density</text>
<text x="41.8" y="287.8" class="lt">(per km^2)</text>
<rect x="48" y="302.80" width="27" height="12.6" fill="#FFFF80"/>
<text x="87.3" y="314.90" class="ll">< 50</text>
<rect x="48" y="320.94" width="27" height="12.6" fill="#BEF55C"/>
<text x="87.3" y="333.04" class="ll">51 - 100</text>
<rect x="48" y="339.08" width="27" height="12.6" fill="#82EA3A"/>
<text x="87.3" y="351.18" class="ll">101 - 200</text>
<rect x="48" y="357.22" width="27" height="12.6" fill="#3ADE12"/>
<text x="87.3" y="369.32" class="ll">201 - 300</text>
<rect x="48" y="375.36" width="27" height="12.6" fill="#40C652"/>
<text x="87.3" y="387.46" class="ll">301 - 386</text>
<rect x="48" y="393.50" width="27" height="12.6" fill="#35A985"/>
<text x="87.3" y="405.60" class="ll">387 - 500</text>
<rect x="48" y="411.64" width="27" height="12.6" fill="#2296B2"/>
<text x="87.3" y="423.74" class="ll">501 - 1000</text>
<rect x="48" y="429.78" width="27" height="12.6" fill="#2865A6"/>
<text x="87.3" y="441.88" class="ll">1001 - 2000</text>
<rect x="48" y="447.92" width="27" height="12.6" fill="#1E3A8E"/>
<text x="87.3" y="460.02" class="ll">> 2000</text>
<path d="M223.4 454.5 V460.2 H342 V454.5 M238.3 456.8 V460.2 M253.5 456.8 V460.2 M267.7 456.8 V460.2 M282.6 454.5 V460.2 M297.4 456.8 V460.2 M326.9 456.8 V460.2" fill="none" stroke="#6b6b6b" stroke-width="1.1"/>
<text x="219.0" y="449.4" class="sb">0</text>
<text x="248.7" y="449.4" class="sb">5</text>
<text x="274.6" y="449.4" class="sb">10</text>
<text x="333.3" y="449.4" class="sb">20</text>
<text x="352.0" y="449.4" class="sb">KM</text>
<path d="M584.8 56 L566.4 109.1" stroke="#444" stroke-width="0.8" stroke-dasharray="1.2 0.8" fill="none"/>
<path d="M585.5 58 L604.1 111.3 L584.4 104.8" stroke="#000" stroke-width="1.7" fill="none" stroke-linejoin="miter"/>
<path d="M569 112.3 L584.4 104.3 L584.6 106.2 L570 112.8 Z" fill="#000" stroke="#000" stroke-width="1.6"/>
<text x="577.6" y="133.5" class="na">N</text>
</g>
<text x="1023" y="553.4" class="ti" text-anchor="middle">Unconstrained Growth - 2040</text>
</svg>
</body></html>
